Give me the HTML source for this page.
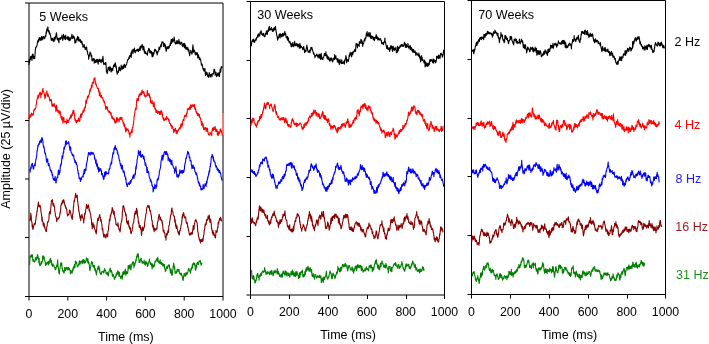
<!DOCTYPE html>
<html><head><meta charset="utf-8"><style>
html,body{margin:0;padding:0;background:#fff;}
body{width:709px;height:344px;overflow:hidden;}
svg{display:block;will-change:transform;}
text{font-family:"Liberation Sans", sans-serif;}
</style></head><body>
<svg width="709" height="344" viewBox="0 0 709 344">
<g shape-rendering="auto">
<line x1="25.0" y1="3.0" x2="223.0" y2="3.0" stroke="#000" stroke-width="1"/>
<line x1="29.0" y1="3.0" x2="29.0" y2="300.5" stroke="#000" stroke-width="1"/>
<line x1="223.0" y1="3.0" x2="223.0" y2="300.5" stroke="#000" stroke-width="1"/>
<line x1="25.0" y1="296.5" x2="223.0" y2="296.5" stroke="#000" stroke-width="1"/>
<line x1="25.0" y1="61.5" x2="29.0" y2="61.5" stroke="#000" stroke-width="1"/>
<line x1="25.0" y1="120.5" x2="29.0" y2="120.5" stroke="#000" stroke-width="1"/>
<line x1="25.0" y1="179.0" x2="29.0" y2="179.0" stroke="#000" stroke-width="1"/>
<line x1="25.0" y1="237.5" x2="29.0" y2="237.5" stroke="#000" stroke-width="1"/>
<line x1="67.8" y1="296.5" x2="67.8" y2="300.5" stroke="#000" stroke-width="1"/>
<line x1="106.6" y1="296.5" x2="106.6" y2="300.5" stroke="#000" stroke-width="1"/>
<line x1="145.4" y1="296.5" x2="145.4" y2="300.5" stroke="#000" stroke-width="1"/>
<line x1="184.2" y1="296.5" x2="184.2" y2="300.5" stroke="#000" stroke-width="1"/>
<line x1="246.5" y1="1.5" x2="444.5" y2="1.5" stroke="#000" stroke-width="1"/>
<line x1="250.5" y1="1.5" x2="250.5" y2="299.0" stroke="#000" stroke-width="1"/>
<line x1="444.5" y1="1.5" x2="444.5" y2="299.0" stroke="#000" stroke-width="1"/>
<line x1="246.5" y1="295.0" x2="444.5" y2="295.0" stroke="#000" stroke-width="1"/>
<line x1="246.5" y1="60.5" x2="250.5" y2="60.5" stroke="#000" stroke-width="1"/>
<line x1="246.5" y1="118.5" x2="250.5" y2="118.5" stroke="#000" stroke-width="1"/>
<line x1="246.5" y1="177.5" x2="250.5" y2="177.5" stroke="#000" stroke-width="1"/>
<line x1="246.5" y1="236.5" x2="250.5" y2="236.5" stroke="#000" stroke-width="1"/>
<line x1="289.5" y1="295.0" x2="289.5" y2="299.0" stroke="#000" stroke-width="1"/>
<line x1="328.5" y1="295.0" x2="328.5" y2="299.0" stroke="#000" stroke-width="1"/>
<line x1="367.5" y1="295.0" x2="367.5" y2="299.0" stroke="#000" stroke-width="1"/>
<line x1="406.5" y1="295.0" x2="406.5" y2="299.0" stroke="#000" stroke-width="1"/>
<line x1="467.5" y1="0.5" x2="665.5" y2="0.5" stroke="#000" stroke-width="1"/>
<line x1="471.5" y1="0.5" x2="471.5" y2="298.5" stroke="#000" stroke-width="1"/>
<line x1="665.5" y1="0.5" x2="665.5" y2="298.5" stroke="#000" stroke-width="1"/>
<line x1="467.5" y1="294.5" x2="665.5" y2="294.5" stroke="#000" stroke-width="1"/>
<line x1="467.5" y1="59.5" x2="471.5" y2="59.5" stroke="#000" stroke-width="1"/>
<line x1="467.5" y1="118.5" x2="471.5" y2="118.5" stroke="#000" stroke-width="1"/>
<line x1="467.5" y1="176.5" x2="471.5" y2="176.5" stroke="#000" stroke-width="1"/>
<line x1="467.5" y1="235.5" x2="471.5" y2="235.5" stroke="#000" stroke-width="1"/>
<line x1="510.5" y1="294.5" x2="510.5" y2="298.5" stroke="#000" stroke-width="1"/>
<line x1="549.5" y1="294.5" x2="549.5" y2="298.5" stroke="#000" stroke-width="1"/>
<line x1="588.5" y1="294.5" x2="588.5" y2="298.5" stroke="#000" stroke-width="1"/>
<line x1="627.5" y1="294.5" x2="627.5" y2="298.5" stroke="#000" stroke-width="1"/>
</g>
<g>
<line x1="223" y1="113" x2="223" y2="135" stroke="#ff7a7a" stroke-width="1.8"/>
<polyline fill="none" stroke="#000" stroke-width="1.1" stroke-linejoin="round" points="28.70,64.84 28.95,63.57 29.20,59.41 29.45,62.75 29.70,61.31 29.95,59.77 30.20,59.87 30.45,56.44 30.70,58.53 30.95,58.72 31.20,58.22 31.45,56.55 31.70,56.00 31.95,60.35 32.20,58.01 32.45,53.94 32.70,55.87 32.95,54.29 33.20,54.78 33.45,57.80 33.70,58.72 33.95,56.95 34.20,56.48 34.45,57.55 34.70,58.69 34.95,55.46 35.20,51.86 35.45,49.42 35.70,47.32 35.95,47.49 36.20,47.51 36.45,46.23 36.70,46.12 36.95,45.95 37.20,44.09 37.45,42.84 37.70,40.70 37.95,40.82 38.20,42.17 38.45,39.35 38.70,41.50 38.95,39.21 39.20,38.27 39.45,37.52 39.70,39.84 39.95,39.84 40.20,38.74 40.45,37.73 40.70,40.41 40.95,40.22 41.20,38.75 41.45,37.67 41.70,36.36 41.95,39.01 42.20,40.03 42.45,36.98 42.70,38.38 42.95,37.81 43.20,38.90 43.45,36.60 43.70,36.55 43.95,37.80 44.20,37.64 44.45,37.26 44.70,38.74 44.95,37.21 45.20,36.74 45.45,35.36 45.70,36.68 45.95,34.32 46.20,31.82 46.45,33.34 46.70,29.10 46.95,29.44 47.20,30.55 47.45,28.08 47.70,29.94 47.95,26.92 48.20,31.56 48.45,31.91 48.70,31.05 48.95,30.49 49.20,31.37 49.45,34.18 49.70,33.61 49.95,33.14 50.20,34.42 50.45,35.23 50.70,36.76 50.95,37.76 51.20,40.22 51.45,40.24 51.70,40.36 51.95,38.32 52.20,39.11 52.45,38.20 52.70,39.31 52.95,40.79 53.20,41.00 53.45,39.39 53.70,40.17 53.95,41.60 54.20,37.55 54.45,39.09 54.70,40.17 54.95,39.73 55.20,36.88 55.45,38.33 55.70,37.14 55.95,35.59 56.20,33.75 56.45,32.75 56.70,34.90 56.95,37.75 57.20,39.47 57.45,39.72 57.70,38.17 57.95,39.05 58.20,39.26 58.45,41.39 58.70,38.24 58.95,42.60 59.20,38.93 59.45,38.30 59.70,38.47 59.95,37.82 60.20,37.81 60.45,39.44 60.70,37.61 60.95,38.84 61.20,37.19 61.45,37.38 61.70,37.51 61.95,34.94 62.20,37.74 62.45,38.75 62.70,40.49 62.95,39.41 63.20,37.85 63.45,34.41 63.70,37.19 63.95,37.96 64.20,36.89 64.45,36.00 64.70,38.82 64.95,38.77 65.20,39.57 65.45,39.29 65.70,35.13 65.95,37.68 66.20,37.48 66.45,38.08 66.70,37.98 66.95,37.77 67.20,39.26 67.45,39.31 67.70,36.63 67.95,39.02 68.20,39.65 68.45,36.68 68.70,39.90 68.95,39.97 69.20,40.72 69.45,40.17 69.70,37.50 69.95,39.86 70.20,39.43 70.45,40.13 70.70,38.93 70.95,38.60 71.20,37.06 71.45,38.09 71.70,35.67 71.95,34.40 72.20,35.98 72.45,38.28 72.70,36.60 72.95,38.66 73.20,37.87 73.45,35.84 73.70,37.06 73.95,36.56 74.20,37.07 74.45,38.16 74.70,40.22 74.95,43.12 75.20,41.57 75.45,41.43 75.70,40.65 75.95,42.41 76.20,39.15 76.45,39.44 76.70,40.00 76.95,39.61 77.20,37.75 77.45,37.28 77.70,36.39 77.95,37.60 78.20,40.95 78.45,39.87 78.70,37.38 78.95,39.92 79.20,39.57 79.45,41.27 79.70,41.27 79.95,39.78 80.20,40.35 80.45,39.68 80.70,42.37 80.95,41.39 81.20,40.80 81.45,42.93 81.70,42.59 81.95,41.65 82.20,44.47 82.45,43.49 82.70,43.91 82.95,47.15 83.20,45.68 83.45,46.85 83.70,46.71 83.95,46.97 84.20,44.56 84.45,46.63 84.70,47.80 84.95,47.45 85.20,49.37 85.45,48.55 85.70,48.47 85.95,49.18 86.20,46.87 86.45,49.05 86.70,47.35 86.95,51.07 87.20,50.87 87.45,51.29 87.70,53.59 87.95,54.74 88.20,54.68 88.45,55.83 88.70,59.22 88.95,56.67 89.20,55.64 89.45,56.03 89.70,54.93 89.95,51.98 90.20,53.07 90.45,53.37 90.70,53.07 90.95,53.74 91.20,56.54 91.45,55.39 91.70,55.25 91.95,60.31 92.20,60.93 92.45,58.85 92.70,59.49 92.95,59.87 93.20,59.59 93.45,58.60 93.70,60.50 93.95,58.95 94.20,63.27 94.45,61.49 94.70,59.14 94.95,61.44 95.20,62.58 95.45,61.20 95.70,60.60 95.95,62.11 96.20,60.88 96.45,60.27 96.70,59.29 96.95,62.06 97.20,61.80 97.45,61.80 97.70,59.49 97.95,63.04 98.20,64.10 98.45,61.54 98.70,61.58 98.95,59.84 99.20,59.05 99.45,59.35 99.70,61.52 99.95,59.71 100.20,60.22 100.45,59.87 100.70,61.10 100.95,62.67 101.20,62.76 101.45,59.75 101.70,60.54 101.95,59.36 102.20,60.44 102.45,61.65 102.70,58.18 102.95,56.32 103.20,59.29 103.45,62.59 103.70,64.23 103.95,64.61 104.20,63.80 104.45,63.48 104.70,63.29 104.95,64.19 105.20,62.71 105.45,64.61 105.70,62.58 105.95,63.16 106.20,66.68 106.45,71.79 106.70,71.58 106.95,72.82 107.20,73.52 107.45,72.70 107.70,70.36 107.95,68.91 108.20,67.26 108.45,68.40 108.70,67.39 108.95,69.59 109.20,69.28 109.45,70.79 109.70,68.52 109.95,66.36 110.20,67.95 110.45,68.41 110.70,68.02 110.95,71.91 111.20,71.82 111.45,69.82 111.70,69.36 111.95,68.24 112.20,70.53 112.45,69.95 112.70,70.62 112.95,67.95 113.20,67.98 113.45,66.19 113.70,65.04 113.95,66.61 114.20,64.66 114.45,65.18 114.70,66.23 114.95,63.49 115.20,63.26 115.45,62.95 115.70,66.35 115.95,67.67 116.20,66.09 116.45,68.92 116.70,71.94 116.95,70.67 117.20,74.16 117.45,73.07 117.70,72.64 117.95,72.78 118.20,71.25 118.45,72.17 118.70,69.42 118.95,67.50 119.20,67.20 119.45,67.02 119.70,68.47 119.95,70.63 120.20,70.84 120.45,70.08 120.70,68.09 120.95,67.93 121.20,65.02 121.45,66.15 121.70,66.18 121.95,69.80 122.20,67.61 122.45,68.46 122.70,67.94 122.95,66.04 123.20,65.83 123.45,68.45 123.70,67.81 123.95,65.37 124.20,64.43 124.45,64.21 124.70,67.14 124.95,67.29 125.20,65.50 125.45,67.34 125.70,65.33 125.95,65.36 126.20,64.99 126.45,64.31 126.70,64.02 126.95,62.29 127.20,62.05 127.45,60.30 127.70,59.67 127.95,59.95 128.20,59.08 128.45,59.17 128.70,58.58 128.95,57.14 129.20,58.75 129.45,57.28 129.70,55.62 129.95,55.81 130.20,56.44 130.45,56.25 130.70,56.20 130.95,52.82 131.20,57.46 131.45,54.59 131.70,51.54 131.95,51.15 132.20,49.96 132.45,50.87 132.70,49.97 132.95,53.62 133.20,51.25 133.45,49.35 133.70,49.41 133.95,50.45 134.20,50.86 134.45,48.10 134.70,51.95 134.95,52.31 135.20,52.82 135.45,50.83 135.70,50.69 135.95,50.39 136.20,50.26 136.45,49.82 136.70,49.88 136.95,51.30 137.20,49.83 137.45,50.40 137.70,48.99 137.95,49.45 138.20,49.83 138.45,51.75 138.70,49.36 138.95,49.02 139.20,50.08 139.45,50.27 139.70,48.89 139.95,46.80 140.20,50.36 140.45,48.20 140.70,46.05 140.95,47.39 141.20,47.98 141.45,46.16 141.70,45.70 141.95,45.95 142.20,44.19 142.45,46.52 142.70,47.42 142.95,49.90 143.20,47.48 143.45,46.28 143.70,46.40 143.95,47.36 144.20,52.06 144.45,49.92 144.70,53.13 144.95,53.12 145.20,53.34 145.45,51.66 145.70,52.93 145.95,53.21 146.20,53.94 146.45,53.72 146.70,54.09 146.95,53.15 147.20,54.34 147.45,55.15 147.70,52.44 147.95,50.51 148.20,51.11 148.45,50.36 148.70,48.32 148.95,50.05 149.20,49.81 149.45,49.02 149.70,52.82 149.95,52.50 150.20,50.49 150.45,51.58 150.70,52.61 150.95,53.13 151.20,53.57 151.45,51.38 151.70,52.30 151.95,55.45 152.20,56.79 152.45,52.61 152.70,56.81 152.95,56.04 153.20,56.02 153.45,53.08 153.70,52.57 153.95,53.91 154.20,51.83 154.45,50.59 154.70,49.20 154.95,49.66 155.20,49.56 155.45,50.77 155.70,49.74 155.95,50.78 156.20,51.50 156.45,52.95 156.70,51.70 156.95,51.96 157.20,54.96 157.45,53.11 157.70,52.61 157.95,51.52 158.20,50.82 158.45,50.77 158.70,50.99 158.95,47.40 159.20,48.40 159.45,48.43 159.70,49.49 159.95,47.76 160.20,46.27 160.45,46.46 160.70,44.82 160.95,45.34 161.20,46.87 161.45,44.00 161.70,43.07 161.95,41.71 162.20,42.51 162.45,42.60 162.70,42.11 162.95,43.14 163.20,42.26 163.45,46.53 163.70,46.35 163.95,44.05 164.20,44.01 164.45,43.68 164.70,45.42 164.95,43.95 165.20,47.99 165.45,44.99 165.70,46.91 165.95,49.38 166.20,51.42 166.45,49.45 166.70,49.09 166.95,47.34 167.20,46.53 167.45,47.31 167.70,48.78 167.95,47.79 168.20,48.70 168.45,48.17 168.70,46.37 168.95,46.33 169.20,47.93 169.45,46.41 169.70,45.48 169.95,45.39 170.20,43.18 170.45,45.48 170.70,41.70 170.95,41.89 171.20,39.35 171.45,43.46 171.70,40.05 171.95,40.98 172.20,41.30 172.45,38.82 172.70,39.38 172.95,42.11 173.20,41.12 173.45,39.98 173.70,40.68 173.95,39.01 174.20,36.98 174.45,39.32 174.70,40.66 174.95,42.91 175.20,42.95 175.45,44.01 175.70,42.90 175.95,42.21 176.20,43.70 176.45,41.64 176.70,41.17 176.95,40.48 177.20,43.60 177.45,41.01 177.70,41.61 177.95,42.72 178.20,43.36 178.45,42.55 178.70,40.80 178.95,39.42 179.20,43.72 179.45,42.47 179.70,42.06 179.95,41.85 180.20,44.50 180.45,43.81 180.70,43.35 180.95,43.41 181.20,43.48 181.45,42.82 181.70,42.13 181.95,43.63 182.20,45.82 182.45,45.60 182.70,46.71 182.95,43.95 183.20,45.18 183.45,43.61 183.70,45.69 183.95,46.14 184.20,46.70 184.45,47.83 184.70,43.31 184.95,46.41 185.20,47.59 185.45,45.40 185.70,48.93 185.95,48.50 186.20,46.98 186.45,47.68 186.70,49.25 186.95,48.25 187.20,47.84 187.45,49.80 187.70,47.37 187.95,48.26 188.20,51.00 188.45,50.41 188.70,49.41 188.95,50.45 189.20,53.65 189.45,52.98 189.70,55.69 189.95,53.06 190.20,52.40 190.45,51.71 190.70,50.38 190.95,51.98 191.20,51.90 191.45,52.67 191.70,53.85 191.95,54.23 192.20,52.70 192.45,50.00 192.70,47.51 192.95,44.70 193.20,47.27 193.45,52.16 193.70,51.62 193.95,49.81 194.20,50.16 194.45,50.64 194.70,51.85 194.95,52.58 195.20,54.19 195.45,54.94 195.70,54.26 195.95,52.18 196.20,53.83 196.45,52.96 196.70,54.73 196.95,53.64 197.20,52.78 197.45,52.82 197.70,58.06 197.95,57.83 198.20,54.49 198.45,55.29 198.70,56.04 198.95,57.92 199.20,57.53 199.45,59.64 199.70,58.14 199.95,57.88 200.20,58.91 200.45,59.50 200.70,60.23 200.95,61.74 201.20,63.12 201.45,65.23 201.70,63.80 201.95,65.51 202.20,64.37 202.45,66.11 202.70,66.91 202.95,68.49 203.20,69.52 203.45,69.83 203.70,68.90 203.95,70.40 204.20,71.27 204.45,68.79 204.70,69.36 204.95,68.64 205.20,72.06 205.45,75.64 205.70,73.40 205.95,73.72 206.20,72.10 206.45,74.43 206.70,74.59 206.95,73.57 207.20,72.84 207.45,76.10 207.70,75.76 207.95,75.11 208.20,75.31 208.45,77.25 208.70,74.89 208.95,77.17 209.20,72.47 209.45,73.27 209.70,74.71 209.95,74.31 210.20,75.06 210.45,76.96 210.70,74.78 210.95,74.84 211.20,74.86 211.45,74.36 211.70,75.66 211.95,76.96 212.20,74.00 212.45,73.77 212.70,73.54 212.95,74.30 213.20,73.74 213.45,74.11 213.70,72.72 213.95,69.38 214.20,70.05 214.45,69.42 214.70,70.48 214.95,71.32 215.20,75.39 215.45,73.27 215.70,73.91 215.95,72.34 216.20,73.49 216.45,74.82 216.70,76.65 216.95,75.27 217.20,75.94 217.45,74.55 217.70,73.36 217.95,73.28 218.20,72.90 218.45,73.95 218.70,75.50 218.95,76.35 219.20,72.77 219.45,76.36 219.70,73.35 219.95,71.47 220.20,69.03 220.45,71.05 220.70,72.16 220.95,68.81 221.20,66.74 221.45,68.20 221.70,66.47 221.95,66.84 222.20,67.62"/>
<polyline fill="none" stroke="#ff0000" stroke-width="1.1" stroke-linejoin="round" points="28.90,119.07 29.15,115.98 29.40,116.85 29.65,115.52 29.90,117.64 30.15,115.97 30.40,114.73 30.65,115.27 30.90,116.64 31.15,114.37 31.40,113.36 31.65,113.00 31.90,114.30 32.15,114.98 32.40,114.47 32.65,114.00 32.90,115.47 33.15,114.78 33.40,114.29 33.65,112.12 33.90,109.68 34.15,109.90 34.40,110.41 34.65,108.72 34.90,109.43 35.15,109.27 35.40,108.74 35.65,107.99 35.90,107.45 36.15,104.72 36.40,104.00 36.65,101.66 36.90,99.39 37.15,99.43 37.40,98.42 37.65,97.45 37.90,95.30 38.15,98.26 38.40,97.14 38.65,97.03 38.90,94.47 39.15,95.47 39.40,94.36 39.65,92.52 39.90,93.72 40.15,94.79 40.40,92.21 40.65,94.77 40.90,97.83 41.15,93.70 41.40,94.66 41.65,92.98 41.90,93.32 42.15,93.84 42.40,89.45 42.65,91.77 42.90,88.25 43.15,91.39 43.40,91.13 43.65,91.89 43.90,92.69 44.15,93.02 44.40,95.86 44.65,94.26 44.90,98.73 45.15,97.74 45.40,97.43 45.65,95.11 45.90,94.29 46.15,92.54 46.40,92.71 46.65,92.78 46.90,90.86 47.15,93.60 47.40,95.67 47.65,96.20 47.90,96.32 48.15,94.07 48.40,95.82 48.65,96.14 48.90,96.84 49.15,97.12 49.40,98.19 49.65,100.58 49.90,100.89 50.15,99.54 50.40,100.81 50.65,100.45 50.90,99.27 51.15,99.63 51.40,99.87 51.65,103.78 51.90,105.50 52.15,106.54 52.40,104.92 52.65,104.04 52.90,104.19 53.15,106.23 53.40,105.61 53.65,104.62 53.90,105.32 54.15,103.28 54.40,106.06 54.65,105.13 54.90,106.44 55.15,107.26 55.40,106.74 55.65,108.28 55.90,111.66 56.15,105.91 56.40,108.47 56.65,104.97 56.90,109.19 57.15,110.77 57.40,110.46 57.65,110.06 57.90,112.12 58.15,111.37 58.40,111.51 58.65,112.20 58.90,110.57 59.15,114.03 59.40,112.79 59.65,112.24 59.90,110.95 60.15,111.45 60.40,113.15 60.65,114.48 60.90,117.34 61.15,118.13 61.40,117.08 61.65,119.46 61.90,119.84 62.15,116.64 62.40,120.27 62.65,119.75 62.90,123.13 63.15,120.69 63.40,117.59 63.65,120.17 63.90,117.75 64.15,120.88 64.40,122.20 64.65,122.00 64.90,121.56 65.15,121.77 65.40,121.64 65.65,121.19 65.90,122.42 66.15,122.59 66.40,123.85 66.65,122.70 66.90,119.17 67.15,122.44 67.40,121.53 67.65,120.42 67.90,122.43 68.15,122.52 68.40,121.57 68.65,121.19 68.90,119.63 69.15,119.94 69.40,119.53 69.65,117.98 69.90,118.71 70.15,117.05 70.40,117.29 70.65,115.15 70.90,116.76 71.15,118.06 71.40,116.52 71.65,114.92 71.90,114.00 72.15,115.66 72.40,113.48 72.65,112.31 72.90,111.83 73.15,110.08 73.40,113.27 73.65,110.53 73.90,110.81 74.15,113.73 74.40,114.55 74.65,116.29 74.90,120.30 75.15,118.65 75.40,120.53 75.65,119.50 75.90,121.60 76.15,122.83 76.40,120.52 76.65,122.57 76.90,120.53 77.15,120.28 77.40,121.38 77.65,120.45 77.90,121.40 78.15,121.44 78.40,117.99 78.65,117.95 78.90,119.94 79.15,120.42 79.40,119.39 79.65,121.40 79.90,120.10 80.15,115.92 80.40,117.36 80.65,114.01 80.90,115.73 81.15,117.60 81.40,115.10 81.65,114.21 81.90,113.30 82.15,114.64 82.40,112.84 82.65,112.44 82.90,111.82 83.15,110.42 83.40,111.66 83.65,112.21 83.90,111.34 84.15,108.36 84.40,110.54 84.65,108.54 84.90,107.41 85.15,106.28 85.40,107.56 85.65,104.34 85.90,100.10 86.15,103.21 86.40,103.34 86.65,100.37 86.90,100.39 87.15,98.99 87.40,96.66 87.65,98.82 87.90,97.29 88.15,95.50 88.40,96.89 88.65,95.99 88.90,94.96 89.15,94.50 89.40,93.49 89.65,90.57 89.90,91.94 90.15,88.79 90.40,90.87 90.65,89.36 90.90,89.11 91.15,88.79 91.40,85.15 91.65,86.26 91.90,87.53 92.15,86.19 92.40,82.42 92.65,83.15 92.90,82.42 93.15,83.23 93.40,82.05 93.65,82.86 93.90,78.55 94.15,79.84 94.40,78.80 94.65,78.55 94.90,77.56 95.15,80.12 95.40,83.71 95.65,82.24 95.90,84.81 96.15,83.86 96.40,85.60 96.65,86.40 96.90,86.87 97.15,87.38 97.40,88.38 97.65,88.38 97.90,88.34 98.15,88.85 98.40,88.30 98.65,91.73 98.90,90.61 99.15,91.36 99.40,95.38 99.65,92.10 99.90,92.13 100.15,93.17 100.40,96.97 100.65,96.21 100.90,95.98 101.15,97.11 101.40,95.33 101.65,96.84 101.90,98.10 102.15,98.13 102.40,97.85 102.65,98.59 102.90,97.87 103.15,100.55 103.40,100.55 103.65,100.38 103.90,101.84 104.15,102.70 104.40,101.25 104.65,103.50 104.90,103.09 105.15,105.48 105.40,105.95 105.65,109.14 105.90,107.78 106.15,106.97 106.40,108.32 106.65,106.50 106.90,108.11 107.15,109.07 107.40,106.75 107.65,109.52 107.90,110.58 108.15,111.18 108.40,111.27 108.65,111.01 108.90,112.49 109.15,111.25 109.40,112.75 109.65,111.12 109.90,113.25 110.15,112.42 110.40,112.35 110.65,112.88 110.90,115.07 111.15,113.13 111.40,116.04 111.65,116.24 111.90,118.34 112.15,116.02 112.40,118.52 112.65,118.63 112.90,117.78 113.15,117.85 113.40,119.40 113.65,119.64 113.90,119.83 114.15,120.18 114.40,118.90 114.65,122.07 114.90,121.75 115.15,123.13 115.40,122.85 115.65,121.37 115.90,120.30 116.15,122.49 116.40,121.46 116.65,117.41 116.90,119.05 117.15,121.58 117.40,118.06 117.65,118.18 117.90,119.84 118.15,119.36 118.40,119.96 118.65,119.50 118.90,121.87 119.15,121.71 119.40,118.85 119.65,118.63 119.90,117.59 120.15,117.85 120.40,119.06 120.65,119.54 120.90,117.33 121.15,119.37 121.40,119.15 121.65,118.73 121.90,117.19 122.15,119.64 122.40,120.93 122.65,121.06 122.90,121.50 123.15,123.45 123.40,122.53 123.65,123.04 123.90,125.67 124.15,126.35 124.40,125.22 124.65,124.00 124.90,127.88 125.15,127.40 125.40,129.39 125.65,131.89 125.90,129.85 126.15,127.68 126.40,129.88 126.65,129.09 126.90,130.67 127.15,129.24 127.40,129.68 127.65,129.96 127.90,128.73 128.15,130.12 128.40,130.07 128.65,131.66 128.90,132.37 129.15,134.14 129.40,134.01 129.65,132.85 129.90,137.15 130.15,134.12 130.40,133.45 130.65,133.62 130.90,132.15 131.15,132.76 131.40,131.32 131.65,129.78 131.90,131.84 132.15,132.47 132.40,127.84 132.65,127.02 132.90,127.74 133.15,124.55 133.40,124.64 133.65,121.81 133.90,119.47 134.15,115.79 134.40,115.94 134.65,113.95 134.90,111.61 135.15,110.52 135.40,108.62 135.65,108.11 135.90,109.13 136.15,109.78 136.40,104.52 136.65,101.12 136.90,99.41 137.15,98.48 137.40,100.30 137.65,99.89 137.90,100.86 138.15,98.64 138.40,100.68 138.65,96.35 138.90,96.28 139.15,94.39 139.40,95.47 139.65,95.38 139.90,95.95 140.15,93.58 140.40,93.54 140.65,94.76 140.90,92.84 141.15,92.41 141.40,94.33 141.65,94.47 141.90,90.35 142.15,90.11 142.40,92.58 142.65,92.30 142.90,92.57 143.15,91.47 143.40,93.48 143.65,93.28 143.90,91.92 144.15,92.85 144.40,95.76 144.65,96.08 144.90,95.14 145.15,96.16 145.40,97.04 145.65,96.44 145.90,95.71 146.15,96.27 146.40,95.94 146.65,96.04 146.90,95.26 147.15,91.09 147.40,90.44 147.65,95.37 147.90,94.80 148.15,93.49 148.40,94.99 148.65,94.24 148.90,95.61 149.15,93.90 149.40,94.26 149.65,97.53 149.90,97.92 150.15,96.74 150.40,98.80 150.65,102.78 150.90,102.76 151.15,103.12 151.40,101.80 151.65,103.23 151.90,100.53 152.15,100.66 152.40,103.44 152.65,103.22 152.90,103.01 153.15,104.54 153.40,106.75 153.65,103.95 153.90,102.96 154.15,102.16 154.40,106.79 154.65,107.51 154.90,108.51 155.15,109.67 155.40,108.41 155.65,109.00 155.90,111.74 156.15,112.55 156.40,111.02 156.65,112.42 156.90,110.06 157.15,111.33 157.40,111.50 157.65,113.35 157.90,112.44 158.15,112.27 158.40,111.70 158.65,111.37 158.90,112.13 159.15,113.99 159.40,112.84 159.65,114.35 159.90,111.40 160.15,114.57 160.40,111.95 160.65,114.13 160.90,112.81 161.15,110.27 161.40,112.97 161.65,111.34 161.90,111.92 162.15,114.55 162.40,113.59 162.65,117.05 162.90,117.71 163.15,118.46 163.40,119.55 163.65,117.73 163.90,120.78 164.15,119.98 164.40,119.35 164.65,119.69 164.90,120.18 165.15,119.55 165.40,118.46 165.65,118.03 165.90,119.49 166.15,119.20 166.40,119.58 166.65,116.42 166.90,117.06 167.15,117.92 167.40,117.84 167.65,118.55 167.90,118.58 168.15,118.41 168.40,119.67 168.65,120.03 168.90,121.33 169.15,119.51 169.40,123.20 169.65,122.88 169.90,123.45 170.15,123.16 170.40,123.79 170.65,125.49 170.90,125.74 171.15,126.34 171.40,125.36 171.65,124.97 171.90,128.24 172.15,126.96 172.40,127.05 172.65,126.67 172.90,127.98 173.15,129.11 173.40,129.51 173.65,132.59 173.90,129.68 174.15,129.49 174.40,130.52 174.65,131.43 174.90,129.26 175.15,128.62 175.40,128.18 175.65,129.70 175.90,130.12 176.15,133.48 176.40,130.24 176.65,130.93 176.90,130.70 177.15,134.01 177.40,130.81 177.65,131.24 177.90,131.30 178.15,131.10 178.40,129.61 178.65,129.94 178.90,129.16 179.15,128.16 179.40,128.42 179.65,127.50 179.90,127.78 180.15,129.12 180.40,127.33 180.65,125.13 180.90,125.34 181.15,123.54 181.40,125.36 181.65,123.99 181.90,127.09 182.15,124.45 182.40,124.94 182.65,121.91 182.90,120.84 183.15,119.51 183.40,120.41 183.65,120.51 183.90,120.77 184.15,117.60 184.40,116.57 184.65,115.50 184.90,115.71 185.15,116.11 185.40,115.02 185.65,116.19 185.90,114.97 186.15,117.06 186.40,114.94 186.65,112.69 186.90,112.71 187.15,113.58 187.40,109.00 187.65,108.79 187.90,108.82 188.15,109.43 188.40,109.33 188.65,108.47 188.90,108.24 189.15,110.02 189.40,107.61 189.65,107.51 189.90,108.15 190.15,105.92 190.40,109.10 190.65,107.22 190.90,104.50 191.15,106.42 191.40,107.42 191.65,105.87 191.90,105.36 192.15,105.85 192.40,104.82 192.65,106.49 192.90,104.96 193.15,106.21 193.40,105.46 193.65,105.22 193.90,105.92 194.15,106.37 194.40,104.20 194.65,107.39 194.90,109.12 195.15,109.49 195.40,107.67 195.65,108.85 195.90,111.39 196.15,112.08 196.40,111.27 196.65,113.56 196.90,112.15 197.15,112.84 197.40,115.28 197.65,115.57 197.90,113.87 198.15,113.20 198.40,115.42 198.65,114.23 198.90,114.54 199.15,116.44 199.40,114.60 199.65,117.81 199.90,117.63 200.15,117.38 200.40,118.04 200.65,119.30 200.90,120.76 201.15,121.70 201.40,124.15 201.65,125.48 201.90,121.44 202.15,123.76 202.40,123.40 202.65,123.55 202.90,127.17 203.15,124.47 203.40,126.77 203.65,129.36 203.90,129.14 204.15,127.27 204.40,129.76 204.65,129.18 204.90,128.31 205.15,128.32 205.40,129.28 205.65,127.41 205.90,128.36 206.15,131.17 206.40,130.91 206.65,131.35 206.90,128.19 207.15,131.11 207.40,127.97 207.65,131.47 207.90,131.06 208.15,133.30 208.40,134.60 208.65,134.30 208.90,133.96 209.15,134.91 209.40,135.06 209.65,134.08 209.90,134.90 210.15,132.15 210.40,132.67 210.65,133.11 210.90,133.84 211.15,133.94 211.40,132.74 211.65,135.76 211.90,131.37 212.15,130.30 212.40,128.42 212.65,128.20 212.90,129.42 213.15,130.82 213.40,129.90 213.65,129.38 213.90,127.04 214.15,128.55 214.40,129.54 214.65,129.04 214.90,128.54 215.15,126.47 215.40,128.95 215.65,130.81 215.90,131.53 216.15,130.18 216.40,130.04 216.65,131.09 216.90,129.04 217.15,131.50 217.40,134.92 217.65,133.59 217.90,135.09 218.15,131.56 218.40,134.57 218.65,135.24 218.90,133.21 219.15,132.48 219.40,133.27 219.65,132.65 219.90,131.16 220.15,129.74 220.40,128.82 220.65,129.51 220.90,132.02 221.15,131.91 221.40,130.83 221.65,132.26 221.90,132.90 222.15,135.18 222.40,135.82"/>
<polyline fill="none" stroke="#0000ff" stroke-width="1.1" stroke-linejoin="round" points="29.90,169.03 30.15,172.24 30.40,168.90 30.65,169.09 30.90,166.70 31.15,168.40 31.40,165.25 31.65,164.13 31.90,163.93 32.15,164.51 32.40,163.21 32.65,166.16 32.90,167.16 33.15,168.23 33.40,169.22 33.65,169.02 33.90,166.17 34.15,165.15 34.40,165.07 34.65,165.38 34.90,163.63 35.15,166.03 35.40,162.98 35.65,161.53 35.90,159.05 36.15,159.14 36.40,157.13 36.65,156.15 36.90,152.98 37.15,150.15 37.40,150.33 37.65,147.84 37.90,145.37 38.15,146.38 38.40,144.61 38.65,143.99 38.90,143.76 39.15,144.57 39.40,142.97 39.65,141.20 39.90,143.01 40.15,142.02 40.40,140.89 40.65,141.76 40.90,139.83 41.15,140.92 41.40,142.49 41.65,138.52 41.90,137.65 42.15,138.06 42.40,138.45 42.65,139.87 42.90,141.01 43.15,144.85 43.40,146.26 43.65,147.27 43.90,146.27 44.15,148.25 44.40,149.26 44.65,151.97 44.90,153.40 45.15,153.65 45.40,153.04 45.65,154.56 45.90,155.98 46.15,158.08 46.40,160.09 46.65,162.27 46.90,159.74 47.15,160.26 47.40,160.63 47.65,158.77 47.90,162.30 48.15,164.46 48.40,165.60 48.65,163.67 48.90,163.65 49.15,165.00 49.40,166.14 49.65,166.22 49.90,168.04 50.15,169.40 50.40,170.97 50.65,170.74 50.90,170.13 51.15,170.42 51.40,171.95 51.65,172.94 51.90,171.98 52.15,175.09 52.40,174.16 52.65,174.48 52.90,177.13 53.15,178.75 53.40,179.46 53.65,179.91 53.90,179.01 54.15,178.31 54.40,179.88 54.65,180.41 54.90,178.69 55.15,176.29 55.40,180.70 55.65,179.72 55.90,182.94 56.15,182.57 56.40,179.96 56.65,178.63 56.90,177.72 57.15,178.02 57.40,176.52 57.65,177.82 57.90,174.47 58.15,172.99 58.40,169.95 58.65,173.32 58.90,172.52 59.15,174.64 59.40,173.05 59.65,170.12 59.90,172.82 60.15,168.47 60.40,165.10 60.65,166.16 60.90,163.90 61.15,164.89 61.40,163.85 61.65,160.41 61.90,158.39 62.15,155.77 62.40,158.54 62.65,158.18 62.90,155.92 63.15,153.68 63.40,151.44 63.65,152.89 63.90,147.63 64.15,147.90 64.40,149.25 64.65,146.98 64.90,146.09 65.15,146.58 65.40,143.55 65.65,141.10 65.90,145.01 66.15,142.05 66.40,140.90 66.65,143.36 66.90,144.14 67.15,143.44 67.40,143.33 67.65,143.08 67.90,143.11 68.15,142.43 68.40,143.46 68.65,141.63 68.90,143.13 69.15,145.07 69.40,146.88 69.65,147.61 69.90,150.20 70.15,149.86 70.40,146.92 70.65,147.30 70.90,150.89 71.15,152.59 71.40,152.77 71.65,153.22 71.90,153.13 72.15,154.34 72.40,155.57 72.65,154.64 72.90,155.62 73.15,155.90 73.40,155.46 73.65,155.01 73.90,158.17 74.15,158.68 74.40,160.20 74.65,159.74 74.90,162.49 75.15,161.44 75.40,160.77 75.65,161.64 75.90,163.39 76.15,164.43 76.40,162.65 76.65,164.92 76.90,164.76 77.15,164.90 77.40,168.22 77.65,170.33 77.90,170.09 78.15,173.33 78.40,173.67 78.65,173.20 78.90,176.25 79.15,178.60 79.40,177.76 79.65,178.86 79.90,178.44 80.15,177.92 80.40,181.56 80.65,178.29 80.90,178.85 81.15,178.57 81.40,179.66 81.65,177.98 81.90,176.90 82.15,176.79 82.40,176.37 82.65,176.23 82.90,175.57 83.15,176.94 83.40,173.39 83.65,174.57 83.90,172.09 84.15,169.67 84.40,173.77 84.65,172.58 84.90,171.75 85.15,169.15 85.40,170.08 85.65,168.76 85.90,170.42 86.15,166.99 86.40,164.63 86.65,162.78 86.90,162.68 87.15,161.14 87.40,160.21 87.65,157.14 87.90,156.68 88.15,155.47 88.40,152.96 88.65,152.47 88.90,153.07 89.15,153.81 89.40,153.35 89.65,152.71 89.90,154.87 90.15,153.67 90.40,154.99 90.65,154.40 90.90,152.39 91.15,152.37 91.40,152.20 91.65,152.66 91.90,153.70 92.15,154.34 92.40,152.48 92.65,152.99 92.90,152.97 93.15,152.93 93.40,152.90 93.65,154.20 93.90,154.90 94.15,154.76 94.40,155.67 94.65,158.99 94.90,157.76 95.15,159.72 95.40,160.30 95.65,163.17 95.90,160.76 96.15,159.75 96.40,164.30 96.65,165.68 96.90,166.42 97.15,164.35 97.40,163.76 97.65,168.44 97.90,169.10 98.15,167.98 98.40,167.38 98.65,171.90 98.90,167.21 99.15,171.44 99.40,170.06 99.65,169.85 99.90,168.93 100.15,170.18 100.40,169.87 100.65,168.62 100.90,169.45 101.15,171.55 101.40,170.54 101.65,174.79 101.90,173.45 102.15,173.90 102.40,173.55 102.65,175.05 102.90,176.80 103.15,175.82 103.40,179.33 103.65,176.28 103.90,179.13 104.15,177.38 104.40,176.09 104.65,172.23 104.90,173.96 105.15,176.12 105.40,171.58 105.65,172.33 105.90,175.04 106.15,173.10 106.40,171.91 106.65,173.12 106.90,173.67 107.15,173.40 107.40,173.42 107.65,173.50 107.90,173.77 108.15,173.05 108.40,174.10 108.65,173.21 108.90,170.33 109.15,168.82 109.40,169.63 109.65,168.88 109.90,168.33 110.15,165.67 110.40,164.75 110.65,164.07 110.90,164.66 111.15,162.04 111.40,162.32 111.65,163.80 111.90,160.19 112.15,158.18 112.40,157.26 112.65,154.65 112.90,153.55 113.15,152.26 113.40,152.69 113.65,154.02 113.90,149.56 114.15,148.28 114.40,147.63 114.65,149.80 114.90,147.14 115.15,145.61 115.40,145.95 115.65,148.89 115.90,148.66 116.15,149.39 116.40,148.40 116.65,149.36 116.90,150.58 117.15,150.31 117.40,153.53 117.65,151.71 117.90,154.44 118.15,154.28 118.40,155.50 118.65,155.84 118.90,158.19 119.15,159.36 119.40,160.59 119.65,160.25 119.90,162.29 120.15,163.77 120.40,165.17 120.65,165.93 120.90,163.83 121.15,165.62 121.40,168.89 121.65,168.28 121.90,167.05 122.15,167.27 122.40,165.23 122.65,169.67 122.90,170.06 123.15,172.14 123.40,171.91 123.65,171.93 123.90,170.82 124.15,173.17 124.40,172.25 124.65,176.23 124.90,175.69 125.15,176.83 125.40,177.21 125.65,179.63 125.90,178.16 126.15,182.08 126.40,183.12 126.65,184.74 126.90,185.17 127.15,186.12 127.40,186.59 127.65,184.57 127.90,184.43 128.15,182.90 128.40,183.23 128.65,183.17 128.90,183.98 129.15,184.16 129.40,184.47 129.65,183.37 129.90,182.02 130.15,181.17 130.40,183.46 130.65,180.55 130.90,182.19 131.15,181.85 131.40,179.96 131.65,179.81 131.90,179.25 132.15,179.19 132.40,177.77 132.65,176.85 132.90,177.36 133.15,176.23 133.40,174.70 133.65,176.48 133.90,178.72 134.15,176.35 134.40,176.11 134.65,175.93 134.90,174.36 135.15,172.87 135.40,174.59 135.65,168.94 135.90,166.36 136.15,169.32 136.40,165.78 136.65,164.03 136.90,163.48 137.15,159.33 137.40,158.43 137.65,157.65 137.90,155.64 138.15,155.20 138.40,150.83 138.65,150.60 138.90,151.29 139.15,153.58 139.40,152.55 139.65,155.32 139.90,155.50 140.15,155.01 140.40,151.10 140.65,156.95 140.90,157.01 141.15,155.53 141.40,157.20 141.65,155.91 141.90,156.37 142.15,154.69 142.40,154.51 142.65,154.92 142.90,156.75 143.15,156.77 143.40,159.01 143.65,158.05 143.90,156.01 144.15,158.62 144.40,158.97 144.65,161.63 144.90,162.23 145.15,165.09 145.40,162.87 145.65,163.27 145.90,164.28 146.15,166.07 146.40,166.35 146.65,167.66 146.90,172.47 147.15,167.52 147.40,169.96 147.65,170.72 147.90,172.59 148.15,171.22 148.40,172.19 148.65,171.96 148.90,174.37 149.15,175.98 149.40,177.87 149.65,177.74 149.90,178.53 150.15,178.94 150.40,181.40 150.65,179.24 150.90,181.31 151.15,180.67 151.40,182.60 151.65,181.91 151.90,185.57 152.15,184.80 152.40,185.60 152.65,187.03 152.90,186.49 153.15,191.92 153.40,190.71 153.65,189.11 153.90,189.04 154.15,187.25 154.40,188.56 154.65,186.86 154.90,183.95 155.15,187.45 155.40,186.59 155.65,185.59 155.90,188.58 156.15,188.03 156.40,186.18 156.65,186.82 156.90,182.38 157.15,179.58 157.40,180.95 157.65,178.58 157.90,180.21 158.15,178.96 158.40,179.18 158.65,177.21 158.90,175.38 159.15,175.09 159.40,171.02 159.65,170.57 159.90,170.23 160.15,168.66 160.40,167.88 160.65,166.49 160.90,163.06 161.15,160.67 161.40,159.45 161.65,158.52 161.90,157.50 162.15,155.12 162.40,158.27 162.65,158.70 162.90,160.30 163.15,156.96 163.40,154.76 163.65,156.57 163.90,153.72 164.15,152.29 164.40,152.02 164.65,151.55 164.90,152.37 165.15,151.51 165.40,154.20 165.65,154.39 165.90,151.79 166.15,152.91 166.40,154.09 166.65,151.59 166.90,153.50 167.15,154.96 167.40,153.77 167.65,154.33 167.90,154.45 168.15,160.67 168.40,157.13 168.65,157.95 168.90,158.42 169.15,158.48 169.40,158.80 169.65,161.58 169.90,160.64 170.15,160.37 170.40,159.37 170.65,160.13 170.90,163.21 171.15,164.38 171.40,163.51 171.65,164.79 171.90,160.30 172.15,164.81 172.40,164.56 172.65,164.91 172.90,165.33 173.15,166.61 173.40,167.22 173.65,168.16 173.90,168.48 174.15,168.41 174.40,168.71 174.65,173.10 174.90,170.55 175.15,169.83 175.40,170.87 175.65,168.90 175.90,166.42 176.15,169.25 176.40,171.69 176.65,173.25 176.90,176.60 177.15,175.59 177.40,174.95 177.65,174.77 177.90,177.18 178.15,177.57 178.40,174.87 178.65,175.81 178.90,176.11 179.15,175.91 179.40,173.95 179.65,171.91 179.90,169.71 180.15,171.74 180.40,172.44 180.65,171.84 180.90,173.34 181.15,172.40 181.40,170.44 181.65,171.14 181.90,172.66 182.15,172.72 182.40,170.50 182.65,173.28 182.90,170.26 183.15,171.30 183.40,172.37 183.65,172.43 183.90,171.63 184.15,169.69 184.40,169.17 184.65,165.15 184.90,164.91 185.15,162.79 185.40,162.66 185.65,160.29 185.90,158.00 186.15,158.80 186.40,158.41 186.65,156.59 186.90,155.61 187.15,154.42 187.40,154.00 187.65,151.22 187.90,153.52 188.15,152.20 188.40,152.21 188.65,153.15 188.90,154.60 189.15,156.36 189.40,157.97 189.65,156.74 189.90,157.38 190.15,160.94 190.40,160.50 190.65,161.05 190.90,160.44 191.15,161.87 191.40,165.28 191.65,165.52 191.90,168.68 192.15,165.24 192.40,167.06 192.65,165.26 192.90,168.28 193.15,164.96 193.40,167.68 193.65,166.42 193.90,167.68 194.15,168.46 194.40,167.64 194.65,169.93 194.90,171.63 195.15,171.78 195.40,172.53 195.65,172.39 195.90,174.48 196.15,174.42 196.40,173.36 196.65,173.14 196.90,175.61 197.15,175.42 197.40,178.44 197.65,177.72 197.90,180.15 198.15,181.31 198.40,182.92 198.65,182.36 198.90,181.91 199.15,183.55 199.40,185.70 199.65,183.53 199.90,186.07 200.15,186.15 200.40,187.20 200.65,185.72 200.90,189.66 201.15,190.09 201.40,189.30 201.65,189.23 201.90,188.59 202.15,189.71 202.40,189.46 202.65,188.00 202.90,188.16 203.15,184.32 203.40,185.78 203.65,187.28 203.90,188.97 204.15,187.51 204.40,186.01 204.65,186.22 204.90,184.77 205.15,183.64 205.40,184.74 205.65,185.47 205.90,185.04 206.15,186.50 206.40,182.11 206.65,180.96 206.90,183.22 207.15,180.35 207.40,179.48 207.65,177.04 207.90,178.24 208.15,176.09 208.40,175.48 208.65,172.99 208.90,174.17 209.15,170.79 209.40,171.17 209.65,172.28 209.90,168.25 210.15,166.16 210.40,166.59 210.65,163.31 210.90,163.04 211.15,158.79 211.40,156.63 211.65,156.31 211.90,156.56 212.15,154.20 212.40,156.85 212.65,155.29 212.90,157.14 213.15,158.97 213.40,157.04 213.65,161.09 213.90,159.85 214.15,160.75 214.40,162.26 214.65,162.25 214.90,162.15 215.15,162.58 215.40,165.12 215.65,164.88 215.90,167.31 216.15,166.70 216.40,165.97 216.65,166.97 216.90,168.00 217.15,169.64 217.40,168.59 217.65,168.28 217.90,170.61 218.15,169.94 218.40,169.46 218.65,171.08 218.90,172.33 219.15,172.67 219.40,170.18 219.65,170.89 219.90,172.03 220.15,172.35 220.40,173.68 220.65,173.04 220.90,175.27 221.15,177.03 221.40,177.57 221.65,178.79 221.90,180.12 222.15,179.70 222.40,178.81"/>
<polyline fill="none" stroke="#880000" stroke-width="1.1" stroke-linejoin="round" points="29.70,220.92 29.95,220.40 30.20,217.69 30.45,219.82 30.70,213.16 30.95,214.80 31.20,215.78 31.45,220.81 31.70,222.00 31.95,221.88 32.20,226.88 32.45,224.80 32.70,229.09 32.95,227.33 33.20,229.14 33.45,226.15 33.70,226.10 33.95,224.63 34.20,223.45 34.45,223.39 34.70,223.71 34.95,224.61 35.20,223.44 35.45,222.94 35.70,220.19 35.95,219.26 36.20,215.91 36.45,215.89 36.70,213.98 36.95,211.16 37.20,211.54 37.45,208.16 37.70,206.59 37.95,206.67 38.20,203.87 38.45,201.95 38.70,206.33 38.95,206.14 39.20,205.34 39.45,207.05 39.70,206.36 39.95,205.37 40.20,205.83 40.45,206.87 40.70,207.88 40.95,211.90 41.20,212.51 41.45,214.66 41.70,216.65 41.95,221.01 42.20,217.07 42.45,221.36 42.70,221.48 42.95,222.27 43.20,225.10 43.45,222.71 43.70,223.05 43.95,226.74 44.20,223.64 44.45,227.33 44.70,226.35 44.95,228.63 45.20,228.65 45.45,229.59 45.70,230.31 45.95,231.36 46.20,229.79 46.45,231.43 46.70,227.33 46.95,226.43 47.20,226.21 47.45,221.75 47.70,222.00 47.95,222.36 48.20,221.23 48.45,221.40 48.70,220.65 48.95,218.14 49.20,213.15 49.45,213.17 49.70,211.47 49.95,211.70 50.20,214.06 50.45,212.39 50.70,209.00 50.95,206.92 51.20,203.56 51.45,200.48 51.70,201.46 51.95,201.04 52.20,200.04 52.45,199.64 52.70,202.50 52.95,205.15 53.20,204.66 53.45,206.13 53.70,203.63 53.95,205.77 54.20,205.85 54.45,207.06 54.70,209.59 54.95,211.74 55.20,213.01 55.45,216.04 55.70,216.28 55.95,216.83 56.20,217.60 56.45,218.55 56.70,221.76 56.95,220.25 57.20,219.19 57.45,218.62 57.70,218.16 57.95,218.91 58.20,219.17 58.45,218.42 58.70,217.71 58.95,217.43 59.20,217.82 59.45,216.55 59.70,215.87 59.95,212.76 60.20,213.66 60.45,211.49 60.70,208.96 60.95,204.92 61.20,205.37 61.45,203.53 61.70,203.32 61.95,203.99 62.20,202.12 62.45,200.50 62.70,202.99 62.95,202.94 63.20,201.52 63.45,200.85 63.70,199.65 63.95,200.46 64.20,202.10 64.45,202.86 64.70,204.01 64.95,205.90 65.20,205.55 65.45,205.74 65.70,208.14 65.95,207.03 66.20,208.71 66.45,208.53 66.70,209.42 66.95,211.89 67.20,213.96 67.45,215.01 67.70,216.04 67.95,214.94 68.20,214.82 68.45,214.97 68.70,213.96 68.95,214.28 69.20,213.02 69.45,210.01 69.70,210.67 69.95,210.22 70.20,210.89 70.45,213.15 70.70,213.09 70.95,214.83 71.20,214.80 71.45,217.20 71.70,218.08 71.95,217.54 72.20,219.40 72.45,218.17 72.70,213.84 72.95,213.68 73.20,210.93 73.45,206.36 73.70,205.64 73.95,201.16 74.20,200.41 74.45,201.49 74.70,199.67 74.95,197.55 75.20,196.41 75.45,194.89 75.70,193.38 75.95,197.18 76.20,196.34 76.45,195.68 76.70,197.22 76.95,197.77 77.20,195.40 77.45,199.04 77.70,201.69 77.95,203.26 78.20,206.14 78.45,206.35 78.70,211.00 78.95,210.51 79.20,212.82 79.45,212.93 79.70,216.18 79.95,217.21 80.20,218.65 80.45,215.78 80.70,220.78 80.95,218.54 81.20,217.85 81.45,217.24 81.70,215.35 81.95,214.31 82.20,215.55 82.45,216.31 82.70,217.85 82.95,218.00 83.20,219.19 83.45,218.88 83.70,222.92 83.95,219.92 84.20,219.15 84.45,216.24 84.70,213.18 84.95,214.54 85.20,213.29 85.45,212.79 85.70,209.69 85.95,208.93 86.20,207.31 86.45,204.19 86.70,205.68 86.95,208.03 87.20,206.50 87.45,208.39 87.70,207.07 87.95,205.63 88.20,205.03 88.45,204.87 88.70,206.89 88.95,208.57 89.20,210.87 89.45,209.41 89.70,211.39 89.95,211.36 90.20,213.21 90.45,214.09 90.70,214.00 90.95,217.96 91.20,219.12 91.45,219.00 91.70,224.66 91.95,224.10 92.20,228.79 92.45,225.46 92.70,226.68 92.95,222.51 93.20,224.87 93.45,227.25 93.70,225.32 93.95,224.93 94.20,226.17 94.45,228.51 94.70,229.18 94.95,229.43 95.20,229.69 95.45,231.82 95.70,232.13 95.95,231.60 96.20,233.86 96.45,231.67 96.70,228.84 96.95,225.66 97.20,223.09 97.45,220.98 97.70,219.19 97.95,218.25 98.20,220.55 98.45,220.25 98.70,218.45 98.95,217.00 99.20,217.22 99.45,214.92 99.70,214.63 99.95,216.11 100.20,218.05 100.45,217.75 100.70,221.26 100.95,220.35 101.20,219.86 101.45,222.56 101.70,223.61 101.95,225.14 102.20,229.58 102.45,230.06 102.70,228.59 102.95,230.36 103.20,233.95 103.45,234.07 103.70,236.85 103.95,234.95 104.20,234.65 104.45,234.32 104.70,235.15 104.95,236.22 105.20,237.74 105.45,237.64 105.70,238.02 105.95,237.50 106.20,234.25 106.45,235.11 106.70,233.95 106.95,235.39 107.20,234.97 107.45,236.96 107.70,235.78 107.95,231.92 108.20,230.32 108.45,229.91 108.70,225.60 108.95,224.55 109.20,223.24 109.45,219.03 109.70,220.93 109.95,220.85 110.20,217.46 110.45,214.90 110.70,216.25 110.95,213.98 111.20,213.09 111.45,213.44 111.70,211.37 111.95,210.56 112.20,207.56 112.45,208.13 112.70,210.54 112.95,209.43 113.20,212.95 113.45,211.16 113.70,213.97 113.95,214.40 114.20,211.19 114.45,215.63 114.70,215.71 114.95,218.23 115.20,217.99 115.45,220.40 115.70,220.72 115.95,224.38 116.20,223.79 116.45,224.87 116.70,224.63 116.95,225.13 117.20,225.11 117.45,226.00 117.70,225.02 117.95,222.80 118.20,225.22 118.45,227.22 118.70,227.19 118.95,229.44 119.20,229.94 119.45,229.33 119.70,229.01 119.95,232.04 120.20,231.38 120.45,228.05 120.70,225.59 120.95,223.41 121.20,222.90 121.45,220.95 121.70,221.54 121.95,218.86 122.20,217.03 122.45,211.08 122.70,210.98 122.95,205.98 123.20,205.93 123.45,206.59 123.70,205.50 123.95,207.72 124.20,208.40 124.45,210.17 124.70,211.78 124.95,211.67 125.20,212.70 125.45,212.58 125.70,215.78 125.95,214.23 126.20,214.36 126.45,219.95 126.70,222.17 126.95,222.92 127.20,223.30 127.45,221.24 127.70,224.13 127.95,223.39 128.20,220.44 128.45,222.51 128.70,225.39 128.95,226.94 129.20,225.90 129.45,226.86 129.70,229.26 129.95,228.03 130.20,227.39 130.45,228.38 130.70,232.55 130.95,233.16 131.20,233.65 131.45,232.37 131.70,231.32 131.95,231.01 132.20,230.10 132.45,228.14 132.70,226.88 132.95,223.81 133.20,223.56 133.45,222.57 133.70,222.47 133.95,219.32 134.20,218.71 134.45,215.32 134.70,213.23 134.95,213.59 135.20,212.32 135.45,211.23 135.70,213.49 135.95,214.42 136.20,212.97 136.45,208.36 136.70,210.43 136.95,209.56 137.20,210.83 137.45,213.77 137.70,217.32 137.95,216.83 138.20,219.79 138.45,223.30 138.70,221.48 138.95,223.29 139.20,226.26 139.45,227.72 139.70,225.44 139.95,225.38 140.20,225.56 140.45,227.87 140.70,229.70 140.95,227.64 141.20,229.86 141.45,235.44 141.70,234.01 141.95,229.47 142.20,231.46 142.45,228.02 142.70,226.84 142.95,228.75 143.20,228.02 143.45,230.34 143.70,228.38 143.95,227.65 144.20,227.18 144.45,226.68 144.70,222.06 144.95,220.77 145.20,218.68 145.45,217.79 145.70,215.67 145.95,213.73 146.20,213.40 146.45,211.13 146.70,208.28 146.95,207.29 147.20,206.85 147.45,206.38 147.70,205.40 147.95,205.28 148.20,205.81 148.45,207.60 148.70,206.52 148.95,207.57 149.20,205.86 149.45,208.04 149.70,209.86 149.95,211.20 150.20,210.90 150.45,210.48 150.70,212.53 150.95,214.40 151.20,214.67 151.45,216.68 151.70,219.93 151.95,220.69 152.20,220.47 152.45,225.82 152.70,226.81 152.95,227.36 153.20,225.07 153.45,229.34 153.70,227.07 153.95,230.34 154.20,231.60 154.45,229.09 154.70,228.36 154.95,228.46 155.20,229.27 155.45,230.18 155.70,229.53 155.95,229.90 156.20,229.78 156.45,228.04 156.70,228.70 156.95,229.13 157.20,225.37 157.45,222.99 157.70,221.92 157.95,221.64 158.20,219.36 158.45,217.52 158.70,216.57 158.95,215.04 159.20,214.25 159.45,216.42 159.70,216.53 159.95,220.05 160.20,217.01 160.45,217.42 160.70,218.63 160.95,219.79 161.20,219.97 161.45,221.05 161.70,220.14 161.95,220.44 162.20,223.18 162.45,222.20 162.70,226.01 162.95,228.38 163.20,231.13 163.45,229.68 163.70,231.94 163.95,230.24 164.20,232.99 164.45,232.18 164.70,233.30 164.95,233.63 165.20,237.17 165.45,236.92 165.70,236.38 165.95,240.14 166.20,236.48 166.45,235.26 166.70,233.33 166.95,234.21 167.20,234.96 167.45,234.18 167.70,231.61 167.95,230.67 168.20,231.56 168.45,232.47 168.70,228.26 168.95,225.21 169.20,225.29 169.45,224.84 169.70,221.24 169.95,220.20 170.20,218.97 170.45,216.38 170.70,214.85 170.95,214.80 171.20,214.43 171.45,210.40 171.70,208.54 171.95,208.05 172.20,210.71 172.45,210.98 172.70,211.31 172.95,212.91 173.20,214.70 173.45,215.69 173.70,215.72 173.95,216.15 174.20,216.55 174.45,216.29 174.70,221.99 174.95,219.41 175.20,219.91 175.45,223.66 175.70,226.47 175.95,223.85 176.20,228.33 176.45,226.64 176.70,228.44 176.95,225.91 177.20,228.65 177.45,229.29 177.70,231.00 177.95,231.86 178.20,233.04 178.45,233.46 178.70,232.61 178.95,231.93 179.20,235.18 179.45,233.90 179.70,230.52 179.95,231.07 180.20,230.51 180.45,228.30 180.70,228.49 180.95,226.00 181.20,224.71 181.45,224.54 181.70,222.72 181.95,219.71 182.20,216.41 182.45,217.86 182.70,214.45 182.95,214.26 183.20,215.16 183.45,212.56 183.70,215.71 183.95,213.54 184.20,216.96 184.45,217.64 184.70,217.85 184.95,217.01 185.20,216.73 185.45,217.16 185.70,217.27 185.95,220.91 186.20,222.33 186.45,222.04 186.70,223.63 186.95,222.32 187.20,222.52 187.45,224.58 187.70,227.28 187.95,226.47 188.20,228.09 188.45,229.41 188.70,231.29 188.95,231.46 189.20,234.00 189.45,233.54 189.70,234.85 189.95,235.29 190.20,233.43 190.45,233.49 190.70,233.01 190.95,234.78 191.20,232.26 191.45,233.83 191.70,233.87 191.95,233.59 192.20,232.63 192.45,233.84 192.70,229.88 192.95,229.09 193.20,225.58 193.45,229.84 193.70,226.69 193.95,229.38 194.20,226.43 194.45,223.42 194.70,222.92 194.95,221.90 195.20,220.33 195.45,219.85 195.70,220.86 195.95,219.73 196.20,220.78 196.45,220.95 196.70,222.23 196.95,222.08 197.20,224.03 197.45,225.87 197.70,231.10 197.95,232.39 198.20,232.72 198.45,235.69 198.70,237.20 198.95,237.27 199.20,239.07 199.45,240.12 199.70,239.12 199.95,241.34 200.20,239.64 200.45,243.02 200.70,240.72 200.95,239.99 201.20,241.36 201.45,240.80 201.70,239.45 201.95,241.74 202.20,239.71 202.45,239.48 202.70,238.68 202.95,241.11 203.20,239.12 203.45,235.94 203.70,235.08 203.95,234.35 204.20,230.57 204.45,229.77 204.70,228.85 204.95,226.11 205.20,224.02 205.45,225.41 205.70,224.13 205.95,222.86 206.20,224.36 206.45,220.92 206.70,219.41 206.95,220.69 207.20,219.61 207.45,219.86 207.70,219.56 207.95,217.01 208.20,215.95 208.45,216.05 208.70,215.78 208.95,218.94 209.20,214.94 209.45,216.91 209.70,219.97 209.95,222.40 210.20,221.12 210.45,221.28 210.70,219.12 210.95,222.52 211.20,223.12 211.45,228.21 211.70,228.01 211.95,230.33 212.20,230.20 212.45,233.27 212.70,231.68 212.95,230.53 213.20,235.26 213.45,232.27 213.70,232.79 213.95,233.80 214.20,234.06 214.45,235.73 214.70,235.56 214.95,237.01 215.20,237.93 215.45,237.96 215.70,235.75 215.95,230.62 216.20,232.39 216.45,232.25 216.70,231.28 216.95,232.39 217.20,231.67 217.45,228.32 217.70,226.85 217.95,227.80 218.20,221.94 218.45,223.51 218.70,223.93 218.95,221.09 219.20,220.32 219.45,219.70 219.70,218.42 219.95,220.14 220.20,219.35 220.45,217.22 220.70,217.69 220.95,218.05 221.20,220.78 221.45,220.08 221.70,221.29"/>
<polyline fill="none" stroke="#008000" stroke-width="1.1" stroke-linejoin="round" points="29.40,265.04 29.65,263.61 29.90,258.93 30.15,256.06 30.40,257.25 30.65,256.21 30.90,257.09 31.15,255.21 31.40,254.74 31.65,256.98 31.90,255.04 32.15,254.77 32.40,254.82 32.65,258.39 32.90,261.06 33.15,260.87 33.40,259.52 33.65,261.38 33.90,260.88 34.15,260.83 34.40,261.89 34.65,261.38 34.90,261.81 35.15,260.29 35.40,257.44 35.65,258.76 35.90,258.39 36.15,259.98 36.40,259.86 36.65,258.02 36.90,256.72 37.15,259.03 37.40,254.65 37.65,256.07 37.90,255.51 38.15,256.92 38.40,258.03 38.65,259.72 38.90,262.81 39.15,258.23 39.40,263.70 39.65,264.76 39.90,265.63 40.15,264.34 40.40,265.41 40.65,263.65 40.90,263.86 41.15,261.60 41.40,264.03 41.65,263.55 41.90,262.79 42.15,261.67 42.40,260.49 42.65,256.02 42.90,260.04 43.15,255.86 43.40,258.48 43.65,257.49 43.90,258.11 44.15,256.77 44.40,259.52 44.65,260.16 44.90,261.76 45.15,261.81 45.40,264.18 45.65,265.49 45.90,262.80 46.15,263.21 46.40,264.08 46.65,264.80 46.90,263.21 47.15,262.54 47.40,262.23 47.65,263.22 47.90,261.64 48.15,262.76 48.40,264.99 48.65,262.36 48.90,261.18 49.15,263.92 49.40,262.51 49.65,261.93 49.90,259.29 50.15,259.44 50.40,260.38 50.65,258.26 50.90,262.65 51.15,262.42 51.40,260.64 51.65,264.72 51.90,264.69 52.15,265.62 52.40,265.78 52.65,266.37 52.90,263.77 53.15,264.25 53.40,265.33 53.65,265.63 53.90,265.70 54.15,265.88 54.40,267.47 54.65,267.73 54.90,267.88 55.15,269.98 55.40,267.57 55.65,269.32 55.90,267.85 56.15,268.38 56.40,267.17 56.65,265.15 56.90,266.76 57.15,266.43 57.40,262.94 57.65,259.72 57.90,264.50 58.15,267.12 58.40,267.75 58.65,270.97 58.90,272.94 59.15,272.41 59.40,274.15 59.65,270.49 59.90,269.18 60.15,267.58 60.40,265.33 60.65,263.54 60.90,262.54 61.15,265.27 61.40,264.37 61.65,263.10 61.90,265.74 62.15,268.62 62.40,268.39 62.65,270.98 62.90,270.31 63.15,270.59 63.40,272.05 63.65,270.96 63.90,273.13 64.15,272.70 64.40,270.20 64.65,268.01 64.90,267.25 65.15,270.30 65.40,270.44 65.65,268.36 65.90,268.56 66.15,268.53 66.40,267.17 66.65,269.06 66.90,269.03 67.15,267.51 67.40,268.56 67.65,269.32 67.90,270.24 68.15,267.88 68.40,268.19 68.65,267.24 68.90,269.42 69.15,269.61 69.40,268.47 69.65,269.40 69.90,270.50 70.15,270.43 70.40,273.83 70.65,272.55 70.90,270.47 71.15,270.83 71.40,271.65 71.65,271.81 71.90,273.10 72.15,272.80 72.40,271.14 72.65,269.17 72.90,270.73 73.15,269.44 73.40,266.72 73.65,268.55 73.90,267.12 74.15,268.00 74.40,264.55 74.65,266.47 74.90,267.60 75.15,265.03 75.40,261.16 75.65,262.06 75.90,263.20 76.15,262.61 76.40,261.97 76.65,262.44 76.90,264.79 77.15,265.75 77.40,267.03 77.65,266.50 77.90,265.84 78.15,266.12 78.40,265.04 78.65,264.02 78.90,264.00 79.15,261.98 79.40,260.90 79.65,263.45 79.90,264.82 80.15,261.30 80.40,263.27 80.65,262.84 80.90,262.33 81.15,261.47 81.40,261.91 81.65,261.76 81.90,260.59 82.15,263.60 82.40,262.98 82.65,263.19 82.90,260.26 83.15,259.54 83.40,261.86 83.65,259.63 83.90,262.17 84.15,263.35 84.40,260.31 84.65,262.00 84.90,261.98 85.15,261.94 85.40,262.75 85.65,261.36 85.90,261.32 86.15,260.24 86.40,257.74 86.65,259.62 86.90,259.99 87.15,259.02 87.40,260.95 87.65,262.24 87.90,258.55 88.15,262.98 88.40,261.32 88.65,263.76 88.90,262.17 89.15,264.73 89.40,265.93 89.65,268.62 89.90,270.58 90.15,270.01 90.40,268.34 90.65,267.46 90.90,265.41 91.15,263.78 91.40,263.28 91.65,261.53 91.90,261.90 92.15,263.56 92.40,262.30 92.65,264.96 92.90,266.53 93.15,265.89 93.40,265.49 93.65,267.31 93.90,267.42 94.15,267.43 94.40,265.30 94.65,269.27 94.90,270.40 95.15,269.43 95.40,268.83 95.65,271.91 95.90,271.91 96.15,272.75 96.40,275.07 96.65,272.87 96.90,270.76 97.15,270.36 97.40,269.81 97.65,268.01 97.90,268.50 98.15,266.28 98.40,267.12 98.65,269.23 98.90,266.03 99.15,267.04 99.40,270.72 99.65,268.08 99.90,272.38 100.15,273.45 100.40,273.06 100.65,273.09 100.90,274.55 101.15,274.24 101.40,274.21 101.65,272.02 101.90,272.01 102.15,271.29 102.40,271.48 102.65,271.64 102.90,272.07 103.15,271.20 103.40,272.71 103.65,272.28 103.90,272.99 104.15,270.43 104.40,269.03 104.65,268.69 104.90,270.58 105.15,270.08 105.40,270.25 105.65,270.58 105.90,272.22 106.15,273.61 106.40,273.26 106.65,273.09 106.90,273.92 107.15,274.56 107.40,272.35 107.65,273.33 107.90,273.41 108.15,275.72 108.40,275.90 108.65,273.80 108.90,271.59 109.15,271.10 109.40,270.80 109.65,270.51 109.90,268.44 110.15,268.10 110.40,268.87 110.65,271.66 110.90,272.18 111.15,270.25 111.40,271.07 111.65,271.56 111.90,271.86 112.15,274.51 112.40,276.37 112.65,275.88 112.90,274.79 113.15,274.42 113.40,274.57 113.65,276.26 113.90,276.55 114.15,278.33 114.40,277.61 114.65,279.44 114.90,277.97 115.15,277.85 115.40,275.97 115.65,277.36 115.90,275.31 116.15,273.83 116.40,275.36 116.65,273.74 116.90,272.53 117.15,273.53 117.40,274.22 117.65,271.25 117.90,270.80 118.15,273.65 118.40,273.56 118.65,271.81 118.90,276.28 119.15,273.50 119.40,272.31 119.65,274.79 119.90,276.59 120.15,276.15 120.40,277.46 120.65,278.33 120.90,276.66 121.15,276.61 121.40,277.28 121.65,276.69 121.90,274.94 122.15,279.13 122.40,277.75 122.65,272.81 122.90,274.98 123.15,274.14 123.40,271.35 123.65,272.90 123.90,273.86 124.15,272.23 124.40,273.43 124.65,274.17 124.90,270.44 125.15,271.49 125.40,269.09 125.65,271.06 125.90,275.12 126.15,271.43 126.40,273.80 126.65,271.55 126.90,273.33 127.15,273.60 127.40,272.44 127.65,273.20 127.90,271.47 128.15,265.58 128.40,267.74 128.65,267.87 128.90,268.96 129.15,265.64 129.40,268.06 129.65,265.97 129.90,266.20 130.15,264.19 130.40,268.60 130.65,267.68 130.90,269.88 131.15,267.88 131.40,266.24 131.65,266.00 131.90,263.82 132.15,264.96 132.40,261.96 132.65,263.28 132.90,263.20 133.15,263.23 133.40,261.72 133.65,263.11 133.90,267.83 134.15,264.46 134.40,263.93 134.65,265.59 134.90,264.62 135.15,263.21 135.40,261.30 135.65,262.62 135.90,259.29 136.15,261.05 136.40,257.88 136.65,256.36 136.90,257.00 137.15,255.12 137.40,253.90 137.65,257.03 137.90,256.35 138.15,253.82 138.40,255.23 138.65,257.38 138.90,260.30 139.15,262.63 139.40,261.57 139.65,260.35 139.90,262.41 140.15,261.14 140.40,260.18 140.65,259.00 140.90,259.14 141.15,257.99 141.40,259.90 141.65,260.72 141.90,262.13 142.15,263.31 142.40,263.08 142.65,261.58 142.90,262.17 143.15,262.98 143.40,262.59 143.65,262.43 143.90,263.29 144.15,259.96 144.40,262.74 144.65,264.31 144.90,262.48 145.15,262.92 145.40,265.14 145.65,262.35 145.90,261.16 146.15,262.79 146.40,263.65 146.65,263.24 146.90,262.46 147.15,263.25 147.40,266.51 147.65,265.69 147.90,265.54 148.15,264.63 148.40,263.38 148.65,262.75 148.90,261.83 149.15,261.55 149.40,259.13 149.65,261.68 149.90,261.68 150.15,262.61 150.40,264.33 150.65,262.56 150.90,263.81 151.15,264.54 151.40,263.59 151.65,266.18 151.90,266.24 152.15,269.01 152.40,266.68 152.65,263.87 152.90,264.58 153.15,265.68 153.40,265.35 153.65,267.20 153.90,265.27 154.15,265.59 154.40,265.97 154.65,263.38 154.90,262.53 155.15,261.19 155.40,260.78 155.65,262.06 155.90,260.99 156.15,260.16 156.40,260.03 156.65,258.99 156.90,258.59 157.15,258.21 157.40,261.12 157.65,257.42 157.90,258.17 158.15,260.99 158.40,262.37 158.65,260.94 158.90,262.37 159.15,262.43 159.40,263.32 159.65,262.30 159.90,261.61 160.15,259.90 160.40,263.52 160.65,262.18 160.90,263.89 161.15,263.65 161.40,264.50 161.65,262.29 161.90,263.58 162.15,263.71 162.40,263.51 162.65,265.83 162.90,263.83 163.15,264.04 163.40,265.28 163.65,265.67 163.90,264.39 164.15,267.06 164.40,264.51 164.65,268.51 164.90,269.21 165.15,269.45 165.40,271.78 165.65,269.25 165.90,270.72 166.15,269.13 166.40,267.23 166.65,267.03 166.90,268.19 167.15,265.95 167.40,267.26 167.65,268.48 167.90,265.95 168.15,266.54 168.40,266.15 168.65,265.01 168.90,264.79 169.15,264.80 169.40,265.09 169.65,268.80 169.90,268.26 170.15,270.69 170.40,272.57 170.65,273.19 170.90,269.38 171.15,269.14 171.40,271.69 171.65,275.25 171.90,273.29 172.15,272.95 172.40,275.03 172.65,270.56 172.90,269.99 173.15,266.27 173.40,265.79 173.65,263.04 173.90,264.50 174.15,266.44 174.40,268.50 174.65,266.69 174.90,270.23 175.15,273.46 175.40,271.62 175.65,272.05 175.90,272.58 176.15,272.63 176.40,272.73 176.65,273.17 176.90,270.00 177.15,271.18 177.40,269.80 177.65,269.40 177.90,271.54 178.15,269.47 178.40,271.05 178.65,269.87 178.90,269.45 179.15,270.45 179.40,273.29 179.65,272.71 179.90,273.31 180.15,272.92 180.40,274.84 180.65,273.60 180.90,273.61 181.15,274.51 181.40,273.38 181.65,275.51 181.90,274.92 182.15,276.15 182.40,277.70 182.65,279.69 182.90,279.86 183.15,280.57 183.40,277.82 183.65,276.06 183.90,275.27 184.15,273.30 184.40,273.53 184.65,276.02 184.90,274.38 185.15,274.72 185.40,276.18 185.65,274.91 185.90,272.44 186.15,275.01 186.40,273.32 186.65,272.77 186.90,274.52 187.15,274.13 187.40,272.92 187.65,272.75 187.90,271.89 188.15,269.48 188.40,270.04 188.65,268.21 188.90,269.00 189.15,269.80 189.40,270.60 189.65,270.15 189.90,271.79 190.15,271.09 190.40,273.26 190.65,272.17 190.90,268.65 191.15,269.98 191.40,269.53 191.65,267.09 191.90,268.45 192.15,266.51 192.40,264.43 192.65,267.73 192.90,263.52 193.15,264.40 193.40,262.90 193.65,263.51 193.90,264.15 194.15,262.94 194.40,265.29 194.65,264.83 194.90,263.55 195.15,266.12 195.40,270.32 195.65,268.94 195.90,269.80 196.15,267.15 196.40,265.02 196.65,267.21 196.90,262.97 197.15,263.74 197.40,262.28 197.65,262.95 197.90,263.08 198.15,264.59 198.40,264.65 198.65,263.25 198.90,261.42 199.15,261.58 199.40,260.84 199.65,261.81 199.90,261.32 200.15,260.79 200.40,260.53 200.65,263.55 200.90,263.03 201.15,265.45 201.40,264.27 201.65,263.32 201.90,263.09 202.15,263.75"/>
<polyline fill="none" stroke="#000" stroke-width="1.1" stroke-linejoin="round" points="250.90,46.45 251.15,44.65 251.40,45.67 251.65,42.89 251.90,40.89 252.15,41.42 252.40,41.24 252.65,39.50 252.90,41.73 253.15,40.44 253.40,39.94 253.65,39.03 253.90,41.04 254.15,42.32 254.40,42.38 254.65,42.21 254.90,40.18 255.15,40.37 255.40,40.46 255.65,39.96 255.90,38.48 256.15,40.13 256.40,38.96 256.65,37.43 256.90,37.77 257.15,37.46 257.40,36.87 257.65,34.76 257.90,36.90 258.15,36.90 258.40,33.94 258.65,34.63 258.90,33.99 259.15,35.05 259.40,34.20 259.65,36.25 259.90,34.18 260.15,32.17 260.40,32.47 260.65,33.23 260.90,31.18 261.15,30.72 261.40,32.27 261.65,34.49 261.90,33.94 262.15,33.82 262.40,35.28 262.65,35.22 262.90,35.34 263.15,33.47 263.40,33.25 263.65,33.70 263.90,35.08 264.15,36.67 264.40,36.45 264.65,36.76 264.90,35.46 265.15,36.42 265.40,33.28 265.65,34.10 265.90,33.46 266.15,33.46 266.40,30.88 266.65,33.35 266.90,34.43 267.15,32.24 267.40,34.41 267.65,31.27 267.90,30.15 268.15,30.98 268.40,31.42 268.65,29.37 268.90,27.14 269.15,28.90 269.40,26.25 269.65,29.18 269.90,30.39 270.15,29.00 270.40,28.88 270.65,29.25 270.90,29.67 271.15,28.41 271.40,27.64 271.65,29.70 271.90,28.98 272.15,29.00 272.40,31.35 272.65,30.07 272.90,30.57 273.15,28.74 273.40,30.47 273.65,31.23 273.90,29.84 274.15,27.53 274.40,28.98 274.65,28.41 274.90,29.81 275.15,29.18 275.40,26.26 275.65,28.71 275.90,30.03 276.15,31.79 276.40,32.84 276.65,34.54 276.90,35.93 277.15,36.27 277.40,38.32 277.65,40.10 277.90,37.58 278.15,38.67 278.40,36.90 278.65,37.92 278.90,36.36 279.15,34.79 279.40,34.07 279.65,34.08 279.90,35.97 280.15,38.00 280.40,33.70 280.65,35.39 280.90,34.55 281.15,35.58 281.40,35.54 281.65,36.94 281.90,35.20 282.15,33.79 282.40,34.25 282.65,33.32 282.90,36.11 283.15,33.99 283.40,35.98 283.65,35.63 283.90,33.95 284.15,33.59 284.40,32.49 284.65,34.26 284.90,31.18 285.15,35.02 285.40,33.58 285.65,33.60 285.90,35.27 286.15,37.68 286.40,36.84 286.65,37.26 286.90,37.25 287.15,39.20 287.40,36.34 287.65,37.53 287.90,40.51 288.15,38.61 288.40,37.88 288.65,41.30 288.90,40.67 289.15,42.00 289.40,42.73 289.65,41.57 289.90,41.98 290.15,42.20 290.40,43.87 290.65,43.24 290.90,44.91 291.15,46.76 291.40,44.15 291.65,46.64 291.90,43.79 292.15,45.65 292.40,45.60 292.65,44.02 292.90,42.25 293.15,46.81 293.40,46.01 293.65,45.72 293.90,44.76 294.15,46.05 294.40,43.81 294.65,41.41 294.90,45.08 295.15,43.47 295.40,43.89 295.65,44.88 295.90,45.93 296.15,44.90 296.40,44.86 296.65,43.30 296.90,45.31 297.15,45.48 297.40,45.62 297.65,46.92 297.90,43.93 298.15,44.45 298.40,44.43 298.65,44.50 298.90,46.60 299.15,45.29 299.40,48.15 299.65,46.68 299.90,43.36 300.15,48.22 300.40,45.05 300.65,46.10 300.90,47.22 301.15,46.87 301.40,46.21 301.65,47.39 301.90,47.11 302.15,47.77 302.40,48.14 302.65,49.29 302.90,49.76 303.15,47.56 303.40,49.06 303.65,46.45 303.90,47.63 304.15,49.29 304.40,50.49 304.65,52.70 304.90,50.02 305.15,50.86 305.40,51.68 305.65,50.00 305.90,51.80 306.15,49.71 306.40,47.94 306.65,47.17 306.90,45.16 307.15,47.42 307.40,47.46 307.65,50.68 307.90,50.04 308.15,52.19 308.40,51.51 308.65,51.57 308.90,51.86 309.15,52.09 309.40,51.79 309.65,50.14 309.90,52.65 310.15,51.06 310.40,50.58 310.65,50.53 310.90,47.35 311.15,48.77 311.40,48.93 311.65,49.21 311.90,47.32 312.15,49.31 312.40,49.43 312.65,50.27 312.90,51.53 313.15,52.01 313.40,53.77 313.65,52.71 313.90,54.52 314.15,53.75 314.40,54.89 314.65,55.11 314.90,57.72 315.15,55.54 315.40,55.95 315.65,55.80 315.90,55.93 316.15,55.41 316.40,54.91 316.65,53.99 316.90,54.77 317.15,55.59 317.40,55.41 317.65,56.71 317.90,55.08 318.15,57.88 318.40,56.47 318.65,56.53 318.90,56.78 319.15,54.08 319.40,55.06 319.65,58.17 319.90,56.26 320.15,54.82 320.40,55.79 320.65,59.56 320.90,54.82 321.15,53.39 321.40,54.97 321.65,56.91 321.90,58.59 322.15,59.47 322.40,58.86 322.65,57.97 322.90,59.40 323.15,57.29 323.40,57.39 323.65,57.15 323.90,55.95 324.15,55.57 324.40,53.22 324.65,55.31 324.90,55.41 325.15,53.43 325.40,55.77 325.65,55.58 325.90,51.75 326.15,54.73 326.40,54.81 326.65,55.43 326.90,58.00 327.15,55.10 327.40,58.36 327.65,56.24 327.90,59.18 328.15,59.39 328.40,57.16 328.65,58.61 328.90,57.32 329.15,58.92 329.40,60.96 329.65,59.02 329.90,59.06 330.15,60.91 330.40,59.50 330.65,58.03 330.90,58.62 331.15,59.97 331.40,58.10 331.65,58.19 331.90,58.54 332.15,61.11 332.40,61.69 332.65,61.96 332.90,60.79 333.15,59.54 333.40,59.22 333.65,58.14 333.90,58.62 334.15,58.84 334.40,59.76 334.65,54.56 334.90,58.23 335.15,58.60 335.40,58.05 335.65,58.47 335.90,55.70 336.15,59.08 336.40,59.00 336.65,59.05 336.90,59.19 337.15,58.93 337.40,62.04 337.65,61.47 337.90,58.59 338.15,61.94 338.40,61.76 338.65,60.00 338.90,62.98 339.15,63.46 339.40,64.74 339.65,62.15 339.90,59.50 340.15,60.00 340.40,62.77 340.65,62.08 340.90,61.57 341.15,61.26 341.40,63.59 341.65,59.79 341.90,60.71 342.15,63.17 342.40,62.93 342.65,63.56 342.90,63.53 343.15,62.50 343.40,63.06 343.65,62.67 343.90,61.16 344.15,61.72 344.40,64.26 344.65,60.12 344.90,60.60 345.15,60.90 345.40,58.43 345.65,58.87 345.90,55.58 346.15,58.04 346.40,56.92 346.65,62.81 346.90,59.12 347.15,59.40 347.40,60.41 347.65,60.52 347.90,60.12 348.15,61.54 348.40,61.42 348.65,59.08 348.90,59.07 349.15,55.17 349.40,56.49 349.65,56.55 349.90,53.37 350.15,52.38 350.40,53.98 350.65,54.90 350.90,54.53 351.15,52.92 351.40,52.83 351.65,56.97 351.90,53.75 352.15,55.15 352.40,52.21 352.65,53.69 352.90,54.35 353.15,51.49 353.40,51.81 353.65,52.24 353.90,51.04 354.15,51.73 354.40,50.63 354.65,49.62 354.90,51.03 355.15,49.26 355.40,51.39 355.65,50.59 355.90,44.86 356.15,43.41 356.40,44.49 356.65,44.65 356.90,43.71 357.15,44.93 357.40,48.05 357.65,44.26 357.90,45.90 358.15,44.26 358.40,44.76 358.65,44.75 358.90,44.74 359.15,46.41 359.40,41.44 359.65,43.48 359.90,42.30 360.15,42.84 360.40,42.16 360.65,42.08 360.90,39.27 361.15,43.50 361.40,41.63 361.65,39.95 361.90,41.24 362.15,41.34 362.40,42.35 362.65,46.34 362.90,44.84 363.15,43.48 363.40,43.45 363.65,43.49 363.90,41.30 364.15,40.15 364.40,40.88 364.65,38.79 364.90,40.81 365.15,39.48 365.40,37.67 365.65,38.14 365.90,38.19 366.15,35.67 366.40,33.34 366.65,32.93 366.90,34.53 367.15,31.60 367.40,35.89 367.65,36.23 367.90,35.68 368.15,34.29 368.40,35.35 368.65,32.81 368.90,35.47 369.15,36.99 369.40,35.78 369.65,36.36 369.90,32.44 370.15,33.05 370.40,34.91 370.65,38.21 370.90,37.07 371.15,35.81 371.40,35.71 371.65,38.38 371.90,37.84 372.15,36.75 372.40,36.30 372.65,36.76 372.90,36.95 373.15,39.41 373.40,37.15 373.65,39.70 373.90,38.42 374.15,37.61 374.40,40.69 374.65,39.23 374.90,39.17 375.15,37.42 375.40,37.21 375.65,37.77 375.90,36.32 376.15,34.58 376.40,37.65 376.65,38.59 376.90,35.97 377.15,37.34 377.40,37.90 377.65,39.33 377.90,40.13 378.15,37.52 378.40,39.23 378.65,39.44 378.90,38.80 379.15,39.85 379.40,39.54 379.65,39.31 379.90,39.85 380.15,38.36 380.40,38.96 380.65,38.75 380.90,40.46 381.15,41.02 381.40,40.58 381.65,43.61 381.90,42.21 382.15,43.29 382.40,43.48 382.65,43.21 382.90,42.69 383.15,44.36 383.40,44.58 383.65,42.44 383.90,42.00 384.15,42.90 384.40,41.65 384.65,41.11 384.90,38.02 385.15,41.77 385.40,41.94 385.65,43.01 385.90,44.67 386.15,45.07 386.40,46.28 386.65,48.39 386.90,47.54 387.15,47.37 387.40,45.58 387.65,48.72 387.90,47.92 388.15,49.65 388.40,49.78 388.65,48.87 388.90,47.82 389.15,47.64 389.40,48.22 389.65,51.36 389.90,49.35 390.15,49.74 390.40,48.19 390.65,45.88 390.90,48.52 391.15,46.95 391.40,45.79 391.65,45.83 391.90,46.35 392.15,49.99 392.40,47.57 392.65,51.39 392.90,48.85 393.15,46.18 393.40,47.13 393.65,47.82 393.90,49.82 394.15,47.93 394.40,50.41 394.65,48.30 394.90,49.53 395.15,49.58 395.40,49.57 395.65,49.54 395.90,47.17 396.15,50.07 396.40,52.78 396.65,51.68 396.90,50.78 397.15,52.34 397.40,50.52 397.65,46.30 397.90,49.20 398.15,51.11 398.40,50.28 398.65,47.19 398.90,48.60 399.15,48.01 399.40,47.34 399.65,47.92 399.90,45.82 400.15,47.10 400.40,45.70 400.65,46.65 400.90,45.94 401.15,44.58 401.40,44.82 401.65,46.20 401.90,45.45 402.15,44.25 402.40,44.93 402.65,46.13 402.90,46.38 403.15,46.18 403.40,46.44 403.65,45.00 403.90,45.57 404.15,43.73 404.40,42.29 404.65,42.69 404.90,43.60 405.15,43.21 405.40,47.44 405.65,44.94 405.90,45.71 406.15,44.37 406.40,44.67 406.65,47.57 406.90,46.41 407.15,46.34 407.40,46.49 407.65,46.34 407.90,43.59 408.15,44.25 408.40,47.38 408.65,47.46 408.90,47.82 409.15,48.94 409.40,46.01 409.65,46.42 409.90,46.34 410.15,46.85 410.40,45.67 410.65,49.63 410.90,47.27 411.15,48.27 411.40,47.47 411.65,50.21 411.90,48.91 412.15,51.11 412.40,49.65 412.65,49.29 412.90,52.44 413.15,49.98 413.40,50.06 413.65,49.50 413.90,51.75 414.15,52.34 414.40,52.47 414.65,51.17 414.90,51.62 415.15,51.04 415.40,52.75 415.65,54.82 415.90,55.33 416.15,53.04 416.40,52.72 416.65,52.98 416.90,53.85 417.15,53.35 417.40,55.06 417.65,55.18 417.90,54.45 418.15,54.96 418.40,54.77 418.65,56.06 418.90,53.08 419.15,56.60 419.40,54.78 419.65,57.84 419.90,56.10 420.15,58.10 420.40,59.70 420.65,62.02 420.90,57.08 421.15,57.67 421.40,59.33 421.65,55.51 421.90,60.22 422.15,57.31 422.40,60.48 422.65,60.00 422.90,59.53 423.15,60.87 423.40,60.80 423.65,61.68 423.90,62.45 424.15,62.91 424.40,61.12 424.65,60.07 424.90,62.89 425.15,66.89 425.40,65.49 425.65,62.04 425.90,65.87 426.15,62.82 426.40,63.41 426.65,65.61 426.90,66.04 427.15,64.18 427.40,66.45 427.65,63.51 427.90,63.21 428.15,66.04 428.40,63.31 428.65,65.10 428.90,62.95 429.15,64.83 429.40,63.75 429.65,60.71 429.90,59.71 430.15,61.72 430.40,59.52 430.65,60.03 430.90,61.12 431.15,61.00 431.40,59.84 431.65,59.69 431.90,60.49 432.15,61.10 432.40,60.61 432.65,62.60 432.90,61.23 433.15,58.91 433.40,62.91 433.65,63.06 433.90,61.16 434.15,59.54 434.40,60.63 434.65,60.85 434.90,61.71 435.15,61.60 435.40,60.44 435.65,62.90 435.90,61.63 436.15,61.27 436.40,60.67 436.65,56.24 436.90,58.53 437.15,58.16 437.40,57.49 437.65,56.51 437.90,56.88 438.15,57.91 438.40,55.17 438.65,58.57 438.90,56.66 439.15,55.55 439.40,56.84 439.65,58.15 439.90,57.60 440.15,58.30 440.40,54.24 440.65,53.54 440.90,54.25 441.15,53.09 441.40,53.73 441.65,54.19 441.90,55.12 442.15,56.29 442.40,56.43 442.65,57.21 442.90,54.12 443.15,55.19 443.40,52.64 443.65,50.13 443.90,50.15"/>
<polyline fill="none" stroke="#ff0000" stroke-width="1.1" stroke-linejoin="round" points="250.90,126.29 251.15,123.66 251.40,122.24 251.65,121.51 251.90,119.29 252.15,122.84 252.40,121.04 252.65,118.85 252.90,117.83 253.15,119.48 253.40,120.16 253.65,120.82 253.90,118.44 254.15,122.83 254.40,122.95 254.65,122.93 254.90,123.60 255.15,124.23 255.40,125.46 255.65,123.93 255.90,124.46 256.15,124.88 256.40,127.12 256.65,125.37 256.90,124.82 257.15,125.12 257.40,122.06 257.65,123.96 257.90,121.02 258.15,120.80 258.40,121.21 258.65,121.71 258.90,120.07 259.15,120.25 259.40,120.60 259.65,116.27 259.90,118.63 260.15,119.10 260.40,118.63 260.65,118.37 260.90,114.54 261.15,115.60 261.40,117.52 261.65,116.91 261.90,114.32 262.15,114.76 262.40,113.81 262.65,111.48 262.90,112.46 263.15,109.88 263.40,110.55 263.65,107.99 263.90,106.54 264.15,105.54 264.40,103.17 264.65,103.54 264.90,107.80 265.15,105.29 265.40,108.88 265.65,107.43 265.90,108.35 266.15,106.01 266.40,104.64 266.65,103.71 266.90,103.10 267.15,102.70 267.40,104.54 267.65,102.24 267.90,103.61 268.15,103.23 268.40,102.76 268.65,104.41 268.90,104.90 269.15,105.27 269.40,105.60 269.65,108.74 269.90,106.06 270.15,105.20 270.40,105.42 270.65,105.00 270.90,104.10 271.15,104.27 271.40,104.18 271.65,106.76 271.90,107.37 272.15,107.29 272.40,110.21 272.65,110.32 272.90,109.99 273.15,111.72 273.40,110.47 273.65,109.27 273.90,108.30 274.15,105.92 274.40,107.81 274.65,104.24 274.90,105.93 275.15,106.12 275.40,109.49 275.65,111.54 275.90,112.87 276.15,114.11 276.40,111.57 276.65,114.57 276.90,113.57 277.15,115.02 277.40,116.43 277.65,117.42 277.90,117.11 278.15,117.53 278.40,117.28 278.65,116.52 278.90,118.91 279.15,119.35 279.40,119.88 279.65,119.53 279.90,118.91 280.15,119.22 280.40,118.90 280.65,120.12 280.90,119.32 281.15,117.94 281.40,119.65 281.65,117.99 281.90,117.96 282.15,119.32 282.40,117.56 282.65,119.31 282.90,119.87 283.15,119.20 283.40,118.87 283.65,117.27 283.90,118.10 284.15,118.35 284.40,122.74 284.65,119.17 284.90,121.51 285.15,121.61 285.40,120.73 285.65,117.95 285.90,118.44 286.15,119.65 286.40,122.87 286.65,121.29 286.90,122.50 287.15,120.70 287.40,123.50 287.65,125.68 287.90,125.32 288.15,125.17 288.40,126.57 288.65,124.38 288.90,125.21 289.15,125.08 289.40,125.64 289.65,124.90 289.90,127.21 290.15,126.71 290.40,126.58 290.65,127.21 290.90,127.03 291.15,125.59 291.40,121.77 291.65,122.70 291.90,119.44 292.15,119.74 292.40,119.41 292.65,118.55 292.90,120.73 293.15,121.36 293.40,120.52 293.65,121.08 293.90,123.95 294.15,122.89 294.40,123.31 294.65,124.79 294.90,124.18 295.15,124.67 295.40,123.54 295.65,123.90 295.90,123.13 296.15,124.12 296.40,126.54 296.65,123.16 296.90,126.17 297.15,126.25 297.40,124.73 297.65,123.63 297.90,125.31 298.15,124.82 298.40,125.32 298.65,125.20 298.90,124.92 299.15,124.10 299.40,124.38 299.65,123.61 299.90,122.83 300.15,123.49 300.40,123.16 300.65,123.79 300.90,123.73 301.15,124.55 301.40,125.81 301.65,127.02 301.90,127.29 302.15,129.08 302.40,129.59 302.65,127.21 302.90,128.11 303.15,127.09 303.40,129.06 303.65,126.47 303.90,124.43 304.15,125.06 304.40,127.35 304.65,125.00 304.90,123.26 305.15,124.32 305.40,123.97 305.65,124.29 305.90,122.59 306.15,125.43 306.40,124.02 306.65,123.76 306.90,122.64 307.15,122.72 307.40,121.29 307.65,123.09 307.90,121.48 308.15,121.44 308.40,118.26 308.65,120.60 308.90,117.69 309.15,117.33 309.40,117.00 309.65,115.80 309.90,116.42 310.15,117.10 310.40,118.01 310.65,116.66 310.90,116.39 311.15,116.07 311.40,113.44 311.65,115.10 311.90,116.32 312.15,113.34 312.40,113.04 312.65,115.15 312.90,114.79 313.15,112.07 313.40,113.99 313.65,110.94 313.90,109.71 314.15,111.96 314.40,111.96 314.65,112.52 314.90,113.41 315.15,111.24 315.40,110.27 315.65,112.36 315.90,112.37 316.15,115.89 316.40,114.97 316.65,112.43 316.90,113.97 317.15,113.95 317.40,114.12 317.65,114.15 317.90,116.73 318.15,115.83 318.40,113.49 318.65,116.62 318.90,116.54 319.15,113.92 319.40,115.46 319.65,118.29 319.90,118.90 320.15,117.27 320.40,117.77 320.65,118.17 320.90,117.54 321.15,116.41 321.40,115.50 321.65,114.38 321.90,116.21 322.15,113.68 322.40,111.77 322.65,113.31 322.90,111.67 323.15,112.85 323.40,117.38 323.65,118.21 323.90,116.46 324.15,116.71 324.40,115.41 324.65,118.97 324.90,119.53 325.15,116.18 325.40,115.77 325.65,115.87 325.90,119.86 326.15,120.10 326.40,119.85 326.65,119.06 326.90,120.46 327.15,119.07 327.40,122.61 327.65,119.71 327.90,120.91 328.15,121.40 328.40,119.02 328.65,118.86 328.90,121.04 329.15,124.22 329.40,124.59 329.65,125.66 329.90,123.63 330.15,125.14 330.40,125.81 330.65,126.97 330.90,129.39 331.15,128.14 331.40,125.92 331.65,127.16 331.90,127.71 332.15,125.95 332.40,127.50 332.65,127.76 332.90,129.25 333.15,126.71 333.40,126.37 333.65,125.58 333.90,127.48 334.15,126.40 334.40,125.48 334.65,126.68 334.90,126.89 335.15,125.95 335.40,128.20 335.65,129.04 335.90,128.55 336.15,131.00 336.40,129.81 336.65,130.86 336.90,131.26 337.15,132.98 337.40,129.06 337.65,127.86 337.90,131.63 338.15,130.42 338.40,129.32 338.65,127.42 338.90,128.39 339.15,128.55 339.40,127.29 339.65,128.31 339.90,128.73 340.15,129.03 340.40,128.16 340.65,127.32 340.90,126.12 341.15,128.28 341.40,124.82 341.65,124.21 341.90,125.72 342.15,126.68 342.40,124.94 342.65,123.64 342.90,125.31 343.15,125.41 343.40,124.44 343.65,124.74 343.90,123.40 344.15,123.15 344.40,125.54 344.65,126.16 344.90,125.02 345.15,127.01 345.40,127.36 345.65,125.53 345.90,124.84 346.15,122.15 346.40,123.83 346.65,122.58 346.90,121.79 347.15,122.82 347.40,120.20 347.65,119.16 347.90,118.72 348.15,122.93 348.40,122.42 348.65,121.53 348.90,126.86 349.15,127.40 349.40,126.15 349.65,124.97 349.90,124.15 350.15,127.26 350.40,125.71 350.65,125.26 350.90,126.25 351.15,126.64 351.40,124.76 351.65,125.79 351.90,124.29 352.15,124.10 352.40,122.89 352.65,122.47 352.90,123.56 353.15,120.33 353.40,122.10 353.65,122.95 353.90,120.78 354.15,119.63 354.40,119.12 354.65,118.27 354.90,119.24 355.15,120.16 355.40,117.56 355.65,117.29 355.90,117.54 356.15,117.14 356.40,118.98 356.65,115.78 356.90,114.40 357.15,110.24 357.40,110.33 357.65,110.11 357.90,111.62 358.15,109.56 358.40,113.38 358.65,113.00 358.90,112.04 359.15,115.95 359.40,113.74 359.65,112.34 359.90,110.09 360.15,111.46 360.40,111.86 360.65,108.40 360.90,106.71 361.15,106.03 361.40,107.33 361.65,107.06 361.90,107.17 362.15,107.22 362.40,105.10 362.65,108.06 362.90,108.62 363.15,104.18 363.40,106.52 363.65,106.40 363.90,104.36 364.15,104.30 364.40,103.81 364.65,106.21 364.90,103.42 365.15,105.15 365.40,108.32 365.65,107.26 365.90,105.08 366.15,106.90 366.40,108.92 366.65,109.82 366.90,108.95 367.15,108.09 367.40,108.95 367.65,107.62 367.90,110.95 368.15,108.36 368.40,105.88 368.65,105.89 368.90,108.24 369.15,107.86 369.40,107.39 369.65,107.72 369.90,106.40 370.15,107.87 370.40,108.89 370.65,110.60 370.90,110.57 371.15,112.60 371.40,111.19 371.65,113.47 371.90,112.69 372.15,113.05 372.40,114.81 372.65,112.90 372.90,117.75 373.15,116.87 373.40,118.78 373.65,119.51 373.90,118.17 374.15,121.29 374.40,118.87 374.65,120.32 374.90,120.97 375.15,120.04 375.40,121.06 375.65,119.70 375.90,123.29 376.15,120.02 376.40,121.85 376.65,120.45 376.90,122.12 377.15,123.15 377.40,122.48 377.65,121.64 377.90,124.05 378.15,122.30 378.40,123.96 378.65,122.46 378.90,123.60 379.15,124.93 379.40,125.12 379.65,127.30 379.90,126.99 380.15,126.96 380.40,129.96 380.65,127.88 380.90,128.19 381.15,130.75 381.40,129.22 381.65,130.59 381.90,133.09 382.15,132.36 382.40,131.14 382.65,131.32 382.90,130.56 383.15,131.40 383.40,130.40 383.65,130.72 383.90,130.11 384.15,132.79 384.40,131.45 384.65,133.21 384.90,132.76 385.15,137.31 385.40,137.55 385.65,137.33 385.90,135.49 386.15,134.99 386.40,132.59 386.65,135.18 386.90,133.05 387.15,135.36 387.40,133.04 387.65,135.93 387.90,136.18 388.15,131.58 388.40,133.84 388.65,133.06 388.90,133.60 389.15,132.93 389.40,135.22 389.65,136.64 389.90,136.76 390.15,133.05 390.40,132.91 390.65,132.14 390.90,132.68 391.15,132.81 391.40,134.78 391.65,133.36 391.90,132.30 392.15,130.79 392.40,130.99 392.65,130.23 392.90,130.53 393.15,128.01 393.40,130.65 393.65,128.72 393.90,131.79 394.15,134.81 394.40,133.39 394.65,134.97 394.90,139.27 395.15,135.59 395.40,138.41 395.65,136.42 395.90,133.90 396.15,134.60 396.40,135.53 396.65,136.96 396.90,136.52 397.15,137.12 397.40,135.26 397.65,135.31 397.90,135.51 398.15,133.46 398.40,133.84 398.65,132.84 398.90,131.75 399.15,130.51 399.40,133.49 399.65,130.53 399.90,130.42 400.15,131.35 400.40,129.86 400.65,129.76 400.90,129.17 401.15,131.91 401.40,130.22 401.65,129.94 401.90,130.59 402.15,129.29 402.40,129.43 402.65,128.55 402.90,125.23 403.15,127.98 403.40,128.86 403.65,128.26 403.90,126.70 404.15,126.64 404.40,125.14 404.65,126.79 404.90,126.30 405.15,123.63 405.40,125.26 405.65,123.65 405.90,124.21 406.15,124.16 406.40,122.99 406.65,121.99 406.90,119.94 407.15,120.01 407.40,120.42 407.65,118.99 407.90,116.58 408.15,116.81 408.40,112.03 408.65,114.52 408.90,114.26 409.15,114.88 409.40,115.37 409.65,112.85 409.90,113.91 410.15,113.26 410.40,111.18 410.65,113.27 410.90,110.11 411.15,110.83 411.40,108.42 411.65,106.94 411.90,110.90 412.15,108.78 412.40,107.17 412.65,110.75 412.90,110.57 413.15,108.04 413.40,108.93 413.65,105.97 413.90,107.01 414.15,106.28 414.40,106.42 414.65,106.04 414.90,107.83 415.15,108.75 415.40,112.11 415.65,112.20 415.90,113.80 416.15,112.88 416.40,111.69 416.65,113.24 416.90,114.94 417.15,113.55 417.40,110.60 417.65,111.07 417.90,110.19 418.15,112.31 418.40,110.27 418.65,111.52 418.90,110.70 419.15,112.40 419.40,111.48 419.65,114.28 419.90,112.02 420.15,113.22 420.40,114.63 420.65,113.40 420.90,114.41 421.15,114.50 421.40,115.69 421.65,114.41 421.90,116.71 422.15,116.55 422.40,114.64 422.65,116.68 422.90,118.30 423.15,120.05 423.40,121.16 423.65,120.29 423.90,120.39 424.15,120.78 424.40,119.98 424.65,119.31 424.90,123.42 425.15,121.13 425.40,123.67 425.65,125.10 425.90,123.03 426.15,123.20 426.40,126.03 426.65,126.89 426.90,128.59 427.15,126.71 427.40,127.07 427.65,123.63 427.90,125.61 428.15,128.80 428.40,130.01 428.65,129.48 428.90,130.99 429.15,129.24 429.40,129.76 429.65,126.93 429.90,124.52 430.15,126.76 430.40,123.69 430.65,124.23 430.90,121.22 431.15,121.89 431.40,124.69 431.65,125.16 431.90,125.08 432.15,128.33 432.40,126.52 432.65,125.08 432.90,128.06 433.15,127.27 433.40,127.15 433.65,128.65 433.90,129.28 434.15,131.57 434.40,130.53 434.65,129.02 434.90,127.40 435.15,126.38 435.40,128.23 435.65,126.81 435.90,127.62 436.15,130.30 436.40,129.02 436.65,126.39 436.90,128.41 437.15,128.48 437.40,128.94 437.65,129.96 437.90,128.81 438.15,130.10 438.40,130.59 438.65,130.25 438.90,129.67 439.15,131.07 439.40,131.67 439.65,129.88 439.90,129.60 440.15,129.29 440.40,130.04 440.65,128.88 440.90,127.83 441.15,126.11 441.40,131.45 441.65,127.66 441.90,128.01 442.15,128.90 442.40,129.34 442.65,130.75 442.90,129.56 443.15,126.31 443.40,127.18"/>
<polyline fill="none" stroke="#0000ff" stroke-width="1.1" stroke-linejoin="round" points="250.90,168.99 251.15,170.57 251.40,171.10 251.65,171.46 251.90,171.86 252.15,172.37 252.40,170.05 252.65,172.31 252.90,171.38 253.15,173.18 253.40,171.86 253.65,173.56 253.90,173.00 254.15,172.14 254.40,171.55 254.65,174.38 254.90,173.64 255.15,173.26 255.40,174.06 255.65,175.40 255.90,176.69 256.15,175.38 256.40,175.85 256.65,175.02 256.90,174.56 257.15,174.72 257.40,173.47 257.65,172.40 257.90,173.16 258.15,172.96 258.40,169.95 258.65,170.53 258.90,169.50 259.15,169.04 259.40,165.30 259.65,165.85 259.90,166.82 260.15,164.43 260.40,163.92 260.65,162.62 260.90,163.88 261.15,162.25 261.40,162.01 261.65,162.25 261.90,163.35 262.15,162.27 262.40,163.93 262.65,158.97 262.90,160.39 263.15,160.64 263.40,159.56 263.65,159.71 263.90,159.96 264.15,158.83 264.40,160.88 264.65,158.04 264.90,157.78 265.15,157.79 265.40,158.22 265.65,158.35 265.90,156.76 266.15,157.30 266.40,157.86 266.65,158.70 266.90,161.33 267.15,161.57 267.40,163.67 267.65,160.93 267.90,167.16 268.15,164.80 268.40,167.00 268.65,165.20 268.90,166.91 269.15,168.33 269.40,169.68 269.65,171.01 269.90,169.37 270.15,172.42 270.40,174.71 270.65,174.46 270.90,175.18 271.15,177.02 271.40,175.78 271.65,177.50 271.90,178.41 272.15,177.59 272.40,174.07 272.65,176.54 272.90,176.67 273.15,178.01 273.40,174.64 273.65,177.74 273.90,177.29 274.15,179.70 274.40,180.36 274.65,182.08 274.90,181.88 275.15,184.33 275.40,184.85 275.65,185.64 275.90,188.10 276.15,185.74 276.40,186.48 276.65,186.27 276.90,186.04 277.15,188.50 277.40,185.28 277.65,185.35 277.90,185.15 278.15,184.94 278.40,183.86 278.65,181.74 278.90,182.65 279.15,182.34 279.40,183.34 279.65,181.78 279.90,183.51 280.15,183.05 280.40,181.45 280.65,180.53 280.90,179.49 281.15,180.50 281.40,179.71 281.65,181.48 281.90,179.74 282.15,177.31 282.40,177.34 282.65,176.38 282.90,177.96 283.15,178.97 283.40,178.42 283.65,178.52 283.90,174.44 284.15,177.15 284.40,175.06 284.65,173.99 284.90,175.87 285.15,175.21 285.40,172.83 285.65,171.58 285.90,170.75 286.15,171.36 286.40,167.50 286.65,165.56 286.90,164.17 287.15,164.94 287.40,164.87 287.65,165.44 287.90,165.13 288.15,164.57 288.40,163.74 288.65,164.35 288.90,165.48 289.15,165.73 289.40,163.04 289.65,163.67 289.90,164.65 290.15,163.58 290.40,162.96 290.65,162.55 290.90,162.39 291.15,165.83 291.40,167.52 291.65,168.12 291.90,163.10 292.15,163.04 292.40,165.54 292.65,165.38 292.90,165.35 293.15,167.98 293.40,167.64 293.65,167.48 293.90,167.20 294.15,165.71 294.40,167.11 294.65,169.59 294.90,169.19 295.15,169.62 295.40,170.11 295.65,171.48 295.90,170.77 296.15,174.11 296.40,174.75 296.65,175.55 296.90,174.44 297.15,173.24 297.40,174.96 297.65,178.85 297.90,176.75 298.15,177.15 298.40,178.20 298.65,180.52 298.90,177.86 299.15,181.83 299.40,179.58 299.65,180.98 299.90,180.00 300.15,183.42 300.40,182.94 300.65,185.20 300.90,186.15 301.15,185.82 301.40,184.67 301.65,185.95 301.90,190.51 302.15,190.29 302.40,187.67 302.65,188.63 302.90,188.99 303.15,186.77 303.40,186.78 303.65,182.98 303.90,182.88 304.15,182.09 304.40,180.83 304.65,179.90 304.90,182.36 305.15,180.14 305.40,181.19 305.65,178.85 305.90,178.98 306.15,178.75 306.40,179.26 306.65,177.96 306.90,176.98 307.15,179.17 307.40,177.54 307.65,176.90 307.90,177.17 308.15,174.99 308.40,173.59 308.65,173.34 308.90,170.71 309.15,170.15 309.40,172.23 309.65,169.98 309.90,170.04 310.15,169.64 310.40,170.42 310.65,166.43 310.90,164.69 311.15,164.74 311.40,163.69 311.65,164.19 311.90,166.35 312.15,167.06 312.40,165.80 312.65,167.87 312.90,167.54 313.15,167.99 313.40,168.54 313.65,170.39 313.90,169.19 314.15,166.53 314.40,169.04 314.65,166.99 314.90,165.56 315.15,167.71 315.40,166.67 315.65,166.63 315.90,164.82 316.15,163.87 316.40,166.97 316.65,169.28 316.90,168.58 317.15,171.22 317.40,169.41 317.65,172.43 317.90,170.27 318.15,171.92 318.40,170.68 318.65,170.75 318.90,171.25 319.15,172.31 319.40,172.60 319.65,175.91 319.90,174.94 320.15,177.12 320.40,173.57 320.65,175.48 320.90,175.19 321.15,175.88 321.40,178.92 321.65,177.77 321.90,180.63 322.15,180.82 322.40,183.17 322.65,184.62 322.90,183.22 323.15,184.58 323.40,185.11 323.65,184.73 323.90,186.11 324.15,187.97 324.40,186.50 324.65,188.14 324.90,187.57 325.15,189.33 325.40,187.74 325.65,190.96 325.90,190.82 326.15,189.70 326.40,187.65 326.65,191.32 326.90,191.34 327.15,189.20 327.40,186.36 327.65,186.79 327.90,189.28 328.15,188.18 328.40,187.00 328.65,186.11 328.90,185.11 329.15,185.73 329.40,186.74 329.65,183.40 329.90,184.21 330.15,183.90 330.40,184.45 330.65,183.94 330.90,183.01 331.15,182.66 331.40,180.20 331.65,180.51 331.90,183.62 332.15,182.04 332.40,178.69 332.65,177.50 332.90,179.74 333.15,177.65 333.40,175.27 333.65,174.98 333.90,174.81 334.15,174.41 334.40,172.15 334.65,173.00 334.90,172.07 335.15,171.69 335.40,169.68 335.65,166.41 335.90,166.65 336.15,167.73 336.40,165.96 336.65,165.82 336.90,165.74 337.15,164.17 337.40,163.00 337.65,163.56 337.90,165.92 338.15,168.33 338.40,165.84 338.65,168.83 338.90,169.66 339.15,168.66 339.40,169.20 339.65,167.24 339.90,169.58 340.15,168.96 340.40,167.86 340.65,166.57 340.90,165.37 341.15,167.26 341.40,167.73 341.65,170.66 341.90,170.58 342.15,171.83 342.40,171.31 342.65,172.42 342.90,173.64 343.15,172.78 343.40,171.69 343.65,172.11 343.90,173.40 344.15,175.50 344.40,176.32 344.65,175.47 344.90,179.52 345.15,181.48 345.40,181.04 345.65,179.99 345.90,180.93 346.15,181.44 346.40,178.04 346.65,180.14 346.90,178.48 347.15,179.25 347.40,180.33 347.65,180.85 347.90,182.81 348.15,180.13 348.40,185.20 348.65,182.45 348.90,180.84 349.15,180.27 349.40,183.14 349.65,181.79 349.90,180.98 350.15,179.89 350.40,184.68 350.65,182.75 350.90,181.18 351.15,179.79 351.40,179.96 351.65,181.36 351.90,181.49 352.15,181.34 352.40,179.49 352.65,177.80 352.90,177.53 353.15,179.62 353.40,179.07 353.65,179.72 353.90,179.00 354.15,179.23 354.40,177.97 354.65,177.71 354.90,178.66 355.15,176.22 355.40,177.25 355.65,178.62 355.90,177.23 356.15,177.21 356.40,176.69 356.65,177.74 356.90,177.63 357.15,174.96 357.40,173.79 357.65,175.04 357.90,173.87 358.15,175.51 358.40,173.90 358.65,172.98 358.90,171.65 359.15,172.27 359.40,170.66 359.65,170.24 359.90,169.79 360.15,168.49 360.40,164.67 360.65,165.71 360.90,167.93 361.15,166.72 361.40,169.68 361.65,169.28 361.90,168.95 362.15,165.42 362.40,167.37 362.65,169.42 362.90,168.29 363.15,168.43 363.40,169.98 363.65,167.57 363.90,171.34 364.15,168.84 364.40,168.28 364.65,168.56 364.90,170.91 365.15,171.93 365.40,171.52 365.65,174.48 365.90,174.26 366.15,176.46 366.40,177.22 366.65,173.77 366.90,174.27 367.15,177.13 367.40,175.06 367.65,176.84 367.90,177.16 368.15,177.03 368.40,177.18 368.65,178.57 368.90,178.28 369.15,177.10 369.40,179.54 369.65,178.46 369.90,179.21 370.15,182.52 370.40,184.60 370.65,182.64 370.90,183.00 371.15,181.51 371.40,185.66 371.65,185.76 371.90,189.09 372.15,187.96 372.40,187.35 372.65,186.27 372.90,188.43 373.15,188.49 373.40,189.11 373.65,190.40 373.90,192.70 374.15,193.46 374.40,190.90 374.65,190.38 374.90,193.04 375.15,192.96 375.40,192.53 375.65,191.75 375.90,193.34 376.15,190.91 376.40,191.13 376.65,187.21 376.90,189.20 377.15,192.33 377.40,190.12 377.65,187.67 377.90,185.50 378.15,187.92 378.40,186.99 378.65,184.65 378.90,186.53 379.15,185.23 379.40,184.37 379.65,183.99 379.90,183.67 380.15,183.87 380.40,182.43 380.65,181.78 380.90,181.87 381.15,180.12 381.40,179.31 381.65,179.88 381.90,178.59 382.15,176.68 382.40,176.99 382.65,177.79 382.90,172.71 383.15,172.20 383.40,173.43 383.65,174.18 383.90,176.24 384.15,176.59 384.40,174.87 384.65,175.45 384.90,173.54 385.15,176.03 385.40,175.25 385.65,174.99 385.90,173.84 386.15,174.91 386.40,173.25 386.65,172.36 386.90,171.77 387.15,175.70 387.40,174.89 387.65,174.12 387.90,174.73 388.15,176.70 388.40,174.47 388.65,175.49 388.90,175.36 389.15,176.21 389.40,178.49 389.65,178.90 389.90,176.23 390.15,176.41 390.40,180.24 390.65,178.71 390.90,179.28 391.15,178.13 391.40,176.96 391.65,180.22 391.90,181.58 392.15,181.01 392.40,181.42 392.65,181.78 392.90,179.12 393.15,177.38 393.40,180.45 393.65,182.75 393.90,182.41 394.15,182.87 394.40,183.86 394.65,184.91 394.90,186.59 395.15,182.82 395.40,182.65 395.65,187.64 395.90,188.08 396.15,188.39 396.40,187.08 396.65,187.79 396.90,189.60 397.15,191.20 397.40,187.85 397.65,190.63 397.90,188.50 398.15,188.50 398.40,191.36 398.65,193.17 398.90,193.69 399.15,190.13 399.40,191.83 399.65,190.06 399.90,191.27 400.15,189.11 400.40,187.62 400.65,188.60 400.90,190.49 401.15,189.69 401.40,187.09 401.65,185.16 401.90,184.49 402.15,186.44 402.40,185.71 402.65,185.80 402.90,184.96 403.15,183.27 403.40,185.31 403.65,182.66 403.90,183.68 404.15,184.87 404.40,185.03 404.65,183.54 404.90,185.84 405.15,180.77 405.40,181.83 405.65,183.10 405.90,182.47 406.15,181.68 406.40,179.43 406.65,173.44 406.90,171.47 407.15,174.08 407.40,173.44 407.65,173.64 407.90,171.82 408.15,169.27 408.40,168.68 408.65,167.13 408.90,167.77 409.15,171.41 409.40,170.19 409.65,171.28 409.90,170.78 410.15,169.57 410.40,173.00 410.65,169.28 410.90,168.73 411.15,170.39 411.40,171.06 411.65,173.07 411.90,172.62 412.15,172.18 412.40,169.69 412.65,170.33 412.90,168.74 413.15,171.92 413.40,170.12 413.65,171.87 413.90,173.40 414.15,171.83 414.40,171.45 414.65,172.00 414.90,171.34 415.15,173.12 415.40,174.13 415.65,172.94 415.90,173.61 416.15,176.80 416.40,174.24 416.65,176.19 416.90,174.70 417.15,174.13 417.40,174.86 417.65,175.57 417.90,175.23 418.15,178.69 418.40,177.83 418.65,178.25 418.90,179.50 419.15,177.79 419.40,179.97 419.65,181.06 419.90,179.94 420.15,180.65 420.40,181.43 420.65,182.68 420.90,183.73 421.15,180.47 421.40,185.08 421.65,184.38 421.90,185.01 422.15,185.94 422.40,184.14 422.65,185.42 422.90,183.36 423.15,185.81 423.40,187.31 423.65,186.95 423.90,185.47 424.15,188.44 424.40,187.61 424.65,189.57 424.90,185.34 425.15,186.43 425.40,185.63 425.65,187.04 425.90,185.24 426.15,185.74 426.40,185.70 426.65,184.33 426.90,182.99 427.15,183.07 427.40,184.93 427.65,185.38 427.90,183.75 428.15,185.15 428.40,182.45 428.65,183.44 428.90,181.72 429.15,180.04 429.40,177.39 429.65,180.17 429.90,179.05 430.15,179.83 430.40,180.13 430.65,177.73 430.90,178.43 431.15,176.69 431.40,174.76 431.65,175.55 431.90,173.28 432.15,171.52 432.40,171.15 432.65,174.30 432.90,173.14 433.15,172.50 433.40,172.61 433.65,174.03 433.90,176.72 434.15,173.78 434.40,173.43 434.65,172.38 434.90,172.55 435.15,169.98 435.40,169.61 435.65,169.04 435.90,169.59 436.15,168.24 436.40,171.38 436.65,169.62 436.90,171.24 437.15,173.01 437.40,169.58 437.65,172.14 437.90,172.35 438.15,172.28 438.40,173.15 438.65,173.74 438.90,170.41 439.15,172.70 439.40,172.47 439.65,173.88 439.90,177.38 440.15,176.59 440.40,175.05 440.65,177.77 440.90,176.96 441.15,178.64 441.40,179.46 441.65,180.46 441.90,180.50 442.15,180.59 442.40,179.01 442.65,180.67 442.90,181.82 443.15,183.28 443.40,184.25 443.65,186.42 443.90,186.42"/>
<polyline fill="none" stroke="#880000" stroke-width="1.1" stroke-linejoin="round" points="250.70,223.66 250.95,219.50 251.20,221.53 251.45,223.26 251.70,220.76 251.95,218.79 252.20,217.74 252.45,218.90 252.70,222.11 252.95,220.66 253.20,221.58 253.45,222.39 253.70,222.55 253.95,223.34 254.20,223.51 254.45,222.47 254.70,223.22 254.95,223.76 255.20,224.88 255.45,224.87 255.70,225.78 255.95,224.13 256.20,221.04 256.45,222.12 256.70,222.18 256.95,219.54 257.20,217.97 257.45,219.08 257.70,217.07 257.95,219.39 258.20,218.70 258.45,215.24 258.70,211.95 258.95,209.62 259.20,208.51 259.45,205.92 259.70,206.59 259.95,207.32 260.20,211.05 260.45,210.86 260.70,206.99 260.95,207.29 261.20,209.77 261.45,208.64 261.70,210.56 261.95,212.21 262.20,209.26 262.45,209.26 262.70,210.06 262.95,212.27 263.20,210.29 263.45,212.57 263.70,210.08 263.95,210.05 264.20,212.61 264.45,213.80 264.70,214.41 264.95,215.78 265.20,214.38 265.45,216.26 265.70,214.48 265.95,217.92 266.20,218.26 266.45,217.03 266.70,217.46 266.95,217.88 267.20,218.29 267.45,215.36 267.70,220.46 267.95,220.98 268.20,221.43 268.45,220.71 268.70,223.16 268.95,223.53 269.20,222.88 269.45,225.01 269.70,224.22 269.95,220.84 270.20,222.98 270.45,221.00 270.70,223.37 270.95,219.37 271.20,219.95 271.45,217.41 271.70,217.88 271.95,216.18 272.20,217.10 272.45,214.84 272.70,215.43 272.95,214.19 273.20,213.35 273.45,213.43 273.70,215.43 273.95,214.12 274.20,211.08 274.45,213.58 274.70,215.17 274.95,215.66 275.20,215.58 275.45,217.45 275.70,217.07 275.95,217.59 276.20,218.77 276.45,221.23 276.70,221.77 276.95,220.48 277.20,221.43 277.45,221.48 277.70,223.09 277.95,222.91 278.20,224.71 278.45,227.33 278.70,223.24 278.95,222.17 279.20,224.66 279.45,222.94 279.70,222.30 279.95,219.81 280.20,221.63 280.45,223.46 280.70,221.31 280.95,219.88 281.20,221.79 281.45,220.82 281.70,221.49 281.95,219.21 282.20,219.56 282.45,216.80 282.70,217.80 282.95,214.28 283.20,216.42 283.45,214.91 283.70,216.02 283.95,214.42 284.20,213.62 284.45,215.56 284.70,213.12 284.95,210.86 285.20,215.03 285.45,216.29 285.70,218.98 285.95,219.31 286.20,220.01 286.45,220.51 286.70,220.24 286.95,221.65 287.20,224.43 287.45,226.73 287.70,226.89 287.95,225.77 288.20,225.70 288.45,226.53 288.70,228.71 288.95,229.32 289.20,229.20 289.45,227.74 289.70,224.87 289.95,230.33 290.20,230.04 290.45,229.37 290.70,229.46 290.95,230.47 291.20,231.62 291.45,228.94 291.70,231.88 291.95,229.33 292.20,229.86 292.45,231.75 292.70,228.69 292.95,231.61 293.20,228.85 293.45,226.38 293.70,230.39 293.95,227.78 294.20,224.43 294.45,224.59 294.70,223.53 294.95,220.71 295.20,220.96 295.45,220.00 295.70,221.45 295.95,217.75 296.20,217.34 296.45,217.69 296.70,218.04 296.95,216.49 297.20,213.56 297.45,216.16 297.70,215.55 297.95,214.25 298.20,214.43 298.45,214.95 298.70,215.72 298.95,216.15 299.20,217.30 299.45,217.08 299.70,222.11 299.95,221.58 300.20,224.43 300.45,224.30 300.70,228.06 300.95,228.09 301.20,228.33 301.45,228.35 301.70,231.22 301.95,229.36 302.20,228.09 302.45,227.91 302.70,226.79 302.95,226.77 303.20,224.32 303.45,225.97 303.70,226.51 303.95,225.78 304.20,226.55 304.45,227.96 304.70,228.92 304.95,230.10 305.20,230.58 305.45,230.97 305.70,230.99 305.95,227.89 306.20,228.42 306.45,226.66 306.70,226.17 306.95,224.52 307.20,225.19 307.45,223.37 307.70,220.53 307.95,220.88 308.20,218.11 308.45,218.53 308.70,215.14 308.95,215.14 309.20,214.05 309.45,211.59 309.70,215.65 309.95,213.49 310.20,218.18 310.45,217.15 310.70,214.86 310.95,215.84 311.20,221.02 311.45,217.93 311.70,216.75 311.95,221.75 312.20,219.71 312.45,225.42 312.70,225.06 312.95,226.46 313.20,225.11 313.45,228.13 313.70,227.68 313.95,227.50 314.20,229.36 314.45,230.66 314.70,226.97 314.95,227.38 315.20,224.79 315.45,226.47 315.70,224.92 315.95,223.71 316.20,223.02 316.45,220.05 316.70,221.44 316.95,222.30 317.20,220.02 317.45,222.83 317.70,224.39 317.95,225.45 318.20,222.94 318.45,220.65 318.70,219.34 318.95,217.63 319.20,216.68 319.45,217.39 319.70,214.99 319.95,215.59 320.20,216.03 320.45,218.61 320.70,219.14 320.95,218.30 321.20,215.57 321.45,214.90 321.70,211.81 321.95,215.82 322.20,214.44 322.45,214.64 322.70,216.46 322.95,216.77 323.20,211.93 323.45,211.35 323.70,213.80 323.95,216.05 324.20,218.44 324.45,217.44 324.70,220.66 324.95,221.55 325.20,223.08 325.45,228.22 325.70,227.12 325.95,227.61 326.20,228.20 326.45,227.31 326.70,228.65 326.95,225.88 327.20,226.29 327.45,225.09 327.70,221.91 327.95,226.05 328.20,223.10 328.45,224.40 328.70,225.33 328.95,227.47 329.20,230.31 329.45,228.90 329.70,228.71 329.95,226.49 330.20,224.85 330.45,224.21 330.70,221.44 330.95,218.12 331.20,223.36 331.45,218.82 331.70,218.60 331.95,218.55 332.20,216.61 332.45,220.76 332.70,216.24 332.95,217.29 333.20,215.90 333.45,217.54 333.70,216.17 333.95,215.87 334.20,215.53 334.45,218.46 334.70,214.73 334.95,213.78 335.20,215.72 335.45,214.79 335.70,214.99 335.95,217.21 336.20,214.38 336.45,216.08 336.70,216.35 336.95,217.39 337.20,217.63 337.45,215.96 337.70,216.84 337.95,218.39 338.20,217.33 338.45,222.92 338.70,220.22 338.95,219.46 339.20,218.33 339.45,221.95 339.70,224.39 339.95,225.00 340.20,223.52 340.45,225.46 340.70,225.36 340.95,228.62 341.20,228.23 341.45,228.14 341.70,226.84 341.95,225.44 342.20,224.36 342.45,222.61 342.70,221.61 342.95,221.15 343.20,218.28 343.45,218.78 343.70,215.62 343.95,215.26 344.20,216.10 344.45,216.94 344.70,217.53 344.95,218.15 345.20,216.31 345.45,214.13 345.70,215.64 345.95,215.92 346.20,217.68 346.45,214.97 346.70,214.69 346.95,214.48 347.20,216.88 347.45,214.45 347.70,217.33 347.95,215.63 348.20,219.34 348.45,221.09 348.70,223.04 348.95,223.50 349.20,227.54 349.45,228.44 349.70,229.50 349.95,228.14 350.20,227.21 350.45,229.64 350.70,229.14 350.95,229.90 351.20,226.78 351.45,229.25 351.70,228.12 351.95,230.73 352.20,227.74 352.45,231.31 352.70,230.68 352.95,228.98 353.20,230.69 353.45,231.50 353.70,229.75 353.95,227.92 354.20,227.63 354.45,227.73 354.70,224.96 354.95,224.73 355.20,223.28 355.45,222.94 355.70,222.90 355.95,222.63 356.20,221.64 356.45,222.80 356.70,223.63 356.95,222.94 357.20,225.43 357.45,224.62 357.70,222.57 357.95,224.20 358.20,224.29 358.45,225.16 358.70,223.33 358.95,226.41 359.20,223.80 359.45,223.39 359.70,225.03 359.95,225.82 360.20,226.73 360.45,226.09 360.70,230.31 360.95,228.81 361.20,227.65 361.45,230.03 361.70,229.55 361.95,231.95 362.20,231.44 362.45,231.72 362.70,230.80 362.95,229.11 363.20,230.64 363.45,229.55 363.70,231.28 363.95,233.29 364.20,232.85 364.45,233.48 364.70,235.15 364.95,234.77 365.20,237.00 365.45,234.32 365.70,236.80 365.95,233.50 366.20,232.36 366.45,230.87 366.70,230.50 366.95,228.35 367.20,228.79 367.45,227.02 367.70,227.37 367.95,228.66 368.20,228.47 368.45,227.96 368.70,225.46 368.95,223.04 369.20,225.24 369.45,226.30 369.70,225.74 369.95,224.97 370.20,225.92 370.45,226.85 370.70,227.23 370.95,228.03 371.20,229.59 371.45,229.05 371.70,228.61 371.95,230.31 372.20,233.41 372.45,233.37 372.70,231.87 372.95,233.89 373.20,235.31 373.45,236.15 373.70,235.53 373.95,238.44 374.20,238.06 374.45,237.46 374.70,236.58 374.95,238.01 375.20,237.46 375.45,234.85 375.70,235.01 375.95,232.94 376.20,230.73 376.45,232.37 376.70,231.45 376.95,234.77 377.20,236.78 377.45,238.27 377.70,237.09 377.95,238.85 378.20,237.20 378.45,234.35 378.70,234.79 378.95,232.32 379.20,231.72 379.45,229.30 379.70,227.96 379.95,227.06 380.20,224.89 380.45,225.76 380.70,225.44 380.95,224.57 381.20,224.42 381.45,224.69 381.70,223.94 381.95,220.83 382.20,224.43 382.45,226.59 382.70,226.04 382.95,226.58 383.20,228.83 383.45,231.52 383.70,228.95 383.95,228.09 384.20,231.47 384.45,233.90 384.70,233.30 384.95,233.11 385.20,236.35 385.45,238.78 385.70,236.79 385.95,238.47 386.20,237.66 386.45,239.30 386.70,234.90 386.95,234.02 387.20,235.01 387.45,233.11 387.70,231.23 387.95,230.08 388.20,228.12 388.45,230.68 388.70,230.83 388.95,230.05 389.20,228.69 389.45,229.99 389.70,230.18 389.95,228.72 390.20,225.24 390.45,225.27 390.70,220.05 390.95,223.27 391.20,219.34 391.45,220.74 391.70,222.21 391.95,220.58 392.20,221.11 392.45,222.73 392.70,219.40 392.95,219.44 393.20,221.41 393.45,218.76 393.70,218.87 393.95,220.16 394.20,216.86 394.45,220.29 394.70,220.19 394.95,221.74 395.20,222.39 395.45,223.93 395.70,225.48 395.95,224.86 396.20,224.93 396.45,227.88 396.70,229.30 396.95,230.44 397.20,228.87 397.45,228.05 397.70,227.68 397.95,225.02 398.20,226.84 398.45,228.28 398.70,230.12 398.95,227.63 399.20,228.02 399.45,225.30 399.70,226.18 399.95,226.72 400.20,227.15 400.45,226.98 400.70,225.36 400.95,224.72 401.20,223.63 401.45,225.43 401.70,225.97 401.95,226.74 402.20,228.56 402.45,226.24 402.70,224.66 402.95,223.62 403.20,222.89 403.45,223.05 403.70,223.99 403.95,218.42 404.20,219.73 404.45,217.84 404.70,217.01 404.95,221.15 405.20,218.16 405.45,219.08 405.70,218.67 405.95,215.95 406.20,216.55 406.45,216.61 406.70,217.60 406.95,213.47 407.20,216.04 407.45,218.41 407.70,219.24 407.95,216.55 408.20,218.38 408.45,220.35 408.70,222.56 408.95,222.32 409.20,222.11 409.45,222.65 409.70,223.56 409.95,223.81 410.20,223.77 410.45,224.31 410.70,223.07 410.95,221.12 411.20,223.66 411.45,224.27 411.70,223.70 411.95,222.98 412.20,224.45 412.45,223.93 412.70,222.73 412.95,224.19 413.20,227.47 413.45,229.53 413.70,227.37 413.95,227.51 414.20,227.68 414.45,224.23 414.70,221.38 414.95,218.53 415.20,217.58 415.45,217.37 415.70,217.37 415.95,215.37 416.20,214.53 416.45,214.74 416.70,211.63 416.95,214.78 417.20,215.60 417.45,216.46 417.70,217.63 417.95,218.69 418.20,216.57 418.45,221.05 418.70,220.89 418.95,220.68 419.20,223.63 419.45,222.07 419.70,219.75 419.95,224.68 420.20,224.04 420.45,222.15 420.70,221.52 420.95,221.83 421.20,220.89 421.45,223.65 421.70,221.70 421.95,225.13 422.20,226.50 422.45,226.58 422.70,228.62 422.95,231.47 423.20,231.48 423.45,229.42 423.70,231.08 423.95,230.40 424.20,230.37 424.45,229.45 424.70,231.05 424.95,232.17 425.20,231.57 425.45,232.60 425.70,233.57 425.95,234.92 426.20,233.85 426.45,230.38 426.70,229.92 426.95,226.20 427.20,224.72 427.45,224.27 427.70,224.59 427.95,221.50 428.20,221.30 428.45,223.61 428.70,221.80 428.95,220.59 429.20,218.62 429.45,222.39 429.70,223.48 429.95,221.89 430.20,225.51 430.45,226.97 430.70,225.07 430.95,227.23 431.20,226.26 431.45,229.57 431.70,229.09 431.95,229.11 432.20,228.52 432.45,229.96 432.70,228.88 432.95,229.81 433.20,232.34 433.45,232.16 433.70,234.48 433.95,236.21 434.20,239.56 434.45,237.45 434.70,239.18 434.95,241.23 435.20,241.80 435.45,238.18 435.70,238.87 435.95,239.61 436.20,239.67 436.45,237.50 436.70,236.75 436.95,237.11 437.20,240.69 437.45,237.64 437.70,240.32 437.95,240.68 438.20,242.15 438.45,241.25 438.70,241.59 438.95,238.98 439.20,238.93 439.45,236.00 439.70,233.78 439.95,235.24 440.20,231.14 440.45,229.59 440.70,226.68 440.95,230.90 441.20,229.32 441.45,227.24 441.70,228.76 441.95,228.10 442.20,228.82 442.45,230.11 442.70,229.62 442.95,232.41"/>
<polyline fill="none" stroke="#008000" stroke-width="1.1" stroke-linejoin="round" points="251.10,269.94 251.35,271.47 251.60,270.79 251.85,275.94 252.10,278.08 252.35,275.89 252.60,276.58 252.85,278.12 253.10,279.45 253.35,277.20 253.60,275.64 253.85,276.36 254.10,278.24 254.35,280.32 254.60,280.80 254.85,282.92 255.10,281.84 255.35,282.70 255.60,280.21 255.85,279.95 256.10,280.62 256.35,278.83 256.60,278.44 256.85,274.86 257.10,274.53 257.35,274.75 257.60,273.46 257.85,273.61 258.10,277.04 258.35,277.49 258.60,277.66 258.85,277.06 259.10,280.26 259.35,275.36 259.60,276.79 259.85,276.58 260.10,274.74 260.35,276.20 260.60,274.60 260.85,273.51 261.10,272.84 261.35,275.38 261.60,273.70 261.85,273.36 262.10,272.67 262.35,271.40 262.60,271.56 262.85,271.01 263.10,271.61 263.35,271.46 263.60,272.41 263.85,270.94 264.10,271.12 264.35,271.01 264.60,267.66 264.85,269.93 265.10,271.85 265.35,270.41 265.60,271.35 265.85,272.62 266.10,274.68 266.35,272.62 266.60,272.44 266.85,272.21 267.10,272.70 267.35,273.92 267.60,272.35 267.85,271.48 268.10,272.94 268.35,272.36 268.60,273.05 268.85,272.76 269.10,273.77 269.35,273.15 269.60,274.70 269.85,274.17 270.10,270.99 270.35,273.69 270.60,271.97 270.85,273.83 271.10,271.03 271.35,273.32 271.60,274.28 271.85,270.39 272.10,272.57 272.35,273.93 272.60,273.01 272.85,273.79 273.10,275.90 273.35,275.31 273.60,272.80 273.85,271.13 274.10,272.75 274.35,272.20 274.60,272.59 274.85,271.11 275.10,269.96 275.35,272.88 275.60,271.38 275.85,271.66 276.10,271.23 276.35,271.92 276.60,271.41 276.85,271.60 277.10,273.90 277.35,268.64 277.60,270.83 277.85,273.41 278.10,273.63 278.35,271.38 278.60,272.14 278.85,274.57 279.10,273.00 279.35,275.18 279.60,276.45 279.85,275.28 280.10,275.55 280.35,276.71 280.60,275.78 280.85,276.96 281.10,274.53 281.35,274.31 281.60,275.01 281.85,273.74 282.10,277.21 282.35,277.05 282.60,274.12 282.85,271.78 283.10,271.65 283.35,273.36 283.60,272.98 283.85,270.86 284.10,272.69 284.35,274.50 284.60,273.87 284.85,275.27 285.10,274.46 285.35,273.34 285.60,270.83 285.85,271.74 286.10,271.67 286.35,275.09 286.60,273.12 286.85,271.97 287.10,276.24 287.35,273.31 287.60,273.53 287.85,273.86 288.10,273.21 288.35,272.96 288.60,275.53 288.85,275.41 289.10,274.86 289.35,273.70 289.60,276.31 289.85,277.27 290.10,275.05 290.35,274.05 290.60,273.81 290.85,273.11 291.10,271.63 291.35,272.79 291.60,274.62 291.85,275.11 292.10,273.75 292.35,269.99 292.60,274.51 292.85,274.31 293.10,271.24 293.35,273.61 293.60,275.40 293.85,275.43 294.10,276.30 294.35,273.31 294.60,274.53 294.85,272.61 295.10,274.53 295.35,276.61 295.60,272.77 295.85,272.23 296.10,271.43 296.35,275.52 296.60,274.07 296.85,273.55 297.10,271.88 297.35,273.94 297.60,273.73 297.85,275.36 298.10,275.51 298.35,276.54 298.60,278.77 298.85,276.25 299.10,277.93 299.35,272.68 299.60,274.07 299.85,277.50 300.10,275.41 300.35,273.28 300.60,272.06 300.85,274.37 301.10,271.83 301.35,271.44 301.60,272.30 301.85,271.54 302.10,271.80 302.35,270.05 302.60,273.13 302.85,276.43 303.10,276.72 303.35,277.03 303.60,275.60 303.85,274.29 304.10,275.16 304.35,276.27 304.60,275.17 304.85,271.45 305.10,273.96 305.35,274.45 305.60,270.57 305.85,269.06 306.10,270.49 306.35,267.88 306.60,271.23 306.85,269.70 307.10,268.45 307.35,267.27 307.60,269.79 307.85,268.26 308.10,266.19 308.35,268.23 308.60,268.62 308.85,270.66 309.10,271.23 309.35,271.42 309.60,268.44 309.85,268.22 310.10,267.69 310.35,267.99 310.60,270.07 310.85,271.04 311.10,271.87 311.35,272.48 311.60,269.43 311.85,273.43 312.10,276.00 312.35,275.97 312.60,276.59 312.85,275.23 313.10,273.63 313.35,275.20 313.60,276.87 313.85,276.22 314.10,278.02 314.35,276.67 314.60,279.29 314.85,275.30 315.10,274.26 315.35,275.25 315.60,274.62 315.85,275.86 316.10,276.18 316.35,277.03 316.60,278.23 316.85,276.98 317.10,277.62 317.35,276.81 317.60,275.99 317.85,275.48 318.10,276.99 318.35,276.93 318.60,276.88 318.85,277.42 319.10,277.35 319.35,276.15 319.60,275.39 319.85,277.71 320.10,277.63 320.35,277.60 320.60,277.51 320.85,275.77 321.10,279.82 321.35,282.69 321.60,281.03 321.85,278.73 322.10,278.99 322.35,281.05 322.60,278.78 322.85,278.73 323.10,276.98 323.35,282.45 323.60,278.85 323.85,277.18 324.10,279.08 324.35,279.39 324.60,279.53 324.85,277.14 325.10,277.29 325.35,276.73 325.60,275.81 325.85,275.59 326.10,273.29 326.35,270.96 326.60,276.18 326.85,275.84 327.10,278.17 327.35,277.63 327.60,279.08 327.85,278.82 328.10,278.61 328.35,276.92 328.60,277.38 328.85,276.82 329.10,276.02 329.35,273.79 329.60,273.22 329.85,271.88 330.10,270.70 330.35,273.19 330.60,272.38 330.85,272.90 331.10,273.41 331.35,275.31 331.60,278.51 331.85,275.21 332.10,278.76 332.35,278.18 332.60,274.56 332.85,274.04 333.10,273.15 333.35,274.46 333.60,275.42 333.85,275.57 334.10,274.91 334.35,276.26 334.60,276.92 334.85,278.53 335.10,276.71 335.35,278.02 335.60,274.97 335.85,275.47 336.10,274.82 336.35,273.54 336.60,272.10 336.85,271.91 337.10,273.75 337.35,272.26 337.60,271.33 337.85,266.67 338.10,269.85 338.35,269.56 338.60,268.33 338.85,269.17 339.10,268.25 339.35,271.33 339.60,270.79 339.85,270.72 340.10,272.05 340.35,270.43 340.60,267.23 340.85,268.20 341.10,271.04 341.35,267.88 341.60,269.05 341.85,268.28 342.10,266.87 342.35,265.01 342.60,264.38 342.85,265.48 343.10,265.04 343.35,266.68 343.60,264.88 343.85,265.72 344.10,266.62 344.35,264.76 344.60,265.00 344.85,266.24 345.10,263.35 345.35,266.13 345.60,266.09 345.85,263.95 346.10,265.96 346.35,265.30 346.60,266.13 346.85,267.61 347.10,265.50 347.35,270.23 347.60,270.90 347.85,269.79 348.10,268.94 348.35,268.23 348.60,265.68 348.85,266.80 349.10,265.89 349.35,265.56 349.60,266.25 349.85,266.83 350.10,268.14 350.35,269.27 350.60,269.16 350.85,270.04 351.10,270.40 351.35,269.22 351.60,268.65 351.85,267.77 352.10,266.90 352.35,269.11 352.60,269.77 352.85,271.48 353.10,268.30 353.35,270.72 353.60,273.21 353.85,271.30 354.10,270.30 354.35,270.71 354.60,269.53 354.85,268.61 355.10,266.61 355.35,268.80 355.60,268.79 355.85,265.95 356.10,266.91 356.35,268.43 356.60,270.68 356.85,266.89 357.10,265.33 357.35,267.91 357.60,265.36 357.85,264.63 358.10,264.72 358.35,267.44 358.60,265.73 358.85,266.26 359.10,265.46 359.35,267.65 359.60,266.16 359.85,266.28 360.10,266.66 360.35,265.23 360.60,265.71 360.85,267.80 361.10,268.79 361.35,270.61 361.60,268.97 361.85,266.02 362.10,268.22 362.35,270.13 362.60,269.98 362.85,269.23 363.10,272.23 363.35,271.83 363.60,270.62 363.85,271.01 364.10,270.90 364.35,270.87 364.60,270.81 364.85,268.89 365.10,269.75 365.35,270.98 365.60,269.40 365.85,269.20 366.10,267.98 366.35,266.73 366.60,268.72 366.85,269.61 367.10,269.13 367.35,268.62 367.60,269.10 367.85,269.69 368.10,270.14 368.35,270.03 368.60,270.78 368.85,268.56 369.10,265.82 369.35,266.74 369.60,266.81 369.85,265.97 370.10,265.58 370.35,267.96 370.60,267.21 370.85,267.61 371.10,264.75 371.35,266.09 371.60,266.83 371.85,267.66 372.10,268.64 372.35,271.63 372.60,268.48 372.85,268.99 373.10,267.40 373.35,268.55 373.60,270.12 373.85,268.76 374.10,266.83 374.35,265.42 374.60,264.16 374.85,263.98 375.10,263.63 375.35,260.81 375.60,263.27 375.85,262.86 376.10,261.68 376.35,259.65 376.60,261.94 376.85,264.57 377.10,263.57 377.35,265.18 377.60,267.18 377.85,268.16 378.10,267.77 378.35,268.09 378.60,265.04 378.85,267.47 379.10,269.58 379.35,269.56 379.60,269.79 379.85,266.75 380.10,266.84 380.35,263.27 380.60,264.12 380.85,266.99 381.10,265.77 381.35,262.88 381.60,263.78 381.85,263.56 382.10,260.71 382.35,262.65 382.60,264.00 382.85,263.50 383.10,264.29 383.35,265.19 383.60,266.81 383.85,267.30 384.10,265.82 384.35,266.10 384.60,265.04 384.85,266.58 385.10,267.54 385.35,268.06 385.60,266.82 385.85,263.44 386.10,263.88 386.35,266.26 386.60,265.51 386.85,267.36 387.10,267.65 387.35,268.44 387.60,268.47 387.85,269.51 388.10,269.10 388.35,272.88 388.60,269.62 388.85,266.23 389.10,266.66 389.35,267.49 389.60,268.06 389.85,267.28 390.10,266.26 390.35,270.70 390.60,269.07 390.85,271.26 391.10,269.49 391.35,271.07 391.60,267.37 391.85,271.65 392.10,267.52 392.35,267.28 392.60,267.76 392.85,267.03 393.10,266.73 393.35,265.81 393.60,264.89 393.85,264.01 394.10,264.13 394.35,263.68 394.60,264.00 394.85,263.40 395.10,264.58 395.35,265.59 395.60,262.66 395.85,263.60 396.10,264.12 396.35,265.97 396.60,265.82 396.85,266.26 397.10,266.02 397.35,268.25 397.60,268.28 397.85,267.09 398.10,264.63 398.35,264.61 398.60,265.72 398.85,264.51 399.10,266.33 399.35,268.58 399.60,266.94 399.85,268.12 400.10,266.31 400.35,267.08 400.60,266.84 400.85,266.47 401.10,264.47 401.35,265.02 401.60,264.67 401.85,261.64 402.10,264.28 402.35,263.21 402.60,264.49 402.85,267.67 403.10,268.33 403.35,267.73 403.60,269.53 403.85,269.38 404.10,270.44 404.35,270.74 404.60,271.34 404.85,270.55 405.10,269.19 405.35,266.02 405.60,268.74 405.85,264.94 406.10,263.69 406.35,264.18 406.60,266.20 406.85,265.84 407.10,265.89 407.35,265.69 407.60,265.59 407.85,264.01 408.10,265.98 408.35,266.03 408.60,264.83 408.85,264.40 409.10,267.74 409.35,268.40 409.60,268.01 409.85,266.71 410.10,268.96 410.35,268.28 410.60,266.95 410.85,266.60 411.10,267.29 411.35,265.37 411.60,263.77 411.85,265.43 412.10,264.04 412.35,263.68 412.60,260.98 412.85,261.35 413.10,262.43 413.35,263.26 413.60,264.15 413.85,263.22 414.10,265.51 414.35,267.19 414.60,267.25 414.85,266.22 415.10,266.83 415.35,264.43 415.60,267.33 415.85,269.89 416.10,268.16 416.35,268.94 416.60,267.71 416.85,268.48 417.10,270.41 417.35,271.28 417.60,271.56 417.85,271.57 418.10,269.93 418.35,270.25 418.60,270.24 418.85,270.51 419.10,269.16 419.35,272.53 419.60,272.95 419.85,269.84 420.10,271.91 420.35,269.09 420.60,269.69 420.85,270.15 421.10,271.51 421.35,271.01 421.60,269.67 421.85,270.63 422.10,269.65 422.35,268.04 422.60,266.66 422.85,267.87 423.10,268.93 423.35,267.32 423.60,269.37 423.85,270.53 424.10,268.59"/>
<polyline fill="none" stroke="#000" stroke-width="1.1" stroke-linejoin="round" points="471.90,50.07 472.15,51.05 472.40,51.25 472.65,50.67 472.90,50.31 473.15,49.60 473.40,51.35 473.65,53.63 473.90,53.38 474.15,52.78 474.40,49.41 474.65,50.27 474.90,49.74 475.15,47.48 475.40,46.10 475.65,46.21 475.90,44.55 476.15,43.28 476.40,42.21 476.65,45.39 476.90,42.98 477.15,45.19 477.40,42.22 477.65,41.65 477.90,43.17 478.15,42.82 478.40,39.92 478.65,41.28 478.90,39.73 479.15,40.71 479.40,41.42 479.65,37.95 479.90,38.46 480.15,39.13 480.40,37.49 480.65,37.32 480.90,38.84 481.15,37.65 481.40,39.77 481.65,38.03 481.90,36.76 482.15,38.46 482.40,37.89 482.65,38.24 482.90,37.33 483.15,38.40 483.40,38.69 483.65,39.60 483.90,34.22 484.15,36.48 484.40,37.23 484.65,34.57 484.90,36.37 485.15,37.25 485.40,34.42 485.65,33.64 485.90,35.48 486.15,33.45 486.40,35.29 486.65,33.76 486.90,34.39 487.15,33.39 487.40,31.26 487.65,32.02 487.90,33.61 488.15,32.41 488.40,31.73 488.65,32.40 488.90,33.59 489.15,33.95 489.40,33.21 489.65,33.40 489.90,32.45 490.15,32.88 490.40,33.77 490.65,33.35 490.90,33.21 491.15,33.71 491.40,33.33 491.65,35.07 491.90,33.81 492.15,34.66 492.40,37.26 492.65,34.83 492.90,33.53 493.15,35.70 493.40,32.29 493.65,31.77 493.90,32.02 494.15,33.46 494.40,32.62 494.65,33.00 494.90,30.07 495.15,30.95 495.40,32.30 495.65,31.49 495.90,33.15 496.15,32.20 496.40,33.21 496.65,32.74 496.90,33.66 497.15,35.22 497.40,35.48 497.65,36.04 497.90,33.20 498.15,35.70 498.40,38.22 498.65,38.34 498.90,37.35 499.15,39.61 499.40,42.62 499.65,40.08 499.90,38.43 500.15,38.92 500.40,37.12 500.65,37.99 500.90,32.51 501.15,34.96 501.40,34.58 501.65,35.86 501.90,35.09 502.15,36.56 502.40,34.93 502.65,38.49 502.90,39.34 503.15,40.36 503.40,40.86 503.65,40.51 503.90,39.79 504.15,42.72 504.40,40.73 504.65,41.65 504.90,35.55 505.15,36.12 505.40,35.53 505.65,38.41 505.90,36.79 506.15,36.40 506.40,39.24 506.65,39.06 506.90,39.51 507.15,37.93 507.40,38.09 507.65,40.67 507.90,40.86 508.15,41.61 508.40,43.78 508.65,43.22 508.90,40.58 509.15,40.73 509.40,40.97 509.65,40.32 509.90,39.37 510.15,36.22 510.40,39.39 510.65,37.55 510.90,37.25 511.15,36.25 511.40,38.69 511.65,37.41 511.90,40.55 512.15,40.48 512.40,41.50 512.65,42.10 512.90,43.25 513.15,42.36 513.40,43.43 513.65,44.91 513.90,42.68 514.15,39.20 514.40,39.34 514.65,40.81 514.90,40.00 515.15,38.85 515.40,39.18 515.65,40.23 515.90,39.24 516.15,42.24 516.40,39.41 516.65,42.02 516.90,40.84 517.15,43.80 517.40,41.46 517.65,41.59 517.90,42.64 518.15,42.78 518.40,43.01 518.65,42.76 518.90,42.82 519.15,41.90 519.40,39.17 519.65,41.33 519.90,41.68 520.15,43.86 520.40,42.40 520.65,41.97 520.90,41.88 521.15,40.98 521.40,39.15 521.65,39.94 521.90,41.21 522.15,41.02 522.40,43.02 522.65,40.86 522.90,43.49 523.15,45.37 523.40,47.82 523.65,44.41 523.90,45.31 524.15,45.75 524.40,45.26 524.65,48.77 524.90,45.42 525.15,44.94 525.40,44.81 525.65,46.18 525.90,48.84 526.15,49.52 526.40,49.43 526.65,53.06 526.90,49.71 527.15,50.92 527.40,48.40 527.65,46.96 527.90,47.45 528.15,49.22 528.40,48.20 528.65,48.03 528.90,49.51 529.15,49.09 529.40,50.75 529.65,51.77 529.90,51.44 530.15,50.95 530.40,50.23 530.65,47.29 530.90,48.81 531.15,48.55 531.40,48.01 531.65,49.17 531.90,47.97 532.15,49.77 532.40,48.63 532.65,47.12 532.90,51.32 533.15,51.59 533.40,51.89 533.65,48.61 533.90,49.67 534.15,49.58 534.40,49.69 534.65,51.06 534.90,49.39 535.15,47.13 535.40,50.04 535.65,49.66 535.90,50.17 536.15,52.32 536.40,48.18 536.65,50.88 536.90,55.30 537.15,54.36 537.40,50.52 537.65,53.98 537.90,53.11 538.15,51.72 538.40,52.36 538.65,50.63 538.90,54.54 539.15,51.41 539.40,54.00 539.65,54.22 539.90,50.86 540.15,50.77 540.40,50.69 540.65,52.35 540.90,52.17 541.15,55.35 541.40,56.81 541.65,55.43 541.90,55.11 542.15,55.95 542.40,55.12 542.65,54.56 542.90,53.69 543.15,55.18 543.40,54.90 543.65,51.92 543.90,52.22 544.15,51.67 544.40,54.25 544.65,51.49 544.90,51.23 545.15,49.74 545.40,51.37 545.65,51.97 545.90,50.87 546.15,53.46 546.40,52.62 546.65,53.95 546.90,52.08 547.15,52.75 547.40,55.55 547.65,52.71 547.90,49.65 548.15,51.71 548.40,52.44 548.65,50.99 548.90,48.91 549.15,49.75 549.40,51.33 549.65,51.73 549.90,48.74 550.15,48.96 550.40,47.11 550.65,44.97 550.90,45.69 551.15,48.16 551.40,46.33 551.65,45.64 551.90,46.61 552.15,46.73 552.40,47.32 552.65,47.54 552.90,43.38 553.15,48.45 553.40,47.58 553.65,46.13 553.90,46.13 554.15,45.32 554.40,43.88 554.65,43.60 554.90,43.79 555.15,44.17 555.40,45.03 555.65,44.93 555.90,43.09 556.15,45.18 556.40,44.29 556.65,47.12 556.90,44.53 557.15,45.08 557.40,45.73 557.65,45.53 557.90,43.48 558.15,43.05 558.40,40.83 558.65,42.51 558.90,42.77 559.15,43.24 559.40,42.73 559.65,43.47 559.90,43.58 560.15,44.10 560.40,43.00 560.65,43.93 560.90,42.53 561.15,44.13 561.40,44.28 561.65,41.82 561.90,41.06 562.15,41.16 562.40,40.50 562.65,43.78 562.90,41.52 563.15,40.63 563.40,40.40 563.65,43.70 563.90,42.04 564.15,42.68 564.40,43.96 564.65,40.68 564.90,43.04 565.15,47.13 565.40,42.57 565.65,42.65 565.90,44.74 566.15,48.07 566.40,46.36 566.65,45.93 566.90,47.10 567.15,46.73 567.40,46.65 567.65,47.62 567.90,45.30 568.15,45.58 568.40,45.93 568.65,44.41 568.90,45.62 569.15,45.18 569.40,43.05 569.65,44.04 569.90,43.48 570.15,43.77 570.40,44.23 570.65,45.39 570.90,44.69 571.15,45.68 571.40,48.96 571.65,44.98 571.90,43.55 572.15,42.79 572.40,42.39 572.65,39.25 572.90,41.42 573.15,41.55 573.40,40.24 573.65,41.12 573.90,39.95 574.15,35.64 574.40,38.54 574.65,38.94 574.90,39.09 575.15,40.24 575.40,41.41 575.65,39.61 575.90,41.31 576.15,39.51 576.40,38.03 576.65,39.41 576.90,37.29 577.15,38.90 577.40,37.48 577.65,38.89 577.90,37.57 578.15,36.44 578.40,35.27 578.65,39.26 578.90,40.63 579.15,40.94 579.40,41.92 579.65,41.86 579.90,42.66 580.15,38.92 580.40,39.96 580.65,39.70 580.90,36.64 581.15,33.91 581.40,35.05 581.65,31.59 581.90,32.80 582.15,31.88 582.40,32.54 582.65,31.34 582.90,33.41 583.15,32.00 583.40,32.35 583.65,33.41 583.90,32.36 584.15,32.08 584.40,34.38 584.65,30.26 584.90,31.34 585.15,29.94 585.40,31.28 585.65,31.03 585.90,34.35 586.15,32.26 586.40,33.03 586.65,31.50 586.90,34.78 587.15,33.77 587.40,30.60 587.65,33.15 587.90,32.55 588.15,35.37 588.40,34.13 588.65,36.44 588.90,37.44 589.15,36.74 589.40,34.87 589.65,36.34 589.90,35.48 590.15,32.93 590.40,36.08 590.65,35.55 590.90,34.37 591.15,36.28 591.40,36.36 591.65,34.21 591.90,35.96 592.15,35.22 592.40,33.81 592.65,34.40 592.90,36.31 593.15,37.97 593.40,38.57 593.65,40.99 593.90,39.47 594.15,41.48 594.40,42.07 594.65,42.68 594.90,39.44 595.15,41.95 595.40,40.39 595.65,38.68 595.90,41.22 596.15,41.84 596.40,41.99 596.65,40.67 596.90,41.07 597.15,40.25 597.40,41.08 597.65,40.52 597.90,41.87 598.15,43.41 598.40,43.56 598.65,41.85 598.90,43.29 599.15,43.41 599.40,43.48 599.65,43.91 599.90,43.96 600.15,45.72 600.40,42.56 600.65,44.71 600.90,46.46 601.15,48.36 601.40,48.09 601.65,51.23 601.90,48.53 602.15,51.26 602.40,47.72 602.65,46.63 602.90,48.22 603.15,49.58 603.40,50.21 603.65,49.60 603.90,49.16 604.15,50.01 604.40,50.97 604.65,47.88 604.90,48.07 605.15,47.49 605.40,48.32 605.65,51.82 605.90,49.46 606.15,50.28 606.40,49.98 606.65,51.05 606.90,49.82 607.15,51.49 607.40,50.72 607.65,49.15 607.90,49.05 608.15,50.70 608.40,52.35 608.65,51.79 608.90,52.64 609.15,51.50 609.40,51.53 609.65,55.13 609.90,55.63 610.15,54.59 610.40,55.18 610.65,52.66 610.90,52.25 611.15,52.59 611.40,51.29 611.65,54.04 611.90,55.47 612.15,53.24 612.40,53.02 612.65,53.56 612.90,57.15 613.15,55.43 613.40,56.58 613.65,57.15 613.90,57.42 614.15,56.34 614.40,58.43 614.65,58.57 614.90,59.57 615.15,59.57 615.40,58.58 615.65,61.33 615.90,62.77 616.15,62.20 616.40,63.66 616.65,63.67 616.90,64.50 617.15,63.98 617.40,63.64 617.65,61.35 617.90,62.60 618.15,64.22 618.40,60.92 618.65,60.79 618.90,60.43 619.15,59.33 619.40,58.86 619.65,58.37 619.90,56.59 620.15,60.51 620.40,59.53 620.65,59.85 620.90,59.05 621.15,57.19 621.40,58.16 621.65,60.65 621.90,56.47 622.15,57.96 622.40,57.64 622.65,57.54 622.90,57.70 623.15,55.71 623.40,54.33 623.65,53.78 623.90,55.48 624.15,54.42 624.40,54.59 624.65,54.01 624.90,52.51 625.15,50.59 625.40,50.54 625.65,55.47 625.90,52.07 626.15,50.99 626.40,50.91 626.65,53.12 626.90,50.72 627.15,51.07 627.40,48.81 627.65,48.37 627.90,49.47 628.15,48.64 628.40,51.40 628.65,50.16 628.90,50.86 629.15,49.74 629.40,48.80 629.65,47.03 629.90,48.76 630.15,47.92 630.40,48.54 630.65,47.71 630.90,50.87 631.15,48.85 631.40,50.41 631.65,48.27 631.90,48.95 632.15,48.78 632.40,48.33 632.65,41.57 632.90,47.15 633.15,43.05 633.40,41.29 633.65,44.12 633.90,43.32 634.15,42.32 634.40,40.08 634.65,40.04 634.90,38.38 635.15,38.07 635.40,39.50 635.65,37.50 635.90,41.07 636.15,39.61 636.40,40.99 636.65,38.79 636.90,39.81 637.15,39.75 637.40,36.94 637.65,38.45 637.90,39.20 638.15,37.19 638.40,38.72 638.65,36.96 638.90,36.55 639.15,37.49 639.40,38.61 639.65,40.39 639.90,43.76 640.15,41.70 640.40,41.77 640.65,43.34 640.90,44.71 641.15,45.05 641.40,44.49 641.65,46.34 641.90,46.21 642.15,46.10 642.40,46.57 642.65,49.01 642.90,46.64 643.15,47.74 643.40,47.46 643.65,48.06 643.90,48.13 644.15,50.15 644.40,49.38 644.65,47.22 644.90,45.61 645.15,46.52 645.40,47.46 645.65,47.27 645.90,50.02 646.15,46.88 646.40,47.53 646.65,48.63 646.90,45.39 647.15,46.71 647.40,49.51 647.65,46.81 647.90,46.32 648.15,45.02 648.40,44.68 648.65,45.01 648.90,46.36 649.15,44.58 649.40,45.20 649.65,46.01 649.90,46.79 650.15,47.27 650.40,45.61 650.65,45.81 650.90,46.61 651.15,48.96 651.40,45.37 651.65,47.97 651.90,49.82 652.15,49.17 652.40,49.83 652.65,51.65 652.90,52.67 653.15,51.19 653.40,52.19 653.65,50.53 653.90,50.52 654.15,51.59 654.40,47.53 654.65,48.17 654.90,44.42 655.15,45.20 655.40,42.43 655.65,43.21 655.90,43.50 656.15,44.04 656.40,44.58 656.65,45.23 656.90,45.60 657.15,45.80 657.40,46.06 657.65,45.44 657.90,42.15 658.15,42.94 658.40,42.88 658.65,42.57 658.90,44.77 659.15,43.56 659.40,45.69 659.65,45.91 659.90,45.71 660.15,45.92 660.40,42.87 660.65,45.54 660.90,45.10 661.15,43.84 661.40,42.10 661.65,44.07 661.90,45.24 662.15,43.78 662.40,45.61 662.65,47.15 662.90,47.77 663.15,46.65 663.40,46.38 663.65,45.37 663.90,45.76 664.15,48.18 664.40,46.97"/>
<polyline fill="none" stroke="#ff0000" stroke-width="1.1" stroke-linejoin="round" points="471.70,127.61 471.95,126.93 472.20,128.09 472.45,127.07 472.70,127.11 472.95,127.02 473.20,127.33 473.45,129.06 473.70,127.01 473.95,127.39 474.20,126.42 474.45,127.88 474.70,127.05 474.95,129.70 475.20,126.56 475.45,127.15 475.70,125.75 475.95,125.80 476.20,122.99 476.45,125.20 476.70,124.94 476.95,124.66 477.20,122.63 477.45,124.06 477.70,122.88 477.95,124.29 478.20,124.27 478.45,125.54 478.70,123.89 478.95,122.73 479.20,124.96 479.45,125.59 479.70,124.74 479.95,124.65 480.20,125.44 480.45,124.44 480.70,121.69 480.95,121.57 481.20,120.89 481.45,124.56 481.70,123.51 481.95,125.59 482.20,126.22 482.45,123.85 482.70,122.76 482.95,125.41 483.20,124.90 483.45,124.29 483.70,122.41 483.95,122.64 484.20,126.80 484.45,128.20 484.70,126.73 484.95,126.21 485.20,125.98 485.45,127.45 485.70,126.63 485.95,124.42 486.20,124.62 486.45,123.27 486.70,124.63 486.95,123.26 487.20,123.09 487.45,121.74 487.70,123.60 487.95,124.36 488.20,122.69 488.45,122.29 488.70,123.09 488.95,123.08 489.20,121.50 489.45,123.31 489.70,121.13 489.95,126.63 490.20,123.88 490.45,123.82 490.70,125.64 490.95,125.20 491.20,122.55 491.45,121.53 491.70,122.25 491.95,124.19 492.20,126.03 492.45,125.98 492.70,127.01 492.95,128.81 493.20,128.69 493.45,129.44 493.70,125.51 493.95,126.61 494.20,128.88 494.45,127.01 494.70,128.82 494.95,126.63 495.20,126.78 495.45,127.26 495.70,128.57 495.95,130.08 496.20,130.81 496.45,130.17 496.70,131.73 496.95,131.92 497.20,131.92 497.45,134.88 497.70,133.63 497.95,133.35 498.20,131.80 498.45,133.34 498.70,135.67 498.95,133.73 499.20,133.30 499.45,133.26 499.70,131.17 499.95,132.11 500.20,131.50 500.45,134.65 500.70,137.52 500.95,136.28 501.20,137.40 501.45,137.41 501.70,137.18 501.95,135.69 502.20,135.88 502.45,134.24 502.70,131.94 502.95,132.57 503.20,134.37 503.45,136.18 503.70,134.09 503.95,134.30 504.20,134.23 504.45,138.74 504.70,140.05 504.95,138.47 505.20,140.84 505.45,140.55 505.70,140.30 505.95,142.52 506.20,140.43 506.45,139.13 506.70,139.34 506.95,138.81 507.20,133.92 507.45,134.04 507.70,134.28 507.95,133.49 508.20,134.19 508.45,132.13 508.70,133.80 508.95,133.39 509.20,133.48 509.45,132.89 509.70,130.91 509.95,130.09 510.20,131.18 510.45,129.56 510.70,130.67 510.95,129.68 511.20,127.86 511.45,130.32 511.70,126.86 511.95,126.58 512.20,129.59 512.45,125.15 512.70,128.46 512.95,122.18 513.20,129.63 513.45,126.03 513.70,126.89 513.95,124.28 514.20,127.20 514.45,125.96 514.70,125.03 514.95,127.03 515.20,125.10 515.45,124.29 515.70,121.48 515.95,123.78 516.20,120.49 516.45,119.94 516.70,121.62 516.95,122.76 517.20,122.29 517.45,121.11 517.70,121.48 517.95,120.74 518.20,120.32 518.45,120.98 518.70,122.72 518.95,122.74 519.20,122.45 519.45,122.21 519.70,120.41 519.95,120.74 520.20,122.61 520.45,123.31 520.70,120.65 520.95,121.04 521.20,119.14 521.45,122.18 521.70,118.40 521.95,118.85 522.20,120.42 522.45,122.93 522.70,119.64 522.95,120.01 523.20,120.54 523.45,119.40 523.70,120.04 523.95,121.95 524.20,122.48 524.45,121.19 524.70,120.49 524.95,119.78 525.20,119.88 525.45,120.29 525.70,117.38 525.95,117.58 526.20,117.85 526.45,117.83 526.70,118.31 526.95,117.24 527.20,114.64 527.45,115.09 527.70,116.59 527.95,116.89 528.20,113.28 528.45,116.75 528.70,117.98 528.95,115.94 529.20,112.86 529.45,114.92 529.70,114.45 529.95,114.28 530.20,112.70 530.45,115.52 530.70,116.40 530.95,114.99 531.20,115.78 531.45,115.77 531.70,117.22 531.95,113.60 532.20,109.23 532.45,107.92 532.70,108.60 532.95,112.51 533.20,112.96 533.45,114.98 533.70,114.22 533.95,116.67 534.20,113.88 534.45,114.89 534.70,115.64 534.95,117.47 535.20,119.12 535.45,118.30 535.70,117.10 535.95,115.80 536.20,117.72 536.45,117.35 536.70,119.00 536.95,118.88 537.20,117.62 537.45,116.85 537.70,117.55 537.95,114.97 538.20,115.26 538.45,118.69 538.70,116.81 538.95,116.09 539.20,115.01 539.45,115.03 539.70,118.28 539.95,118.36 540.20,119.90 540.45,118.41 540.70,119.64 540.95,121.71 541.20,119.34 541.45,119.67 541.70,118.41 541.95,122.43 542.20,121.90 542.45,120.84 542.70,120.46 542.95,119.48 543.20,121.77 543.45,122.02 543.70,121.10 543.95,122.83 544.20,122.14 544.45,125.39 544.70,125.80 544.95,125.39 545.20,125.52 545.45,123.72 545.70,123.13 545.95,124.08 546.20,124.45 546.45,124.62 546.70,125.99 546.95,126.20 547.20,126.32 547.45,126.60 547.70,126.89 547.95,126.37 548.20,126.48 548.45,124.99 548.70,126.44 548.95,128.45 549.20,124.38 549.45,123.18 549.70,127.13 549.95,127.87 550.20,126.36 550.45,126.27 550.70,126.46 550.95,127.25 551.20,127.31 551.45,124.54 551.70,123.11 551.95,125.24 552.20,124.04 552.45,122.08 552.70,122.59 552.95,122.59 553.20,121.70 553.45,120.41 553.70,124.16 553.95,124.57 554.20,125.93 554.45,125.97 554.70,127.54 554.95,126.87 555.20,129.48 555.45,126.96 555.70,128.89 555.95,130.24 556.20,126.13 556.45,124.98 556.70,120.03 556.95,120.45 557.20,121.65 557.45,122.59 557.70,120.22 557.95,125.50 558.20,124.71 558.45,125.34 558.70,129.51 558.95,128.01 559.20,131.49 559.45,129.18 559.70,131.37 559.95,126.86 560.20,126.92 560.45,126.57 560.70,125.41 560.95,125.97 561.20,127.20 561.45,127.32 561.70,127.97 561.95,125.74 562.20,124.08 562.45,126.93 562.70,126.33 562.95,124.21 563.20,124.06 563.45,120.62 563.70,120.35 563.95,122.34 564.20,120.98 564.45,120.68 564.70,125.19 564.95,124.30 565.20,124.30 565.45,123.12 565.70,123.32 565.95,126.24 566.20,126.24 566.45,125.34 566.70,129.80 566.95,129.40 567.20,128.34 567.45,126.81 567.70,127.88 567.95,124.14 568.20,125.73 568.45,125.48 568.70,125.94 568.95,125.79 569.20,126.74 569.45,124.17 569.70,129.43 569.95,127.16 570.20,128.16 570.45,125.66 570.70,124.66 570.95,125.41 571.20,126.63 571.45,130.83 571.70,131.45 571.95,132.31 572.20,132.31 572.45,131.39 572.70,130.39 572.95,131.23 573.20,130.58 573.45,128.13 573.70,127.01 573.95,129.34 574.20,127.29 574.45,124.04 574.70,123.47 574.95,125.31 575.20,127.13 575.45,127.28 575.70,124.13 575.95,124.39 576.20,126.54 576.45,125.56 576.70,124.83 576.95,126.13 577.20,127.48 577.45,127.87 577.70,126.85 577.95,124.88 578.20,125.62 578.45,124.82 578.70,123.55 578.95,125.36 579.20,126.20 579.45,122.12 579.70,122.94 579.95,122.70 580.20,120.63 580.45,119.93 580.70,121.48 580.95,121.18 581.20,121.66 581.45,119.34 581.70,121.34 581.95,119.67 582.20,119.73 582.45,118.84 582.70,119.57 582.95,119.40 583.20,116.67 583.45,117.11 583.70,121.21 583.95,120.63 584.20,118.94 584.45,120.48 584.70,118.54 584.95,116.28 585.20,117.94 585.45,117.82 585.70,118.77 585.95,117.63 586.20,116.01 586.45,117.31 586.70,116.63 586.95,114.42 587.20,115.37 587.45,115.79 587.70,116.58 587.95,117.33 588.20,118.51 588.45,116.99 588.70,114.81 588.95,112.34 589.20,114.21 589.45,113.66 589.70,113.65 589.95,113.26 590.20,114.26 590.45,111.87 590.70,113.14 590.95,113.94 591.20,115.21 591.45,115.04 591.70,116.42 591.95,115.53 592.20,115.55 592.45,117.04 592.70,117.05 592.95,119.86 593.20,113.61 593.45,114.43 593.70,113.71 593.95,116.91 594.20,114.27 594.45,115.71 594.70,114.36 594.95,115.75 595.20,114.53 595.45,113.05 595.70,115.17 595.95,114.48 596.20,113.04 596.45,111.38 596.70,110.11 596.95,109.55 597.20,109.87 597.45,111.21 597.70,113.17 597.95,114.21 598.20,111.93 598.45,112.32 598.70,113.82 598.95,114.11 599.20,112.30 599.45,112.97 599.70,113.45 599.95,114.01 600.20,113.38 600.45,114.57 600.70,115.32 600.95,115.79 601.20,115.18 601.45,113.23 601.70,114.65 601.95,117.99 602.20,116.35 602.45,113.57 602.70,117.48 602.95,118.94 603.20,116.68 603.45,118.65 603.70,118.42 603.95,118.70 604.20,116.24 604.45,115.76 604.70,115.86 604.95,117.10 605.20,116.98 605.45,118.71 605.70,116.70 605.95,116.18 606.20,115.97 606.45,119.54 606.70,117.30 606.95,119.30 607.20,119.54 607.45,121.31 607.70,117.01 607.95,117.63 608.20,117.18 608.45,116.59 608.70,118.70 608.95,117.24 609.20,115.81 609.45,116.68 609.70,116.24 609.95,117.23 610.20,117.26 610.45,119.01 610.70,116.83 610.95,118.68 611.20,119.39 611.45,119.67 611.70,115.21 611.95,118.05 612.20,117.30 612.45,118.65 612.70,118.33 612.95,120.69 613.20,118.35 613.45,113.89 613.70,117.61 613.95,119.57 614.20,122.40 614.45,121.98 614.70,122.73 614.95,124.98 615.20,123.85 615.45,126.24 615.70,127.39 615.95,124.43 616.20,124.34 616.45,121.84 616.70,121.19 616.95,124.26 617.20,121.35 617.45,123.83 617.70,119.43 617.95,122.55 618.20,121.70 618.45,124.67 618.70,123.58 618.95,123.76 619.20,125.84 619.45,125.53 619.70,123.85 619.95,124.70 620.20,123.39 620.45,123.56 620.70,123.37 620.95,126.69 621.20,124.28 621.45,124.89 621.70,126.83 621.95,129.07 622.20,124.72 622.45,125.03 622.70,129.09 622.95,126.85 623.20,127.98 623.45,130.12 623.70,128.03 623.95,126.56 624.20,129.12 624.45,131.64 624.70,130.86 624.95,130.39 625.20,129.23 625.45,130.28 625.70,129.28 625.95,129.17 626.20,128.06 626.45,126.78 626.70,130.24 626.95,129.63 627.20,127.23 627.45,129.04 627.70,129.63 627.95,129.25 628.20,132.87 628.45,127.64 628.70,127.05 628.95,128.82 629.20,127.87 629.45,129.11 629.70,131.74 629.95,129.84 630.20,128.09 630.45,131.52 630.70,129.34 630.95,130.14 631.20,129.78 631.45,129.79 631.70,126.76 631.95,125.24 632.20,125.72 632.45,126.35 632.70,129.31 632.95,128.11 633.20,129.54 633.45,127.19 633.70,131.05 633.95,131.47 634.20,129.73 634.45,128.85 634.70,128.54 634.95,128.03 635.20,129.35 635.45,127.41 635.70,129.04 635.95,125.16 636.20,125.45 636.45,126.45 636.70,126.56 636.95,126.51 637.20,123.30 637.45,121.17 637.70,121.21 637.95,122.34 638.20,120.87 638.45,121.05 638.70,119.58 638.95,124.39 639.20,122.15 639.45,123.09 639.70,126.20 639.95,125.97 640.20,124.99 640.45,123.78 640.70,126.52 640.95,127.33 641.20,128.05 641.45,126.39 641.70,126.56 641.95,126.86 642.20,125.56 642.45,124.71 642.70,123.00 642.95,124.41 643.20,126.02 643.45,125.59 643.70,127.62 643.95,126.12 644.20,126.43 644.45,129.81 644.70,128.36 644.95,125.55 645.20,127.28 645.45,126.58 645.70,126.77 645.95,127.76 646.20,128.24 646.45,127.58 646.70,127.50 646.95,126.39 647.20,122.10 647.45,124.52 647.70,124.25 647.95,124.42 648.20,124.69 648.45,123.92 648.70,122.32 648.95,119.60 649.20,120.94 649.45,123.15 649.70,121.15 649.95,120.51 650.20,120.27 650.45,121.97 650.70,122.18 650.95,123.69 651.20,123.86 651.45,120.43 651.70,121.48 651.95,122.55 652.20,123.77 652.45,123.37 652.70,123.37 652.95,121.80 653.20,123.61 653.45,123.41 653.70,120.29 653.95,123.95 654.20,123.26 654.45,122.48 654.70,124.79 654.95,125.05 655.20,123.73 655.45,123.14 655.70,126.32 655.95,126.21 656.20,126.39 656.45,126.87 656.70,124.90 656.95,124.46 657.20,124.66 657.45,125.35 657.70,126.10 657.95,124.98 658.20,125.12 658.45,123.43 658.70,124.13 658.95,121.46 659.20,124.57"/>
<polyline fill="none" stroke="#0000ff" stroke-width="1.1" stroke-linejoin="round" points="471.70,173.43 471.95,172.16 472.20,170.36 472.45,170.29 472.70,172.78 472.95,170.47 473.20,169.86 473.45,169.81 473.70,170.15 473.95,172.83 474.20,173.82 474.45,173.23 474.70,172.90 474.95,173.75 475.20,172.79 475.45,173.73 475.70,170.33 475.95,172.91 476.20,170.48 476.45,169.92 476.70,172.88 476.95,173.51 477.20,173.99 477.45,175.69 477.70,177.42 477.95,175.00 478.20,175.98 478.45,173.88 478.70,174.35 478.95,172.64 479.20,173.49 479.45,172.49 479.70,169.93 479.95,169.95 480.20,170.51 480.45,172.49 480.70,168.40 480.95,169.42 481.20,169.26 481.45,168.23 481.70,167.99 481.95,168.93 482.20,168.50 482.45,166.65 482.70,170.87 482.95,166.36 483.20,167.35 483.45,164.33 483.70,164.50 483.95,164.49 484.20,167.10 484.45,166.95 484.70,165.86 484.95,165.59 485.20,164.25 485.45,164.29 485.70,165.25 485.95,165.94 486.20,165.66 486.45,168.25 486.70,168.23 486.95,167.83 487.20,167.03 487.45,169.26 487.70,168.96 487.95,167.04 488.20,169.45 488.45,168.72 488.70,169.29 488.95,170.20 489.20,169.03 489.45,169.03 489.70,167.40 489.95,170.31 490.20,170.71 490.45,170.61 490.70,171.60 490.95,171.96 491.20,171.79 491.45,172.43 491.70,172.17 491.95,173.87 492.20,175.80 492.45,177.88 492.70,180.35 492.95,178.23 493.20,181.53 493.45,179.91 493.70,178.36 493.95,179.00 494.20,180.52 494.45,182.33 494.70,179.57 494.95,180.76 495.20,181.32 495.45,182.61 495.70,181.04 495.95,179.80 496.20,179.59 496.45,180.29 496.70,179.92 496.95,177.70 497.20,177.81 497.45,179.67 497.70,179.56 497.95,179.84 498.20,180.56 498.45,181.66 498.70,182.30 498.95,183.56 499.20,183.16 499.45,187.95 499.70,188.53 499.95,188.47 500.20,185.74 500.45,186.59 500.70,186.01 500.95,185.17 501.20,186.81 501.45,188.73 501.70,186.27 501.95,188.04 502.20,187.07 502.45,187.14 502.70,186.97 502.95,185.90 503.20,186.68 503.45,185.27 503.70,185.04 503.95,183.74 504.20,184.56 504.45,183.79 504.70,184.53 504.95,181.97 505.20,181.35 505.45,182.41 505.70,182.22 505.95,181.56 506.20,177.92 506.45,181.60 506.70,182.98 506.95,183.87 507.20,183.28 507.45,181.76 507.70,179.37 507.95,180.30 508.20,178.86 508.45,174.57 508.70,176.06 508.95,176.06 509.20,178.16 509.45,178.09 509.70,176.90 509.95,174.90 510.20,178.52 510.45,178.37 510.70,179.19 510.95,175.85 511.20,178.40 511.45,179.09 511.70,177.80 511.95,177.92 512.20,179.05 512.45,180.58 512.70,180.64 512.95,179.24 513.20,177.69 513.45,178.98 513.70,180.30 513.95,179.46 514.20,178.79 514.45,176.81 514.70,178.01 514.95,175.37 515.20,175.00 515.45,174.03 515.70,175.76 515.95,173.78 516.20,172.67 516.45,172.42 516.70,175.27 516.95,175.70 517.20,175.98 517.45,172.84 517.70,171.70 517.95,170.73 518.20,170.96 518.45,168.28 518.70,167.10 518.95,167.94 519.20,170.42 519.45,166.62 519.70,170.02 519.95,168.94 520.20,167.97 520.45,167.97 520.70,166.40 520.95,167.99 521.20,165.96 521.45,164.46 521.70,160.30 521.95,165.51 522.20,165.05 522.45,167.95 522.70,170.37 522.95,173.22 523.20,171.57 523.45,172.12 523.70,171.57 523.95,170.53 524.20,173.87 524.45,173.09 524.70,170.31 524.95,168.66 525.20,170.42 525.45,168.93 525.70,169.19 525.95,170.92 526.20,169.40 526.45,169.80 526.70,168.84 526.95,168.27 527.20,166.28 527.45,167.56 527.70,167.58 527.95,165.35 528.20,165.19 528.45,167.42 528.70,168.74 528.95,170.10 529.20,166.95 529.45,164.97 529.70,166.32 529.95,167.51 530.20,170.10 530.45,170.38 530.70,169.71 530.95,172.43 531.20,169.87 531.45,170.61 531.70,170.43 531.95,171.03 532.20,168.09 532.45,170.12 532.70,169.22 532.95,169.44 533.20,169.16 533.45,165.49 533.70,165.65 533.95,164.94 534.20,164.64 534.45,165.86 534.70,164.95 534.95,165.64 535.20,166.81 535.45,165.98 535.70,164.46 535.95,162.46 536.20,163.92 536.45,163.35 536.70,164.20 536.95,165.26 537.20,164.59 537.45,165.49 537.70,165.43 537.95,168.13 538.20,167.11 538.45,166.74 538.70,168.54 538.95,164.22 539.20,168.44 539.45,164.74 539.70,168.08 539.95,169.18 540.20,170.98 540.45,171.35 540.70,166.87 540.95,166.84 541.20,169.10 541.45,170.03 541.70,171.13 541.95,169.65 542.20,168.52 542.45,170.66 542.70,170.81 542.95,175.35 543.20,173.22 543.45,173.80 543.70,173.46 543.95,172.14 544.20,172.22 544.45,169.32 544.70,169.68 544.95,169.67 545.20,169.81 545.45,171.06 545.70,170.91 545.95,170.74 546.20,171.66 546.45,172.14 546.70,174.50 546.95,175.48 547.20,175.61 547.45,172.63 547.70,174.05 547.95,172.49 548.20,176.26 548.45,176.32 548.70,174.01 548.95,176.31 549.20,173.97 549.45,174.03 549.70,176.13 549.95,173.93 550.20,170.25 550.45,172.64 550.70,172.49 550.95,171.65 551.20,175.86 551.45,174.40 551.70,175.79 551.95,175.63 552.20,173.74 552.45,172.04 552.70,174.37 552.95,171.30 553.20,172.41 553.45,173.32 553.70,170.63 553.95,167.60 554.20,170.44 554.45,169.48 554.70,169.82 554.95,170.03 555.20,169.04 555.45,169.24 555.70,170.96 555.95,168.79 556.20,169.91 556.45,172.12 556.70,168.59 556.95,166.13 557.20,164.21 557.45,168.97 557.70,167.24 557.95,170.08 558.20,168.69 558.45,169.67 558.70,166.21 558.95,164.59 559.20,166.43 559.45,167.72 559.70,166.27 559.95,169.29 560.20,170.04 560.45,167.67 560.70,169.18 560.95,169.02 561.20,170.98 561.45,173.89 561.70,172.85 561.95,172.46 562.20,171.72 562.45,172.76 562.70,173.33 562.95,174.39 563.20,175.42 563.45,175.95 563.70,173.46 563.95,176.65 564.20,175.47 564.45,176.94 564.70,174.14 564.95,174.73 565.20,177.01 565.45,178.41 565.70,177.97 565.95,175.97 566.20,173.14 566.45,177.76 566.70,179.46 566.95,179.54 567.20,179.77 567.45,178.25 567.70,176.30 567.95,177.72 568.20,177.47 568.45,177.82 568.70,175.40 568.95,175.00 569.20,177.71 569.45,176.70 569.70,177.27 569.95,176.97 570.20,180.95 570.45,179.98 570.70,183.87 570.95,184.95 571.20,183.99 571.45,186.62 571.70,183.66 571.95,185.17 572.20,187.16 572.45,187.69 572.70,187.77 572.95,184.93 573.20,187.48 573.45,190.65 573.70,189.99 573.95,189.81 574.20,189.16 574.45,188.09 574.70,188.74 574.95,191.46 575.20,191.11 575.45,192.43 575.70,191.66 575.95,189.88 576.20,190.29 576.45,189.86 576.70,186.61 576.95,186.99 577.20,190.16 577.45,188.37 577.70,187.47 577.95,188.93 578.20,186.17 578.45,189.72 578.70,188.37 578.95,188.54 579.20,185.23 579.45,185.56 579.70,186.71 579.95,186.03 580.20,184.57 580.45,185.24 580.70,185.95 580.95,185.51 581.20,183.90 581.45,184.23 581.70,183.64 581.95,184.84 582.20,181.13 582.45,180.71 582.70,180.11 582.95,179.01 583.20,181.63 583.45,182.79 583.70,182.30 583.95,180.01 584.20,183.00 584.45,183.86 584.70,182.90 584.95,185.93 585.20,186.12 585.45,183.34 585.70,183.27 585.95,184.01 586.20,185.27 586.45,183.93 586.70,181.14 586.95,182.85 587.20,182.33 587.45,184.23 587.70,184.67 587.95,184.32 588.20,182.19 588.45,185.85 588.70,183.11 588.95,185.37 589.20,182.00 589.45,182.37 589.70,185.02 589.95,183.71 590.20,181.87 590.45,182.16 590.70,181.02 590.95,183.90 591.20,186.57 591.45,185.04 591.70,182.60 591.95,184.28 592.20,185.33 592.45,188.66 592.70,185.95 592.95,185.34 593.20,188.74 593.45,188.95 593.70,188.62 593.95,185.32 594.20,187.99 594.45,186.55 594.70,186.10 594.95,187.87 595.20,188.32 595.45,185.53 595.70,189.33 595.95,188.11 596.20,189.40 596.45,191.07 596.70,190.95 596.95,192.94 597.20,190.26 597.45,191.17 597.70,191.59 597.95,192.82 598.20,192.10 598.45,189.57 598.70,188.95 598.95,188.84 599.20,184.99 599.45,184.98 599.70,183.83 599.95,185.98 600.20,186.77 600.45,184.87 600.70,185.17 600.95,185.55 601.20,185.22 601.45,182.32 601.70,183.43 601.95,184.60 602.20,178.63 602.45,179.80 602.70,179.94 602.95,177.82 603.20,175.88 603.45,175.87 603.70,175.99 603.95,176.99 604.20,175.09 604.45,175.51 604.70,175.81 604.95,176.52 605.20,175.63 605.45,177.68 605.70,175.49 605.95,172.12 606.20,170.95 606.45,171.29 606.70,170.22 606.95,168.20 607.20,167.77 607.45,167.81 607.70,166.10 607.95,163.56 608.20,162.01 608.45,166.52 608.70,165.62 608.95,168.24 609.20,168.29 609.45,171.03 609.70,171.56 609.95,172.74 610.20,171.36 610.45,169.58 610.70,171.80 610.95,171.59 611.20,171.58 611.45,171.15 611.70,172.16 611.95,171.52 612.20,170.61 612.45,173.34 612.70,172.41 612.95,172.51 613.20,174.10 613.45,172.56 613.70,172.52 613.95,172.33 614.20,172.10 614.45,174.94 614.70,176.22 614.95,177.04 615.20,176.52 615.45,176.74 615.70,177.32 615.95,176.54 616.20,175.97 616.45,177.19 616.70,177.48 616.95,175.57 617.20,176.58 617.45,176.36 617.70,179.20 617.95,177.24 618.20,178.43 618.45,177.44 618.70,178.25 618.95,176.99 619.20,176.66 619.45,176.95 619.70,178.30 619.95,178.45 620.20,177.71 620.45,178.07 620.70,179.50 620.95,180.20 621.20,177.80 621.45,176.30 621.70,180.94 621.95,179.17 622.20,179.10 622.45,179.87 622.70,184.81 622.95,183.58 623.20,181.16 623.45,183.66 623.70,184.73 623.95,185.25 624.20,186.28 624.45,183.12 624.70,184.62 624.95,184.05 625.20,185.03 625.45,184.69 625.70,181.56 625.95,179.60 626.20,181.79 626.45,179.55 626.70,178.63 626.95,178.33 627.20,178.72 627.45,177.19 627.70,178.27 627.95,176.69 628.20,179.76 628.45,178.48 628.70,178.66 628.95,180.60 629.20,178.94 629.45,180.47 629.70,178.86 629.95,176.81 630.20,177.46 630.45,174.27 630.70,175.24 630.95,172.23 631.20,175.28 631.45,173.42 631.70,174.80 631.95,170.37 632.20,171.32 632.45,171.65 632.70,171.57 632.95,173.72 633.20,174.06 633.45,175.79 633.70,176.07 633.95,177.63 634.20,176.17 634.45,177.42 634.70,176.29 634.95,175.94 635.20,177.94 635.45,175.09 635.70,175.61 635.95,173.96 636.20,175.14 636.45,175.33 636.70,176.06 636.95,173.82 637.20,175.46 637.45,175.46 637.70,172.90 637.95,173.22 638.20,172.96 638.45,170.96 638.70,171.95 638.95,173.89 639.20,172.58 639.45,174.99 639.70,174.37 639.95,174.08 640.20,170.82 640.45,173.47 640.70,174.44 640.95,172.97 641.20,176.11 641.45,175.72 641.70,175.79 641.95,178.37 642.20,176.64 642.45,176.60 642.70,174.56 642.95,176.16 643.20,174.62 643.45,174.72 643.70,173.09 643.95,174.01 644.20,173.22 644.45,173.73 644.70,176.28 644.95,172.62 645.20,174.78 645.45,175.67 645.70,173.15 645.95,177.86 646.20,180.38 646.45,178.30 646.70,178.15 646.95,178.77 647.20,180.94 647.45,177.87 647.70,176.70 647.95,175.36 648.20,177.50 648.45,175.26 648.70,177.51 648.95,176.72 649.20,176.63 649.45,177.33 649.70,176.19 649.95,177.52 650.20,180.18 650.45,182.67 650.70,182.42 650.95,180.96 651.20,183.16 651.45,183.73 651.70,186.07 651.95,184.79 652.20,182.53 652.45,183.24 652.70,184.29 652.95,182.05 653.20,181.11 653.45,180.37 653.70,177.34 653.95,176.70 654.20,177.07 654.45,180.23 654.70,178.47 654.95,177.46 655.20,177.26 655.45,178.55 655.70,177.33 655.95,176.28 656.20,178.11 656.45,178.64 656.70,174.78 656.95,174.22 657.20,172.22 657.45,174.43 657.70,176.39 657.95,174.77 658.20,175.95 658.45,176.74 658.70,177.59 658.95,180.19 659.20,182.53"/>
<polyline fill="none" stroke="#880000" stroke-width="1.1" stroke-linejoin="round" points="471.70,242.17 471.95,238.90 472.20,237.59 472.45,237.55 472.70,235.94 472.95,237.10 473.20,239.71 473.45,239.52 473.70,236.90 473.95,238.79 474.20,237.91 474.45,236.12 474.70,238.50 474.95,239.21 475.20,241.27 475.45,238.79 475.70,241.24 475.95,240.94 476.20,241.77 476.45,240.36 476.70,241.40 476.95,242.48 477.20,244.65 477.45,243.75 477.70,243.92 477.95,243.66 478.20,242.59 478.45,244.27 478.70,243.51 478.95,245.31 479.20,243.42 479.45,241.47 479.70,236.99 479.95,235.38 480.20,235.81 480.45,233.83 480.70,233.04 480.95,231.11 481.20,231.63 481.45,229.36 481.70,229.46 481.95,230.61 482.20,229.64 482.45,231.85 482.70,230.81 482.95,232.30 483.20,232.21 483.45,235.30 483.70,233.57 483.95,233.38 484.20,235.97 484.45,234.67 484.70,232.46 484.95,233.49 485.20,233.80 485.45,235.34 485.70,234.10 485.95,234.55 486.20,234.20 486.45,236.57 486.70,235.02 486.95,231.99 487.20,233.15 487.45,233.89 487.70,235.43 487.95,233.88 488.20,233.01 488.45,233.96 488.70,235.24 488.95,235.70 489.20,237.91 489.45,236.91 489.70,241.24 489.95,243.55 490.20,240.86 490.45,242.49 490.70,241.98 490.95,242.61 491.20,241.23 491.45,241.31 491.70,240.41 491.95,238.75 492.20,238.00 492.45,238.87 492.70,235.92 492.95,234.95 493.20,235.77 493.45,237.04 493.70,235.83 493.95,235.96 494.20,234.05 494.45,231.93 494.70,233.67 494.95,231.51 495.20,231.12 495.45,230.20 495.70,230.29 495.95,229.41 496.20,229.92 496.45,233.15 496.70,234.92 496.95,233.43 497.20,234.00 497.45,235.77 497.70,237.44 497.95,236.63 498.20,235.11 498.45,233.46 498.70,232.03 498.95,229.07 499.20,227.47 499.45,227.19 499.70,226.31 499.95,225.63 500.20,227.67 500.45,226.14 500.70,228.79 500.95,230.27 501.20,230.65 501.45,230.09 501.70,229.48 501.95,232.58 502.20,230.27 502.45,229.75 502.70,229.89 502.95,229.24 503.20,229.00 503.45,225.87 503.70,223.17 503.95,223.99 504.20,225.38 504.45,223.14 504.70,223.57 504.95,223.49 505.20,224.81 505.45,223.66 505.70,222.24 505.95,220.93 506.20,220.46 506.45,220.28 506.70,217.75 506.95,216.90 507.20,216.39 507.45,214.03 507.70,215.28 507.95,215.68 508.20,217.65 508.45,217.78 508.70,221.94 508.95,220.07 509.20,218.62 509.45,221.13 509.70,222.13 509.95,221.74 510.20,223.08 510.45,223.18 510.70,223.42 510.95,225.80 511.20,220.77 511.45,220.91 511.70,219.55 511.95,220.21 512.20,222.49 512.45,221.92 512.70,223.82 512.95,224.26 513.20,225.17 513.45,228.34 513.70,228.16 513.95,228.36 514.20,226.94 514.45,224.34 514.70,224.12 514.95,224.70 515.20,224.40 515.45,227.20 515.70,225.23 515.95,222.39 516.20,223.93 516.45,222.41 516.70,217.36 516.95,220.57 517.20,219.52 517.45,220.00 517.70,222.54 517.95,222.26 518.20,223.97 518.45,221.37 518.70,224.30 518.95,221.63 519.20,220.88 519.45,223.32 519.70,222.95 519.95,222.87 520.20,221.98 520.45,223.63 520.70,223.90 520.95,225.12 521.20,225.91 521.45,226.48 521.70,224.88 521.95,227.89 522.20,228.41 522.45,226.46 522.70,229.20 522.95,231.96 523.20,229.51 523.45,229.00 523.70,229.07 523.95,228.42 524.20,226.74 524.45,229.04 524.70,226.43 524.95,225.99 525.20,227.52 525.45,228.17 525.70,226.29 525.95,224.18 526.20,225.20 526.45,223.51 526.70,223.59 526.95,223.99 527.20,222.85 527.45,224.11 527.70,223.11 527.95,223.29 528.20,224.03 528.45,222.47 528.70,224.09 528.95,223.23 529.20,224.42 529.45,223.66 529.70,226.43 529.95,224.18 530.20,222.60 530.45,223.56 530.70,224.82 530.95,222.29 531.20,223.52 531.45,224.28 531.70,224.88 531.95,223.14 532.20,226.65 532.45,227.69 532.70,230.19 532.95,228.91 533.20,227.74 533.45,225.60 533.70,223.65 533.95,225.18 534.20,224.86 534.45,225.81 534.70,225.81 534.95,226.09 535.20,226.96 535.45,226.51 535.70,225.45 535.95,228.14 536.20,228.28 536.45,225.61 536.70,226.13 536.95,227.64 537.20,225.50 537.45,228.99 537.70,229.63 537.95,231.37 538.20,232.43 538.45,232.08 538.70,231.17 538.95,229.59 539.20,230.24 539.45,231.95 539.70,230.28 539.95,232.65 540.20,228.62 540.45,228.66 540.70,229.58 540.95,229.01 541.20,228.76 541.45,225.04 541.70,227.21 541.95,226.48 542.20,228.18 542.45,225.97 542.70,225.88 542.95,227.02 543.20,227.56 543.45,231.04 543.70,227.80 543.95,229.07 544.20,228.84 544.45,225.53 544.70,223.76 544.95,226.82 545.20,227.57 545.45,229.40 545.70,228.71 545.95,228.70 546.20,229.34 546.45,229.83 546.70,232.44 546.95,230.95 547.20,231.37 547.45,234.32 547.70,231.71 547.95,232.30 548.20,233.69 548.45,231.21 548.70,235.54 548.95,237.80 549.20,235.93 549.45,230.08 549.70,232.55 549.95,232.50 550.20,235.01 550.45,233.01 550.70,232.59 550.95,231.42 551.20,231.24 551.45,228.73 551.70,232.12 551.95,229.71 552.20,227.85 552.45,229.00 552.70,230.52 552.95,227.60 553.20,228.85 553.45,227.36 553.70,229.94 553.95,224.66 554.20,225.89 554.45,226.02 554.70,224.89 554.95,222.60 555.20,223.58 555.45,224.61 555.70,222.97 555.95,223.05 556.20,222.38 556.45,224.49 556.70,222.98 556.95,225.32 557.20,225.17 557.45,224.17 557.70,223.85 557.95,225.04 558.20,225.93 558.45,225.02 558.70,226.92 558.95,225.98 559.20,227.78 559.45,226.92 559.70,224.07 559.95,224.01 560.20,225.10 560.45,223.69 560.70,225.17 560.95,224.04 561.20,224.56 561.45,224.78 561.70,222.60 561.95,222.55 562.20,227.71 562.45,225.61 562.70,226.19 562.95,226.55 563.20,224.68 563.45,227.21 563.70,223.78 563.95,220.99 564.20,221.97 564.45,222.19 564.70,222.08 564.95,220.52 565.20,220.52 565.45,220.59 565.70,224.39 565.95,221.19 566.20,220.13 566.45,218.77 566.70,220.27 566.95,218.86 567.20,219.67 567.45,219.15 567.70,219.05 567.95,220.10 568.20,217.26 568.45,216.85 568.70,220.45 568.95,222.29 569.20,221.85 569.45,222.27 569.70,221.56 569.95,223.62 570.20,224.32 570.45,223.99 570.70,227.75 570.95,228.34 571.20,231.89 571.45,231.13 571.70,231.32 571.95,229.52 572.20,228.78 572.45,231.87 572.70,229.88 572.95,226.34 573.20,226.58 573.45,229.82 573.70,230.43 573.95,230.04 574.20,230.03 574.45,233.20 574.70,233.10 574.95,230.93 575.20,233.18 575.45,232.63 575.70,232.72 575.95,229.43 576.20,227.15 576.45,226.17 576.70,224.93 576.95,221.90 577.20,222.79 577.45,224.39 577.70,221.02 577.95,219.65 578.20,219.96 578.45,220.08 578.70,219.13 578.95,221.55 579.20,220.99 579.45,220.86 579.70,221.51 579.95,222.87 580.20,225.21 580.45,223.67 580.70,223.77 580.95,224.96 581.20,223.44 581.45,224.36 581.70,228.52 581.95,226.79 582.20,226.65 582.45,225.06 582.70,229.51 582.95,230.61 583.20,233.82 583.45,235.94 583.70,234.69 583.95,233.29 584.20,231.69 584.45,229.78 584.70,229.59 584.95,229.70 585.20,226.72 585.45,225.82 585.70,227.17 585.95,229.54 586.20,225.11 586.45,227.38 586.70,227.83 586.95,227.57 587.20,226.58 587.45,224.85 587.70,226.05 587.95,225.63 588.20,227.06 588.45,225.20 588.70,223.83 588.95,221.87 589.20,223.19 589.45,220.69 589.70,220.65 589.95,220.16 590.20,222.39 590.45,217.58 590.70,219.49 590.95,223.42 591.20,221.40 591.45,223.35 591.70,224.29 591.95,222.00 592.20,221.69 592.45,223.16 592.70,221.48 592.95,220.33 593.20,222.57 593.45,221.57 593.70,224.71 593.95,222.23 594.20,224.30 594.45,224.97 594.70,226.89 594.95,227.46 595.20,230.20 595.45,228.90 595.70,228.91 595.95,230.17 596.20,230.56 596.45,230.35 596.70,231.09 596.95,230.05 597.20,231.79 597.45,230.47 597.70,228.16 597.95,229.62 598.20,226.95 598.45,226.47 598.70,225.42 598.95,225.92 599.20,226.22 599.45,226.56 599.70,226.17 599.95,226.86 600.20,226.86 600.45,226.10 600.70,225.84 600.95,225.29 601.20,226.61 601.45,226.93 601.70,228.72 601.95,229.24 602.20,226.94 602.45,227.11 602.70,227.15 602.95,225.20 603.20,223.43 603.45,222.19 603.70,222.38 603.95,221.09 604.20,221.40 604.45,221.08 604.70,224.42 604.95,224.44 605.20,226.08 605.45,227.27 605.70,229.75 605.95,231.48 606.20,229.65 606.45,229.05 606.70,229.49 606.95,229.67 607.20,231.52 607.45,233.80 607.70,230.84 607.95,233.04 608.20,234.86 608.45,232.26 608.70,234.78 608.95,235.81 609.20,233.46 609.45,233.53 609.70,233.69 609.95,233.01 610.20,229.70 610.45,231.09 610.70,230.14 610.95,230.44 611.20,229.40 611.45,225.58 611.70,227.13 611.95,231.79 612.20,234.73 612.45,232.80 612.70,234.67 612.95,229.70 613.20,231.37 613.45,231.55 613.70,228.99 613.95,226.86 614.20,226.75 614.45,226.09 614.70,223.27 614.95,225.07 615.20,225.13 615.45,225.21 615.70,225.04 615.95,221.72 616.20,227.60 616.45,226.33 616.70,226.05 616.95,224.63 617.20,226.09 617.45,226.03 617.70,228.43 617.95,227.21 618.20,230.45 618.45,233.46 618.70,234.80 618.95,235.78 619.20,236.26 619.45,237.09 619.70,234.47 619.95,234.48 620.20,235.67 620.45,235.41 620.70,233.61 620.95,234.76 621.20,234.64 621.45,233.91 621.70,232.44 621.95,233.08 622.20,231.17 622.45,232.97 622.70,230.41 622.95,230.82 623.20,232.32 623.45,230.84 623.70,231.99 623.95,229.04 624.20,229.89 624.45,230.60 624.70,230.85 624.95,229.20 625.20,226.76 625.45,229.35 625.70,229.67 625.95,228.07 626.20,229.35 626.45,227.50 626.70,226.96 626.95,231.01 627.20,231.57 627.45,231.32 627.70,230.08 627.95,230.06 628.20,229.40 628.45,231.19 628.70,232.79 628.95,231.85 629.20,228.98 629.45,230.97 629.70,230.04 629.95,229.21 630.20,230.20 630.45,231.28 630.70,230.93 630.95,231.10 631.20,230.71 631.45,227.58 631.70,226.69 631.95,226.60 632.20,225.45 632.45,225.24 632.70,227.49 632.95,226.23 633.20,228.47 633.45,226.45 633.70,229.60 633.95,228.48 634.20,226.48 634.45,227.94 634.70,227.49 634.95,226.87 635.20,226.23 635.45,228.59 635.70,227.34 635.95,230.80 636.20,228.89 636.45,231.43 636.70,231.04 636.95,231.75 637.20,228.26 637.45,228.25 637.70,227.22 637.95,225.52 638.20,221.76 638.45,220.61 638.70,220.83 638.95,221.40 639.20,222.43 639.45,221.22 639.70,222.62 639.95,222.59 640.20,221.44 640.45,221.95 640.70,224.55 640.95,224.72 641.20,223.10 641.45,222.77 641.70,222.96 641.95,223.42 642.20,228.05 642.45,226.94 642.70,228.99 642.95,229.72 643.20,228.12 643.45,228.13 643.70,223.41 643.95,226.98 644.20,225.43 644.45,225.30 644.70,224.65 644.95,223.90 645.20,224.74 645.45,226.60 645.70,225.47 645.95,226.25 646.20,225.31 646.45,225.54 646.70,228.21 646.95,226.08 647.20,226.16 647.45,226.05 647.70,225.00 647.95,226.84 648.20,226.48 648.45,227.99 648.70,223.18 648.95,224.39 649.20,220.43 649.45,222.71 649.70,225.41 649.95,223.49 650.20,223.69 650.45,225.98 650.70,225.14 650.95,226.11 651.20,228.00 651.45,226.05 651.70,226.41 651.95,223.54 652.20,226.17 652.45,225.00 652.70,228.30 652.95,226.09 653.20,228.22 653.45,230.68 653.70,227.94 653.95,227.41 654.20,227.89 654.45,228.50 654.70,230.55 654.95,226.84 655.20,227.12 655.45,228.68 655.70,229.64 655.95,232.83 656.20,230.40 656.45,230.18 656.70,230.51 656.95,225.78 657.20,227.76 657.45,227.57 657.70,229.06 657.95,229.09 658.20,229.09 658.45,228.32 658.70,225.46 658.95,226.34 659.20,225.43 659.45,227.29 659.70,222.34 659.95,220.74 660.20,223.44 660.45,220.58 660.70,225.03 660.95,224.66 661.20,226.11 661.45,226.60 661.70,226.05 661.95,226.06 662.20,225.93"/>
<polyline fill="none" stroke="#008000" stroke-width="1.1" stroke-linejoin="round" points="472.10,275.17 472.35,275.97 472.60,273.70 472.85,273.43 473.10,272.12 473.35,271.96 473.60,273.49 473.85,273.30 474.10,271.59 474.35,273.39 474.60,275.12 474.85,275.68 475.10,276.52 475.35,278.98 475.60,280.21 475.85,280.27 476.10,280.06 476.35,281.55 476.60,280.25 476.85,278.34 477.10,278.79 477.35,277.36 477.60,278.76 477.85,275.65 478.10,278.83 478.35,280.34 478.60,278.76 478.85,281.14 479.10,283.56 479.35,282.50 479.60,280.70 479.85,278.48 480.10,277.60 480.35,276.93 480.60,273.12 480.85,274.95 481.10,275.23 481.35,277.22 481.60,274.31 481.85,272.23 482.10,272.62 482.35,275.10 482.60,270.79 482.85,269.57 483.10,268.75 483.35,269.23 483.60,266.36 483.85,267.99 484.10,266.49 484.35,270.18 484.60,268.35 484.85,269.15 485.10,268.26 485.35,268.09 485.60,266.70 485.85,265.42 486.10,265.80 486.35,267.36 486.60,267.09 486.85,263.19 487.10,265.08 487.35,263.13 487.60,263.33 487.85,262.86 488.10,262.73 488.35,264.46 488.60,265.48 488.85,267.59 489.10,268.51 489.35,270.09 489.60,270.68 489.85,270.75 490.10,268.18 490.35,269.20 490.60,270.28 490.85,272.62 491.10,270.68 491.35,270.73 491.60,272.14 491.85,273.05 492.10,269.48 492.35,269.23 492.60,271.65 492.85,270.75 493.10,269.96 493.35,270.36 493.60,272.36 493.85,273.26 494.10,275.24 494.35,275.62 494.60,275.15 494.85,274.79 495.10,275.36 495.35,275.68 495.60,277.28 495.85,279.42 496.10,276.15 496.35,275.80 496.60,274.02 496.85,275.18 497.10,273.96 497.35,275.32 497.60,276.58 497.85,276.48 498.10,277.80 498.35,279.55 498.60,278.15 498.85,278.64 499.10,278.76 499.35,277.36 499.60,273.69 499.85,275.44 500.10,277.06 500.35,273.62 500.60,276.45 500.85,277.25 501.10,275.26 501.35,277.65 501.60,274.76 501.85,277.47 502.10,276.88 502.35,279.25 502.60,280.12 502.85,278.66 503.10,279.08 503.35,278.41 503.60,278.72 503.85,276.89 504.10,277.03 504.35,276.56 504.60,275.55 504.85,276.81 505.10,276.30 505.35,278.42 505.60,277.59 505.85,277.04 506.10,277.46 506.35,276.19 506.60,276.13 506.85,279.82 507.10,277.65 507.35,276.03 507.60,276.29 507.85,277.42 508.10,277.54 508.35,274.43 508.60,276.28 508.85,271.37 509.10,273.69 509.35,273.23 509.60,273.83 509.85,271.47 510.10,274.54 510.35,272.45 510.60,274.39 510.85,274.33 511.10,275.15 511.35,269.19 511.60,275.46 511.85,274.13 512.10,273.08 512.35,274.68 512.60,272.52 512.85,273.88 513.10,277.23 513.35,275.05 513.60,273.01 513.85,274.52 514.10,272.78 514.35,272.15 514.60,273.37 514.85,271.95 515.10,271.33 515.35,271.75 515.60,273.26 515.85,272.37 516.10,271.23 516.35,270.11 516.60,271.90 516.85,269.39 517.10,270.42 517.35,271.10 517.60,269.91 517.85,267.30 518.10,267.00 518.35,267.58 518.60,267.93 518.85,264.51 519.10,265.53 519.35,267.25 519.60,267.73 519.85,266.66 520.10,266.95 520.35,264.37 520.60,264.65 520.85,265.14 521.10,261.34 521.35,262.99 521.60,260.89 521.85,261.03 522.10,261.03 522.35,258.25 522.60,257.78 522.85,257.73 523.10,258.20 523.35,260.20 523.60,259.21 523.85,260.03 524.10,263.96 524.35,267.25 524.60,266.86 524.85,267.83 525.10,266.81 525.35,265.19 525.60,265.83 525.85,266.04 526.10,267.20 526.35,266.95 526.60,264.39 526.85,264.64 527.10,263.34 527.35,262.50 527.60,261.05 527.85,260.47 528.10,260.16 528.35,262.27 528.60,260.26 528.85,260.78 529.10,263.58 529.35,265.00 529.60,267.30 529.85,267.72 530.10,266.36 530.35,267.53 530.60,265.51 530.85,267.28 531.10,266.61 531.35,268.65 531.60,267.58 531.85,264.40 532.10,264.92 532.35,263.33 532.60,265.00 532.85,265.15 533.10,264.69 533.35,268.06 533.60,262.83 533.85,265.01 534.10,264.87 534.35,264.39 534.60,264.70 534.85,265.28 535.10,264.46 535.35,263.04 535.60,267.12 535.85,269.13 536.10,268.34 536.35,271.08 536.60,269.89 536.85,268.67 537.10,269.89 537.35,270.33 537.60,273.96 537.85,273.78 538.10,273.06 538.35,269.39 538.60,268.48 538.85,267.66 539.10,267.79 539.35,270.03 539.60,269.13 539.85,269.44 540.10,268.88 540.35,268.21 540.60,269.04 540.85,270.05 541.10,267.24 541.35,268.50 541.60,267.76 541.85,267.74 542.10,265.59 542.35,265.26 542.60,262.63 542.85,265.07 543.10,266.09 543.35,263.88 543.60,265.91 543.85,268.20 544.10,270.91 544.35,269.36 544.60,273.20 544.85,272.79 545.10,272.53 545.35,272.46 545.60,269.03 545.85,268.69 546.10,270.68 546.35,272.48 546.60,271.41 546.85,272.55 547.10,273.75 547.35,269.22 547.60,270.18 547.85,269.70 548.10,271.41 548.35,269.84 548.60,270.47 548.85,271.19 549.10,270.96 549.35,271.98 549.60,269.62 549.85,268.13 550.10,270.98 550.35,270.08 550.60,269.77 550.85,269.95 551.10,269.46 551.35,270.42 551.60,272.86 551.85,272.07 552.10,269.91 552.35,269.48 552.60,266.59 552.85,271.33 553.10,266.79 553.35,267.24 553.60,271.53 553.85,271.99 554.10,274.20 554.35,275.33 554.60,277.28 554.85,273.95 555.10,271.37 555.35,271.92 555.60,267.94 555.85,266.52 556.10,269.07 556.35,268.02 556.60,270.50 556.85,270.87 557.10,270.82 557.35,272.69 557.60,271.10 557.85,272.95 558.10,270.57 558.35,270.45 558.60,268.31 558.85,264.93 559.10,265.32 559.35,266.60 559.60,265.02 559.85,268.28 560.10,268.29 560.35,268.66 560.60,265.32 560.85,266.52 561.10,267.32 561.35,267.59 561.60,267.21 561.85,267.33 562.10,268.75 562.35,272.80 562.60,272.51 562.85,273.74 563.10,269.84 563.35,269.90 563.60,272.43 563.85,271.19 564.10,269.75 564.35,268.66 564.60,267.50 564.85,267.23 565.10,268.53 565.35,268.22 565.60,270.03 565.85,267.56 566.10,268.13 566.35,269.24 566.60,269.75 566.85,270.94 567.10,270.05 567.35,270.48 567.60,271.00 567.85,273.00 568.10,273.74 568.35,272.57 568.60,272.60 568.85,272.24 569.10,274.70 569.35,273.65 569.60,275.64 569.85,273.37 570.10,272.99 570.35,274.37 570.60,276.76 570.85,274.82 571.10,275.27 571.35,273.79 571.60,268.78 571.85,267.67 572.10,268.81 572.35,267.86 572.60,268.37 572.85,267.10 573.10,265.84 573.35,268.71 573.60,273.09 573.85,271.51 574.10,273.88 574.35,272.87 574.60,273.49 574.85,272.35 575.10,272.91 575.35,276.88 575.60,274.75 575.85,273.21 576.10,271.55 576.35,271.11 576.60,274.12 576.85,273.53 577.10,274.41 577.35,276.59 577.60,275.33 577.85,274.02 578.10,275.23 578.35,275.98 578.60,276.26 578.85,277.60 579.10,277.88 579.35,274.28 579.60,275.02 579.85,278.18 580.10,278.32 580.35,279.99 580.60,275.44 580.85,277.19 581.10,275.15 581.35,275.22 581.60,277.28 581.85,277.64 582.10,277.29 582.35,275.40 582.60,271.84 582.85,270.76 583.10,270.83 583.35,272.59 583.60,274.07 583.85,273.32 584.10,273.18 584.35,271.96 584.60,272.28 584.85,274.50 585.10,275.51 585.35,273.02 585.60,275.77 585.85,275.86 586.10,275.30 586.35,275.32 586.60,273.40 586.85,271.85 587.10,272.31 587.35,273.11 587.60,274.45 587.85,274.02 588.10,273.87 588.35,273.83 588.60,272.69 588.85,271.35 589.10,272.08 589.35,271.88 589.60,271.50 589.85,272.55 590.10,274.53 590.35,273.86 590.60,276.17 590.85,275.55 591.10,274.06 591.35,271.98 591.60,270.40 591.85,270.31 592.10,269.72 592.35,271.14 592.60,271.09 592.85,270.93 593.10,267.68 593.35,268.36 593.60,269.15 593.85,268.37 594.10,266.85 594.35,266.91 594.60,266.77 594.85,269.07 595.10,270.67 595.35,271.24 595.60,270.06 595.85,270.93 596.10,269.66 596.35,269.97 596.60,270.81 596.85,271.28 597.10,270.89 597.35,271.58 597.60,271.10 597.85,269.90 598.10,270.36 598.35,271.30 598.60,270.24 598.85,270.44 599.10,272.02 599.35,270.62 599.60,271.25 599.85,271.19 600.10,273.88 600.35,274.06 600.60,275.00 600.85,276.37 601.10,279.35 601.35,276.61 601.60,274.78 601.85,278.72 602.10,276.51 602.35,276.48 602.60,278.45 602.85,276.82 603.10,276.31 603.35,275.48 603.60,275.10 603.85,273.15 604.10,273.17 604.35,272.95 604.60,273.86 604.85,274.93 605.10,273.55 605.35,273.49 605.60,273.82 605.85,272.77 606.10,275.14 606.35,275.20 606.60,273.90 606.85,273.43 607.10,275.42 607.35,274.46 607.60,275.22 607.85,272.56 608.10,274.49 608.35,274.77 608.60,274.66 608.85,274.74 609.10,274.46 609.35,275.18 609.60,276.77 609.85,277.75 610.10,279.00 610.35,278.68 610.60,280.99 610.85,279.32 611.10,278.62 611.35,280.12 611.60,279.13 611.85,277.26 612.10,276.19 612.35,276.67 612.60,278.16 612.85,278.25 613.10,273.92 613.35,275.93 613.60,277.62 613.85,276.86 614.10,277.53 614.35,278.68 614.60,279.86 614.85,280.74 615.10,279.00 615.35,280.36 615.60,280.02 615.85,279.66 616.10,280.26 616.35,278.91 616.60,277.79 616.85,274.68 617.10,275.22 617.35,277.30 617.60,275.02 617.85,273.89 618.10,272.89 618.35,272.94 618.60,274.45 618.85,274.41 619.10,275.07 619.35,274.76 619.60,279.76 619.85,280.07 620.10,278.17 620.35,276.88 620.60,274.78 620.85,277.62 621.10,273.99 621.35,273.55 621.60,273.66 621.85,271.47 622.10,272.80 622.35,274.19 622.60,274.00 622.85,272.11 623.10,270.81 623.35,270.29 623.60,270.66 623.85,268.42 624.10,270.87 624.35,268.68 624.60,271.55 624.85,273.24 625.10,275.73 625.35,275.30 625.60,270.86 625.85,271.38 626.10,270.22 626.35,268.74 626.60,267.31 626.85,267.46 627.10,267.79 627.35,267.06 627.60,268.45 627.85,270.14 628.10,269.24 628.35,268.37 628.60,265.65 628.85,264.95 629.10,267.52 629.35,268.37 629.60,268.96 629.85,266.49 630.10,266.25 630.35,268.51 630.60,267.05 630.85,266.65 631.10,268.44 631.35,265.78 631.60,266.65 631.85,266.26 632.10,268.14 632.35,264.37 632.60,264.01 632.85,261.99 633.10,262.44 633.35,266.13 633.60,264.49 633.85,266.57 634.10,264.61 634.35,266.63 634.60,266.32 634.85,264.79 635.10,267.52 635.35,265.09 635.60,262.94 635.85,263.29 636.10,262.92 636.35,262.40 636.60,266.91 636.85,265.67 637.10,264.72 637.35,268.20 637.60,267.07 637.85,265.72 638.10,266.99 638.35,265.82 638.60,265.57 638.85,265.25 639.10,264.32 639.35,266.90 639.60,265.82 639.85,265.83 640.10,264.68 640.35,263.88 640.60,262.62 640.85,263.64 641.10,260.25 641.35,261.20 641.60,262.97 641.85,261.67 642.10,262.29 642.35,264.90 642.60,262.80 642.85,262.38 643.10,262.73 643.35,266.31 643.60,266.09 643.85,263.10 644.10,265.62 644.35,263.27 644.60,264.76"/>
</g>
<g>
<text x="39.3" y="20.9" font-size="12.6" fill="#000" text-anchor="start" >5 Weeks</text>
<text x="257.3" y="19.0" font-size="12.6" fill="#000" text-anchor="start" >30 Weeks</text>
<text x="478.3" y="18.7" font-size="12.6" fill="#000" text-anchor="start" >70 Weeks</text>
<text x="29.00" y="318.0" font-size="12.3" fill="#000" text-anchor="middle" >0</text>
<text x="67.80" y="318.0" font-size="12.3" fill="#000" text-anchor="middle" >200</text>
<text x="106.60" y="318.0" font-size="12.3" fill="#000" text-anchor="middle" >400</text>
<text x="145.40" y="318.0" font-size="12.3" fill="#000" text-anchor="middle" >600</text>
<text x="184.20" y="318.0" font-size="12.3" fill="#000" text-anchor="middle" >800</text>
<text x="223.00" y="318.0" font-size="12.3" fill="#000" text-anchor="middle" >1000</text>
<text x="125.9" y="340.6" font-size="12.5" fill="#000" text-anchor="middle" >Time (ms)</text>
<text x="250.50" y="316.15" font-size="12.3" fill="#000" text-anchor="middle" >0</text>
<text x="289.30" y="316.15" font-size="12.3" fill="#000" text-anchor="middle" >200</text>
<text x="328.10" y="316.15" font-size="12.3" fill="#000" text-anchor="middle" >400</text>
<text x="366.90" y="316.15" font-size="12.3" fill="#000" text-anchor="middle" >600</text>
<text x="405.70" y="316.15" font-size="12.3" fill="#000" text-anchor="middle" >800</text>
<text x="444.50" y="316.15" font-size="12.3" fill="#000" text-anchor="middle" >1000</text>
<text x="348.1" y="339.3" font-size="12.5" fill="#000" text-anchor="middle" >Time (ms)</text>
<text x="471.50" y="315.5" font-size="12.3" fill="#000" text-anchor="middle" >0</text>
<text x="510.30" y="315.5" font-size="12.3" fill="#000" text-anchor="middle" >200</text>
<text x="549.10" y="315.5" font-size="12.3" fill="#000" text-anchor="middle" >400</text>
<text x="587.90" y="315.5" font-size="12.3" fill="#000" text-anchor="middle" >600</text>
<text x="626.70" y="315.5" font-size="12.3" fill="#000" text-anchor="middle" >800</text>
<text x="665.50" y="315.5" font-size="12.3" fill="#000" text-anchor="middle" >1000</text>
<text x="569.3" y="338.9" font-size="12.5" fill="#000" text-anchor="middle" >Time (ms)</text>
<text x="674.6" y="45.9" font-size="12.5" fill="#000" text-anchor="start" >2 Hz</text>
<text x="674.6" y="128.5" font-size="12.5" fill="#ff0000" text-anchor="start" >4 Hz</text>
<text x="675.5" y="183.1" font-size="12.5" fill="#1a1aff" text-anchor="start" >8 Hz</text>
<text x="675.3" y="230.5" font-size="12.5" fill="#9b1c1c" text-anchor="start" >16 Hz</text>
<text x="676.0" y="278.8" font-size="12.5" fill="#1f8f1f" text-anchor="start" >31 Hz</text>
<text x="0" y="0" font-size="12.5" fill="#000" text-anchor="middle" transform="translate(9.6,148.9) rotate(-90)">Amplitude (25 µV/div)</text>
</g>
</svg>
</body></html>
